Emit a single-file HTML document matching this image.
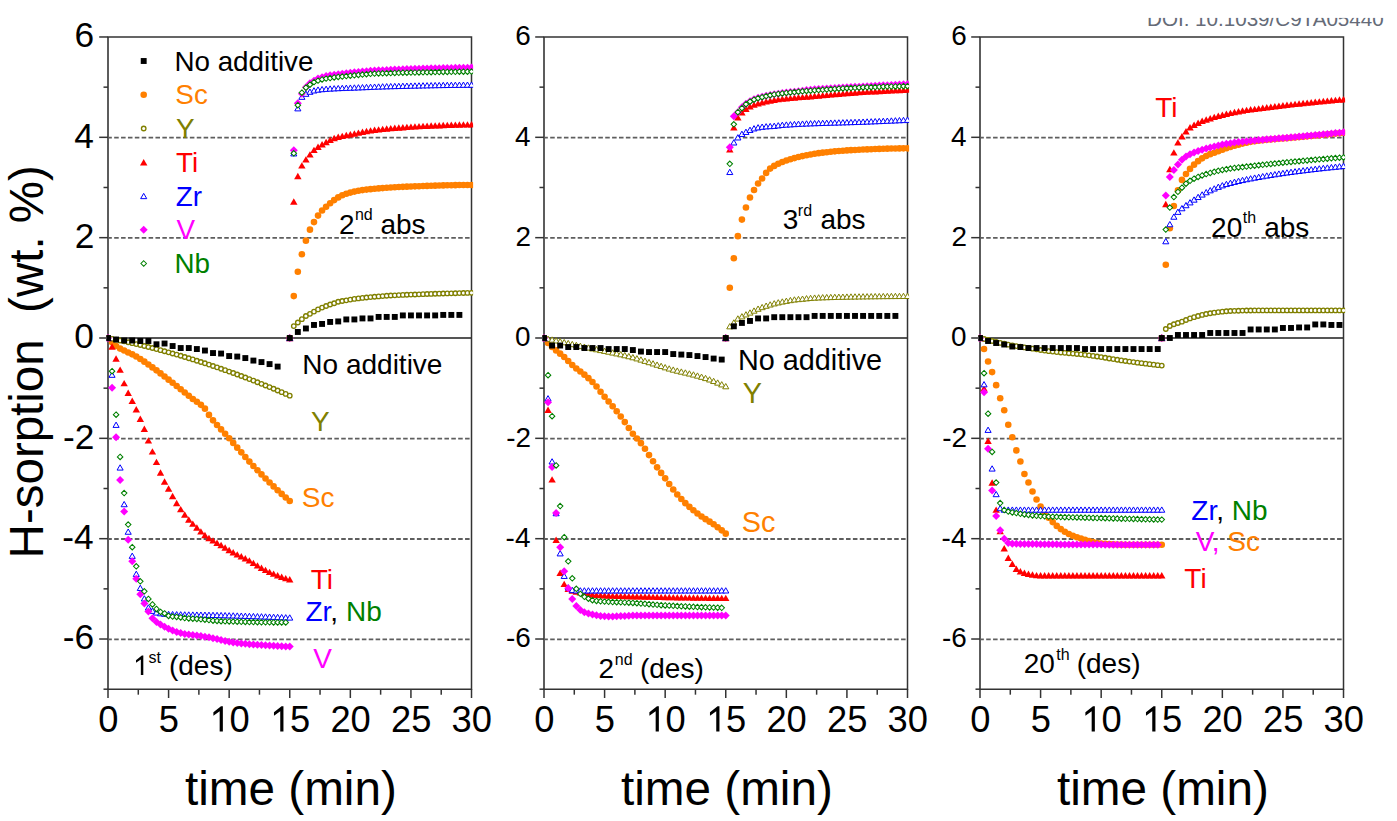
<!DOCTYPE html>
<html><head><meta charset="utf-8"><title>H-sorption</title>
<style>
html,body{margin:0;padding:0;background:#fff;}
svg{display:block;}
text{font-family:"Liberation Sans",sans-serif;}
</style></head><body>
<svg width="1397" height="821" viewBox="0 0 1397 821">
<rect width="1397" height="821" fill="#fff"/>
<g stroke="#5e5e5e" stroke-width="1.8" stroke-dasharray="4.55,2.33"><line x1="107.30" y1="137.62" x2="471.51" y2="137.62"/><line x1="107.30" y1="237.96" x2="471.51" y2="237.96"/><line x1="107.30" y1="438.64" x2="471.51" y2="438.64"/><line x1="107.30" y1="538.98" x2="471.51" y2="538.98"/><line x1="107.30" y1="639.32" x2="471.51" y2="639.32"/></g><line x1="108.0" y1="338.00" x2="471.51" y2="338.00" stroke="#555" stroke-width="1.8"/><line x1="108.0" y1="36.98" x2="108.0" y2="689.19" stroke="#5c5c5c" stroke-width="2"/><path d="M107.50,36.98H471.51V689.19H107.50" fill="none" stroke="#333" stroke-width="1.5"/><g stroke="#333" stroke-width="1.5"><line x1="103.5" y1="689.19" x2="108.0" y2="689.19"/><line x1="99.2" y1="639.02" x2="108.0" y2="639.02"/><line x1="103.5" y1="588.85" x2="108.0" y2="588.85"/><line x1="99.2" y1="538.68" x2="108.0" y2="538.68"/><line x1="103.5" y1="488.51" x2="108.0" y2="488.51"/><line x1="99.2" y1="438.34" x2="108.0" y2="438.34"/><line x1="103.5" y1="388.17" x2="108.0" y2="388.17"/><line x1="99.2" y1="338.00" x2="108.0" y2="338.00"/><line x1="103.5" y1="287.83" x2="108.0" y2="287.83"/><line x1="99.2" y1="237.66" x2="108.0" y2="237.66"/><line x1="103.5" y1="187.49" x2="108.0" y2="187.49"/><line x1="99.2" y1="137.32" x2="108.0" y2="137.32"/><line x1="103.5" y1="87.15" x2="108.0" y2="87.15"/><line x1="99.2" y1="36.98" x2="108.0" y2="36.98"/><line x1="108.00" y1="689.19" x2="108.00" y2="697.99"/><line x1="138.29" y1="689.19" x2="138.29" y2="694.69"/><line x1="168.59" y1="689.19" x2="168.59" y2="697.99"/><line x1="198.88" y1="689.19" x2="198.88" y2="694.69"/><line x1="229.17" y1="689.19" x2="229.17" y2="697.99"/><line x1="259.46" y1="689.19" x2="259.46" y2="694.69"/><line x1="289.75" y1="689.19" x2="289.75" y2="697.99"/><line x1="320.05" y1="689.19" x2="320.05" y2="694.69"/><line x1="350.34" y1="689.19" x2="350.34" y2="697.99"/><line x1="380.63" y1="689.19" x2="380.63" y2="694.69"/><line x1="410.93" y1="689.19" x2="410.93" y2="697.99"/><line x1="441.22" y1="689.19" x2="441.22" y2="694.69"/><line x1="471.51" y1="689.19" x2="471.51" y2="697.99"/></g><text x="108.30" y="731.6" font-size="36.3" text-anchor="middle">0</text><text x="168.89" y="731.6" font-size="36.3" text-anchor="middle">5</text><path d="M222.86,731.60L222.86,706.19L220.98,706.19L213.39,712.29L213.39,715.63L219.67,711.27L219.67,731.60Z" fill="#000"/><text x="229.47" y="731.6" font-size="36.3">0</text><path d="M283.45,731.60L283.45,706.19L281.56,706.19L273.97,712.29L273.97,715.63L280.25,711.27L280.25,731.60Z" fill="#000"/><text x="290.06" y="731.6" font-size="36.3">5</text><text x="350.64" y="731.6" font-size="36.3" text-anchor="middle">20</text><text x="411.23" y="731.6" font-size="36.3" text-anchor="middle">25</text><text x="471.81" y="731.6" font-size="36.3" text-anchor="middle">30</text><text x="74.52" y="47.38" font-size="35.3" fill="#000">6</text><text x="74.17" y="147.72" font-size="35.3" fill="#000">4</text><text x="74.87" y="248.06" font-size="35.3" fill="#000">2</text><text x="74.34" y="348.40" font-size="35.3" fill="#000">0</text><text x="63.05" y="448.74" font-size="35.3" fill="#000">-2</text><text x="62.34" y="549.08" font-size="35.3" fill="#000">-4</text><text x="62.70" y="649.42" font-size="35.3" fill="#000">-6</text><text x="184.93" y="804.50" font-size="47.7" fill="#000">time (min)</text><g stroke="#5e5e5e" stroke-width="1.8" stroke-dasharray="4.55,2.33"><line x1="543.30" y1="137.62" x2="907.51" y2="137.62"/><line x1="543.30" y1="237.96" x2="907.51" y2="237.96"/><line x1="543.30" y1="438.64" x2="907.51" y2="438.64"/><line x1="543.30" y1="538.98" x2="907.51" y2="538.98"/><line x1="543.30" y1="639.32" x2="907.51" y2="639.32"/></g><line x1="544.0" y1="338.00" x2="907.51" y2="338.00" stroke="#555" stroke-width="1.8"/><line x1="544.0" y1="36.98" x2="544.0" y2="689.19" stroke="#5c5c5c" stroke-width="2"/><path d="M543.50,36.98H907.51V689.19H543.50" fill="none" stroke="#333" stroke-width="1.5"/><g stroke="#333" stroke-width="1.5"><line x1="539.5" y1="689.19" x2="544.0" y2="689.19"/><line x1="535.2" y1="639.02" x2="544.0" y2="639.02"/><line x1="539.5" y1="588.85" x2="544.0" y2="588.85"/><line x1="535.2" y1="538.68" x2="544.0" y2="538.68"/><line x1="539.5" y1="488.51" x2="544.0" y2="488.51"/><line x1="535.2" y1="438.34" x2="544.0" y2="438.34"/><line x1="539.5" y1="388.17" x2="544.0" y2="388.17"/><line x1="535.2" y1="338.00" x2="544.0" y2="338.00"/><line x1="539.5" y1="287.83" x2="544.0" y2="287.83"/><line x1="535.2" y1="237.66" x2="544.0" y2="237.66"/><line x1="539.5" y1="187.49" x2="544.0" y2="187.49"/><line x1="535.2" y1="137.32" x2="544.0" y2="137.32"/><line x1="539.5" y1="87.15" x2="544.0" y2="87.15"/><line x1="535.2" y1="36.98" x2="544.0" y2="36.98"/><line x1="544.00" y1="689.19" x2="544.00" y2="697.99"/><line x1="574.29" y1="689.19" x2="574.29" y2="694.69"/><line x1="604.59" y1="689.19" x2="604.59" y2="697.99"/><line x1="634.88" y1="689.19" x2="634.88" y2="694.69"/><line x1="665.17" y1="689.19" x2="665.17" y2="697.99"/><line x1="695.46" y1="689.19" x2="695.46" y2="694.69"/><line x1="725.75" y1="689.19" x2="725.75" y2="697.99"/><line x1="756.05" y1="689.19" x2="756.05" y2="694.69"/><line x1="786.34" y1="689.19" x2="786.34" y2="697.99"/><line x1="816.63" y1="689.19" x2="816.63" y2="694.69"/><line x1="846.92" y1="689.19" x2="846.92" y2="697.99"/><line x1="877.22" y1="689.19" x2="877.22" y2="694.69"/><line x1="907.51" y1="689.19" x2="907.51" y2="697.99"/></g><text x="544.30" y="731.6" font-size="36.3" text-anchor="middle">0</text><text x="604.88" y="731.6" font-size="36.3" text-anchor="middle">5</text><path d="M658.86,731.60L658.86,706.19L656.98,706.19L649.39,712.29L649.39,715.63L655.67,711.27L655.67,731.60Z" fill="#000"/><text x="665.47" y="731.6" font-size="36.3">0</text><path d="M719.45,731.60L719.45,706.19L717.56,706.19L709.97,712.29L709.97,715.63L716.25,711.27L716.25,731.60Z" fill="#000"/><text x="726.05" y="731.6" font-size="36.3">5</text><text x="786.64" y="731.6" font-size="36.3" text-anchor="middle">20</text><text x="847.22" y="731.6" font-size="36.3" text-anchor="middle">25</text><text x="907.81" y="731.6" font-size="36.3" text-anchor="middle">30</text><text x="515.23" y="45.38" font-size="27.9" fill="#000">6</text><text x="514.95" y="145.72" font-size="27.9" fill="#000">4</text><text x="515.51" y="246.06" font-size="27.9" fill="#000">2</text><text x="515.09" y="346.40" font-size="27.9" fill="#000">0</text><text x="506.16" y="446.74" font-size="27.9" fill="#000">-2</text><text x="505.61" y="547.08" font-size="27.9" fill="#000">-4</text><text x="505.89" y="647.42" font-size="27.9" fill="#000">-6</text><text x="620.93" y="804.50" font-size="47.7" fill="#000">time (min)</text><g stroke="#5e5e5e" stroke-width="1.8" stroke-dasharray="4.55,2.33"><line x1="979.30" y1="137.62" x2="1343.51" y2="137.62"/><line x1="979.30" y1="237.96" x2="1343.51" y2="237.96"/><line x1="979.30" y1="438.64" x2="1343.51" y2="438.64"/><line x1="979.30" y1="538.98" x2="1343.51" y2="538.98"/><line x1="979.30" y1="639.32" x2="1343.51" y2="639.32"/></g><line x1="980.0" y1="338.00" x2="1343.51" y2="338.00" stroke="#555" stroke-width="1.8"/><line x1="980.0" y1="36.98" x2="980.0" y2="689.19" stroke="#5c5c5c" stroke-width="2"/><path d="M979.50,36.98H1343.51V689.19H979.50" fill="none" stroke="#333" stroke-width="1.5"/><g stroke="#333" stroke-width="1.5"><line x1="975.5" y1="689.19" x2="980.0" y2="689.19"/><line x1="971.2" y1="639.02" x2="980.0" y2="639.02"/><line x1="975.5" y1="588.85" x2="980.0" y2="588.85"/><line x1="971.2" y1="538.68" x2="980.0" y2="538.68"/><line x1="975.5" y1="488.51" x2="980.0" y2="488.51"/><line x1="971.2" y1="438.34" x2="980.0" y2="438.34"/><line x1="975.5" y1="388.17" x2="980.0" y2="388.17"/><line x1="971.2" y1="338.00" x2="980.0" y2="338.00"/><line x1="975.5" y1="287.83" x2="980.0" y2="287.83"/><line x1="971.2" y1="237.66" x2="980.0" y2="237.66"/><line x1="975.5" y1="187.49" x2="980.0" y2="187.49"/><line x1="971.2" y1="137.32" x2="980.0" y2="137.32"/><line x1="975.5" y1="87.15" x2="980.0" y2="87.15"/><line x1="971.2" y1="36.98" x2="980.0" y2="36.98"/><line x1="980.00" y1="689.19" x2="980.00" y2="697.99"/><line x1="1010.29" y1="689.19" x2="1010.29" y2="694.69"/><line x1="1040.59" y1="689.19" x2="1040.59" y2="697.99"/><line x1="1070.88" y1="689.19" x2="1070.88" y2="694.69"/><line x1="1101.17" y1="689.19" x2="1101.17" y2="697.99"/><line x1="1131.46" y1="689.19" x2="1131.46" y2="694.69"/><line x1="1161.76" y1="689.19" x2="1161.76" y2="697.99"/><line x1="1192.05" y1="689.19" x2="1192.05" y2="694.69"/><line x1="1222.34" y1="689.19" x2="1222.34" y2="697.99"/><line x1="1252.63" y1="689.19" x2="1252.63" y2="694.69"/><line x1="1282.92" y1="689.19" x2="1282.92" y2="697.99"/><line x1="1313.22" y1="689.19" x2="1313.22" y2="694.69"/><line x1="1343.51" y1="689.19" x2="1343.51" y2="697.99"/></g><text x="980.30" y="731.6" font-size="36.3" text-anchor="middle">0</text><text x="1040.88" y="731.6" font-size="36.3" text-anchor="middle">5</text><path d="M1094.86,731.60L1094.86,706.19L1092.98,706.19L1085.39,712.29L1085.39,715.63L1091.67,711.27L1091.67,731.60Z" fill="#000"/><text x="1101.47" y="731.6" font-size="36.3">0</text><path d="M1155.45,731.60L1155.45,706.19L1153.56,706.19L1145.97,712.29L1145.97,715.63L1152.25,711.27L1152.25,731.60Z" fill="#000"/><text x="1162.06" y="731.6" font-size="36.3">5</text><text x="1222.64" y="731.6" font-size="36.3" text-anchor="middle">20</text><text x="1283.22" y="731.6" font-size="36.3" text-anchor="middle">25</text><text x="1343.81" y="731.6" font-size="36.3" text-anchor="middle">30</text><text x="951.23" y="45.38" font-size="27.9" fill="#000">6</text><text x="950.95" y="145.72" font-size="27.9" fill="#000">4</text><text x="951.51" y="246.06" font-size="27.9" fill="#000">2</text><text x="951.09" y="346.40" font-size="27.9" fill="#000">0</text><text x="942.16" y="446.74" font-size="27.9" fill="#000">-2</text><text x="941.61" y="547.08" font-size="27.9" fill="#000">-4</text><text x="941.88" y="647.42" font-size="27.9" fill="#000">-6</text><text x="1056.93" y="804.50" font-size="47.7" fill="#000">time (min)</text><text transform="translate(43.3,558.4) rotate(-90)" font-size="47.5" fill="#000">H-sorption&#160;&#160;(wt. %)</text><text x="1147.05" y="25.80" font-size="20.6" fill="#656b78">DOI: 10.1039/C9TA05440</text><rect x="1100" y="0" width="297" height="17.9" fill="#fff"/><defs><clipPath id="c0"><rect x="106.40" y="35.38" width="366.71" height="655.41"/></clipPath><clipPath id="c1"><rect x="542.40" y="35.38" width="366.71" height="655.41"/></clipPath><clipPath id="c2"><rect x="978.40" y="35.38" width="366.71" height="655.41"/></clipPath></defs><g clip-path="url(#c0)"><g fill="#ff8000"><circle cx="108.00" cy="338.00" r="3.3"/><circle cx="112.04" cy="342.35" r="3.3"/><circle cx="116.08" cy="345.95" r="3.3"/><circle cx="120.12" cy="348.60" r="3.3"/><circle cx="124.16" cy="350.55" r="3.3"/><circle cx="128.19" cy="352.44" r="3.3"/><circle cx="132.23" cy="354.37" r="3.3"/><circle cx="136.27" cy="356.45" r="3.3"/><circle cx="140.31" cy="358.93" r="3.3"/><circle cx="144.35" cy="361.67" r="3.3"/><circle cx="148.39" cy="364.47" r="3.3"/><circle cx="152.43" cy="367.38" r="3.3"/><circle cx="156.47" cy="370.37" r="3.3"/><circle cx="160.51" cy="373.41" r="3.3"/><circle cx="164.55" cy="376.51" r="3.3"/><circle cx="168.59" cy="379.65" r="3.3"/><circle cx="172.62" cy="382.80" r="3.3"/><circle cx="176.66" cy="385.99" r="3.3"/><circle cx="180.70" cy="389.20" r="3.3"/><circle cx="184.74" cy="392.44" r="3.3"/><circle cx="188.78" cy="395.71" r="3.3"/><circle cx="192.82" cy="398.93" r="3.3"/><circle cx="196.86" cy="401.82" r="3.3"/><circle cx="200.90" cy="404.84" r="3.3"/><circle cx="204.94" cy="408.65" r="3.3"/><circle cx="208.97" cy="414.89" r="3.3"/><circle cx="213.01" cy="420.35" r="3.3"/><circle cx="217.05" cy="425.06" r="3.3"/><circle cx="221.09" cy="429.41" r="3.3"/><circle cx="225.13" cy="433.70" r="3.3"/><circle cx="229.17" cy="438.22" r="3.3"/><circle cx="233.21" cy="442.91" r="3.3"/><circle cx="237.25" cy="447.64" r="3.3"/><circle cx="241.29" cy="452.37" r="3.3"/><circle cx="245.33" cy="457.04" r="3.3"/><circle cx="249.37" cy="461.60" r="3.3"/><circle cx="253.40" cy="466.02" r="3.3"/><circle cx="257.44" cy="470.25" r="3.3"/><circle cx="261.48" cy="474.40" r="3.3"/><circle cx="265.52" cy="478.47" r="3.3"/><circle cx="269.56" cy="482.47" r="3.3"/><circle cx="273.60" cy="486.38" r="3.3"/><circle cx="277.64" cy="490.19" r="3.3"/><circle cx="281.68" cy="493.91" r="3.3"/><circle cx="285.72" cy="497.54" r="3.3"/><circle cx="289.75" cy="501.05" r="3.3"/></g></g><g clip-path="url(#c0)"><g fill="#fff" stroke="#808000" stroke-width="1.35"><circle cx="108.00" cy="338.00" r="2.25"/><circle cx="112.04" cy="338.80" r="2.25"/><circle cx="116.08" cy="339.63" r="2.25"/><circle cx="120.12" cy="340.48" r="2.25"/><circle cx="124.16" cy="341.34" r="2.25"/><circle cx="128.19" cy="342.24" r="2.25"/><circle cx="132.23" cy="343.15" r="2.25"/><circle cx="136.27" cy="344.08" r="2.25"/><circle cx="140.31" cy="345.04" r="2.25"/><circle cx="144.35" cy="346.01" r="2.25"/><circle cx="148.39" cy="347.01" r="2.25"/><circle cx="152.43" cy="348.04" r="2.25"/><circle cx="156.47" cy="349.08" r="2.25"/><circle cx="160.51" cy="350.14" r="2.25"/><circle cx="164.55" cy="351.23" r="2.25"/><circle cx="168.59" cy="352.34" r="2.25"/><circle cx="172.62" cy="353.47" r="2.25"/><circle cx="176.66" cy="354.62" r="2.25"/><circle cx="180.70" cy="355.79" r="2.25"/><circle cx="184.74" cy="356.98" r="2.25"/><circle cx="188.78" cy="358.20" r="2.25"/><circle cx="192.82" cy="359.44" r="2.25"/><circle cx="196.86" cy="360.70" r="2.25"/><circle cx="200.90" cy="361.98" r="2.25"/><circle cx="204.94" cy="363.29" r="2.25"/><circle cx="208.97" cy="364.61" r="2.25"/><circle cx="213.01" cy="365.96" r="2.25"/><circle cx="217.05" cy="367.33" r="2.25"/><circle cx="221.09" cy="368.72" r="2.25"/><circle cx="225.13" cy="370.13" r="2.25"/><circle cx="229.17" cy="371.56" r="2.25"/><circle cx="233.21" cy="373.02" r="2.25"/><circle cx="237.25" cy="374.50" r="2.25"/><circle cx="241.29" cy="376.00" r="2.25"/><circle cx="245.33" cy="377.52" r="2.25"/><circle cx="249.37" cy="379.06" r="2.25"/><circle cx="253.40" cy="380.62" r="2.25"/><circle cx="257.44" cy="382.21" r="2.25"/><circle cx="261.48" cy="383.82" r="2.25"/><circle cx="265.52" cy="385.45" r="2.25"/><circle cx="269.56" cy="387.10" r="2.25"/><circle cx="273.60" cy="388.77" r="2.25"/><circle cx="277.64" cy="390.47" r="2.25"/><circle cx="281.68" cy="392.18" r="2.25"/><circle cx="285.72" cy="393.92" r="2.25"/><circle cx="289.75" cy="395.68" r="2.25"/></g></g><g clip-path="url(#c0)"><g><path d="M108.00,334.80L111.70,341.20L104.30,341.20Z" fill="#ff0000"/><path d="M112.04,343.34L115.74,349.74L108.34,349.74Z" fill="#ff0000"/><path d="M116.08,355.36L119.78,361.76L112.38,361.76Z" fill="#ff0000"/><path d="M120.12,366.41L123.82,372.81L116.42,372.81Z" fill="#ff0000"/><path d="M124.16,379.96L127.86,386.36L120.46,386.36Z" fill="#ff0000"/><path d="M128.19,389.48L131.89,395.88L124.49,395.88Z" fill="#ff0000"/><path d="M132.23,397.51L135.93,403.91L128.53,403.91Z" fill="#ff0000"/><path d="M136.27,406.05L139.97,412.45L132.57,412.45Z" fill="#ff0000"/><path d="M140.31,415.56L144.01,421.96L136.61,421.96Z" fill="#ff0000"/><path d="M144.35,425.61L148.05,432.01L140.65,432.01Z" fill="#ff0000"/><path d="M148.39,437.16L152.09,443.56L144.69,443.56Z" fill="#ff0000"/><path d="M152.43,448.17L156.13,454.57L148.73,454.57Z" fill="#ff0000"/><path d="M156.47,458.72L160.17,465.12L152.77,465.12Z" fill="#ff0000"/><path d="M160.51,469.27L164.21,475.67L156.81,475.67Z" fill="#ff0000"/><path d="M164.55,478.28L168.25,484.68L160.85,484.68Z" fill="#ff0000"/><path d="M168.59,485.31L172.28,491.71L164.89,491.71Z" fill="#ff0000"/><path d="M172.62,492.84L176.32,499.24L168.92,499.24Z" fill="#ff0000"/><path d="M176.66,499.85L180.36,506.25L172.96,506.25Z" fill="#ff0000"/><path d="M180.70,505.88L184.40,512.28L177.00,512.28Z" fill="#ff0000"/><path d="M184.74,511.36L188.44,517.76L181.04,517.76Z" fill="#ff0000"/><path d="M188.78,516.28L192.48,522.68L185.08,522.68Z" fill="#ff0000"/><path d="M192.82,520.47L196.52,526.87L189.12,526.87Z" fill="#ff0000"/><path d="M196.86,524.32L200.56,530.72L193.16,530.72Z" fill="#ff0000"/><path d="M200.90,528.18L204.60,534.58L197.20,534.58Z" fill="#ff0000"/><path d="M204.94,531.78L208.64,538.18L201.24,538.18Z" fill="#ff0000"/><path d="M208.97,534.75L212.67,541.15L205.28,541.15Z" fill="#ff0000"/><path d="M213.01,537.22L216.71,543.62L209.31,543.62Z" fill="#ff0000"/><path d="M217.05,539.49L220.75,545.89L213.35,545.89Z" fill="#ff0000"/><path d="M221.09,541.81L224.79,548.21L217.39,548.21Z" fill="#ff0000"/><path d="M225.13,544.28L228.83,550.68L221.43,550.68Z" fill="#ff0000"/><path d="M229.17,546.75L232.87,553.15L225.47,553.15Z" fill="#ff0000"/><path d="M233.21,549.09L236.91,555.49L229.51,555.49Z" fill="#ff0000"/><path d="M237.25,551.17L240.95,557.57L233.55,557.57Z" fill="#ff0000"/><path d="M241.29,553.07L244.99,559.47L237.59,559.47Z" fill="#ff0000"/><path d="M245.33,555.00L249.03,561.40L241.63,561.40Z" fill="#ff0000"/><path d="M249.37,557.19L253.06,563.59L245.67,563.59Z" fill="#ff0000"/><path d="M253.40,559.68L257.10,566.08L249.70,566.08Z" fill="#ff0000"/><path d="M257.44,562.21L261.14,568.61L253.74,568.61Z" fill="#ff0000"/><path d="M261.48,564.51L265.18,570.91L257.78,570.91Z" fill="#ff0000"/><path d="M265.52,566.64L269.22,573.04L261.82,573.04Z" fill="#ff0000"/><path d="M269.56,568.63L273.26,575.03L265.86,575.03Z" fill="#ff0000"/><path d="M273.60,570.43L277.30,576.83L269.90,576.83Z" fill="#ff0000"/><path d="M277.64,572.05L281.34,578.45L273.94,578.45Z" fill="#ff0000"/><path d="M281.68,573.55L285.38,579.95L277.98,579.95Z" fill="#ff0000"/><path d="M285.72,574.92L289.42,581.32L282.02,581.32Z" fill="#ff0000"/><path d="M289.75,576.12L293.45,582.52L286.06,582.52Z" fill="#ff0000"/></g></g><g clip-path="url(#c0)"><g><path d="M108.00,335.35L111.05,340.65L104.95,340.65Z" fill="#fff" stroke="#0000ff" stroke-width="1.0"/><path d="M112.04,372.02L115.09,377.32L108.99,377.32Z" fill="#fff" stroke="#0000ff" stroke-width="1.0"/><path d="M116.08,422.10L119.13,427.40L113.03,427.40Z" fill="#fff" stroke="#0000ff" stroke-width="1.0"/><path d="M120.12,464.79L123.17,470.09L117.07,470.09Z" fill="#fff" stroke="#0000ff" stroke-width="1.0"/><path d="M124.16,501.44L127.21,506.74L121.11,506.74Z" fill="#fff" stroke="#0000ff" stroke-width="1.0"/><path d="M128.19,528.98L131.25,534.28L125.14,534.28Z" fill="#fff" stroke="#0000ff" stroke-width="1.0"/><path d="M132.23,553.09L135.28,558.39L129.18,558.39Z" fill="#fff" stroke="#0000ff" stroke-width="1.0"/><path d="M136.27,571.16L139.32,576.46L133.22,576.46Z" fill="#fff" stroke="#0000ff" stroke-width="1.0"/><path d="M140.31,585.18L143.36,590.48L137.26,590.48Z" fill="#fff" stroke="#0000ff" stroke-width="1.0"/><path d="M144.35,595.73L147.40,601.03L141.30,601.03Z" fill="#fff" stroke="#0000ff" stroke-width="1.0"/><path d="M148.39,604.77L151.44,610.07L145.34,610.07Z" fill="#fff" stroke="#0000ff" stroke-width="1.0"/><path d="M152.43,608.10L155.48,613.40L149.38,613.40Z" fill="#fff" stroke="#0000ff" stroke-width="1.0"/><path d="M156.47,609.78L159.52,615.08L153.42,615.08Z" fill="#fff" stroke="#0000ff" stroke-width="1.0"/><path d="M160.51,610.52L163.56,615.82L157.46,615.82Z" fill="#fff" stroke="#0000ff" stroke-width="1.0"/><path d="M164.55,611.01L167.60,616.31L161.50,616.31Z" fill="#fff" stroke="#0000ff" stroke-width="1.0"/><path d="M168.59,611.28L171.64,616.58L165.53,616.58Z" fill="#fff" stroke="#0000ff" stroke-width="1.0"/><path d="M172.62,611.44L175.67,616.74L169.57,616.74Z" fill="#fff" stroke="#0000ff" stroke-width="1.0"/><path d="M176.66,611.56L179.71,616.86L173.61,616.86Z" fill="#fff" stroke="#0000ff" stroke-width="1.0"/><path d="M180.70,611.67L183.75,616.97L177.65,616.97Z" fill="#fff" stroke="#0000ff" stroke-width="1.0"/><path d="M184.74,611.75L187.79,617.05L181.69,617.05Z" fill="#fff" stroke="#0000ff" stroke-width="1.0"/><path d="M188.78,611.82L191.83,617.12L185.73,617.12Z" fill="#fff" stroke="#0000ff" stroke-width="1.0"/><path d="M192.82,611.88L195.87,617.18L189.77,617.18Z" fill="#fff" stroke="#0000ff" stroke-width="1.0"/><path d="M196.86,611.94L199.91,617.24L193.81,617.24Z" fill="#fff" stroke="#0000ff" stroke-width="1.0"/><path d="M200.90,611.99L203.95,617.29L197.85,617.29Z" fill="#fff" stroke="#0000ff" stroke-width="1.0"/><path d="M204.94,612.05L207.99,617.35L201.89,617.35Z" fill="#fff" stroke="#0000ff" stroke-width="1.0"/><path d="M208.97,612.12L212.03,617.42L205.92,617.42Z" fill="#fff" stroke="#0000ff" stroke-width="1.0"/><path d="M213.01,612.20L216.06,617.50L209.96,617.50Z" fill="#fff" stroke="#0000ff" stroke-width="1.0"/><path d="M217.05,612.29L220.10,617.59L214.00,617.59Z" fill="#fff" stroke="#0000ff" stroke-width="1.0"/><path d="M221.09,612.39L224.14,617.69L218.04,617.69Z" fill="#fff" stroke="#0000ff" stroke-width="1.0"/><path d="M225.13,612.50L228.18,617.80L222.08,617.80Z" fill="#fff" stroke="#0000ff" stroke-width="1.0"/><path d="M229.17,612.62L232.22,617.92L226.12,617.92Z" fill="#fff" stroke="#0000ff" stroke-width="1.0"/><path d="M233.21,612.73L236.26,618.03L230.16,618.03Z" fill="#fff" stroke="#0000ff" stroke-width="1.0"/><path d="M237.25,612.86L240.30,618.16L234.20,618.16Z" fill="#fff" stroke="#0000ff" stroke-width="1.0"/><path d="M241.29,612.98L244.34,618.28L238.24,618.28Z" fill="#fff" stroke="#0000ff" stroke-width="1.0"/><path d="M245.33,613.11L248.38,618.41L242.28,618.41Z" fill="#fff" stroke="#0000ff" stroke-width="1.0"/><path d="M249.37,613.25L252.42,618.55L246.31,618.55Z" fill="#fff" stroke="#0000ff" stroke-width="1.0"/><path d="M253.40,613.39L256.45,618.69L250.35,618.69Z" fill="#fff" stroke="#0000ff" stroke-width="1.0"/><path d="M257.44,613.53L260.49,618.83L254.39,618.83Z" fill="#fff" stroke="#0000ff" stroke-width="1.0"/><path d="M261.48,613.67L264.53,618.97L258.43,618.97Z" fill="#fff" stroke="#0000ff" stroke-width="1.0"/><path d="M265.52,613.82L268.57,619.12L262.47,619.12Z" fill="#fff" stroke="#0000ff" stroke-width="1.0"/><path d="M269.56,613.98L272.61,619.28L266.51,619.28Z" fill="#fff" stroke="#0000ff" stroke-width="1.0"/><path d="M273.60,614.13L276.65,619.43L270.55,619.43Z" fill="#fff" stroke="#0000ff" stroke-width="1.0"/><path d="M277.64,614.29L280.69,619.59L274.59,619.59Z" fill="#fff" stroke="#0000ff" stroke-width="1.0"/><path d="M281.68,614.46L284.73,619.76L278.63,619.76Z" fill="#fff" stroke="#0000ff" stroke-width="1.0"/><path d="M285.72,614.63L288.77,619.93L282.67,619.93Z" fill="#fff" stroke="#0000ff" stroke-width="1.0"/><path d="M289.75,614.80L292.81,620.10L286.70,620.10Z" fill="#fff" stroke="#0000ff" stroke-width="1.0"/></g></g><g clip-path="url(#c0)"><g><path d="M108.00,334.00L112.00,338.00L108.00,342.00L104.00,338.00Z" fill="#ff00ff"/><path d="M112.04,383.72L116.04,387.72L112.04,391.72L108.04,387.72Z" fill="#ff00ff"/><path d="M116.08,433.29L120.08,437.29L116.08,441.29L112.08,437.29Z" fill="#ff00ff"/><path d="M120.12,475.98L124.12,479.98L120.12,483.98L116.12,479.98Z" fill="#ff00ff"/><path d="M124.16,507.62L128.16,511.62L124.16,515.62L120.16,511.62Z" fill="#ff00ff"/><path d="M128.19,535.66L132.19,539.66L128.19,543.66L124.19,539.66Z" fill="#ff00ff"/><path d="M132.23,557.26L136.23,561.26L132.23,565.26L128.23,561.26Z" fill="#ff00ff"/><path d="M136.27,574.83L140.27,578.83L136.27,582.83L132.27,578.83Z" fill="#ff00ff"/><path d="M140.31,590.36L144.31,594.36L140.31,598.36L136.31,594.36Z" fill="#ff00ff"/><path d="M144.35,599.40L148.35,603.40L144.35,607.40L140.35,603.40Z" fill="#ff00ff"/><path d="M148.39,607.43L152.39,611.43L148.39,615.43L144.39,611.43Z" fill="#ff00ff"/><path d="M152.43,614.14L156.43,618.14L152.43,622.14L148.43,618.14Z" fill="#ff00ff"/><path d="M156.47,617.93L160.47,621.93L156.47,625.93L152.47,621.93Z" fill="#ff00ff"/><path d="M160.51,620.53L164.51,624.53L160.51,628.53L156.51,624.53Z" fill="#ff00ff"/><path d="M164.55,622.64L168.55,626.64L164.55,630.64L160.55,626.64Z" fill="#ff00ff"/><path d="M168.59,624.64L172.59,628.64L168.59,632.64L164.59,628.64Z" fill="#ff00ff"/><path d="M172.62,626.45L176.62,630.45L172.62,634.45L168.62,630.45Z" fill="#ff00ff"/><path d="M176.66,627.97L180.66,631.97L176.66,635.97L172.66,631.97Z" fill="#ff00ff"/><path d="M180.70,629.08L184.70,633.08L180.70,637.08L176.70,633.08Z" fill="#ff00ff"/><path d="M184.74,629.88L188.74,633.88L184.74,637.88L180.74,633.88Z" fill="#ff00ff"/><path d="M188.78,630.53L192.78,634.53L188.78,638.53L184.78,634.53Z" fill="#ff00ff"/><path d="M192.82,631.07L196.82,635.07L192.82,639.07L188.82,635.07Z" fill="#ff00ff"/><path d="M196.86,631.57L200.86,635.57L196.86,639.57L192.86,635.57Z" fill="#ff00ff"/><path d="M200.90,632.08L204.90,636.08L200.90,640.08L196.90,636.08Z" fill="#ff00ff"/><path d="M204.94,632.66L208.94,636.66L204.94,640.66L200.94,636.66Z" fill="#ff00ff"/><path d="M208.97,633.35L212.97,637.35L208.97,641.35L204.97,637.35Z" fill="#ff00ff"/><path d="M213.01,634.19L217.01,638.19L213.01,642.19L209.01,638.19Z" fill="#ff00ff"/><path d="M217.05,635.10L221.05,639.10L217.05,643.10L213.05,639.10Z" fill="#ff00ff"/><path d="M221.09,636.04L225.09,640.04L221.09,644.04L217.09,640.04Z" fill="#ff00ff"/><path d="M225.13,636.95L229.13,640.95L225.13,644.95L221.13,640.95Z" fill="#ff00ff"/><path d="M229.17,637.76L233.17,641.76L229.17,645.76L225.17,641.76Z" fill="#ff00ff"/><path d="M233.21,638.42L237.21,642.42L233.21,646.42L229.21,642.42Z" fill="#ff00ff"/><path d="M237.25,638.93L241.25,642.93L237.25,646.93L233.25,642.93Z" fill="#ff00ff"/><path d="M241.29,639.39L245.29,643.39L241.29,647.39L237.29,643.39Z" fill="#ff00ff"/><path d="M245.33,639.80L249.33,643.80L245.33,647.80L241.33,643.80Z" fill="#ff00ff"/><path d="M249.37,640.17L253.37,644.17L249.37,648.17L245.37,644.17Z" fill="#ff00ff"/><path d="M253.40,640.51L257.40,644.51L253.40,648.51L249.40,644.51Z" fill="#ff00ff"/><path d="M257.44,640.82L261.44,644.82L257.44,648.82L253.44,644.82Z" fill="#ff00ff"/><path d="M261.48,641.09L265.48,645.09L261.48,649.09L257.48,645.09Z" fill="#ff00ff"/><path d="M265.52,641.36L269.52,645.36L265.52,649.36L261.52,645.36Z" fill="#ff00ff"/><path d="M269.56,641.61L273.56,645.61L269.56,649.61L265.56,645.61Z" fill="#ff00ff"/><path d="M273.60,641.84L277.60,645.84L273.60,649.84L269.60,645.84Z" fill="#ff00ff"/><path d="M277.64,642.05L281.64,646.05L277.64,650.05L273.64,646.05Z" fill="#ff00ff"/><path d="M281.68,642.25L285.68,646.25L281.68,650.25L277.68,646.25Z" fill="#ff00ff"/><path d="M285.72,642.41L289.72,646.41L285.72,650.41L281.72,646.41Z" fill="#ff00ff"/><path d="M289.75,642.55L293.75,646.55L289.75,650.55L285.75,646.55Z" fill="#ff00ff"/></g></g><g clip-path="url(#c0)"><g><path d="M108.00,335.25L110.75,338.00L108.00,340.75L105.25,338.00Z" fill="#fff" stroke="#008000" stroke-width="1.05"/><path d="M112.04,368.40L114.79,371.15L112.04,373.90L109.29,371.15Z" fill="#fff" stroke="#008000" stroke-width="1.05"/><path d="M116.08,411.97L118.83,414.72L116.08,417.47L113.33,414.72Z" fill="#fff" stroke="#008000" stroke-width="1.05"/><path d="M120.12,454.15L122.87,456.90L120.12,459.65L117.37,456.90Z" fill="#fff" stroke="#008000" stroke-width="1.05"/><path d="M124.16,490.31L126.91,493.06L124.16,495.81L121.41,493.06Z" fill="#fff" stroke="#008000" stroke-width="1.05"/><path d="M128.19,521.86L130.94,524.61L128.19,527.36L125.44,524.61Z" fill="#fff" stroke="#008000" stroke-width="1.05"/><path d="M132.23,544.46L134.98,547.21L132.23,549.96L129.48,547.21Z" fill="#fff" stroke="#008000" stroke-width="1.05"/><path d="M136.27,563.54L139.02,566.29L136.27,569.04L133.52,566.29Z" fill="#fff" stroke="#008000" stroke-width="1.05"/><path d="M140.31,578.56L143.06,581.31L140.31,584.06L137.56,581.31Z" fill="#fff" stroke="#008000" stroke-width="1.05"/><path d="M144.35,588.61L147.10,591.36L144.35,594.11L141.60,591.36Z" fill="#fff" stroke="#008000" stroke-width="1.05"/><path d="M148.39,596.14L151.14,598.89L148.39,601.64L145.64,598.89Z" fill="#fff" stroke="#008000" stroke-width="1.05"/><path d="M152.43,601.65L155.18,604.40L152.43,607.15L149.68,604.40Z" fill="#fff" stroke="#008000" stroke-width="1.05"/><path d="M156.47,606.17L159.22,608.92L156.47,611.67L153.72,608.92Z" fill="#fff" stroke="#008000" stroke-width="1.05"/><path d="M160.51,609.18L163.26,611.93L160.51,614.68L157.76,611.93Z" fill="#fff" stroke="#008000" stroke-width="1.05"/><path d="M164.55,610.68L167.30,613.43L164.55,616.18L161.80,613.43Z" fill="#fff" stroke="#008000" stroke-width="1.05"/><path d="M168.59,613.19L171.34,615.94L168.59,618.69L165.84,615.94Z" fill="#fff" stroke="#008000" stroke-width="1.05"/><path d="M172.62,613.77L175.37,616.52L172.62,619.27L169.87,616.52Z" fill="#fff" stroke="#008000" stroke-width="1.05"/><path d="M176.66,614.15L179.41,616.90L176.66,619.65L173.91,616.90Z" fill="#fff" stroke="#008000" stroke-width="1.05"/><path d="M180.70,614.74L183.45,617.49L180.70,620.24L177.95,617.49Z" fill="#fff" stroke="#008000" stroke-width="1.05"/><path d="M184.74,615.34L187.49,618.09L184.74,620.84L181.99,618.09Z" fill="#fff" stroke="#008000" stroke-width="1.05"/><path d="M188.78,615.69L191.53,618.44L188.78,621.19L186.03,618.44Z" fill="#fff" stroke="#008000" stroke-width="1.05"/><path d="M192.82,615.94L195.57,618.69L192.82,621.44L190.07,618.69Z" fill="#fff" stroke="#008000" stroke-width="1.05"/><path d="M196.86,616.21L199.61,618.96L196.86,621.71L194.11,618.96Z" fill="#fff" stroke="#008000" stroke-width="1.05"/><path d="M200.90,616.55L203.65,619.30L200.90,622.05L198.15,619.30Z" fill="#fff" stroke="#008000" stroke-width="1.05"/><path d="M204.94,616.93L207.69,619.68L204.94,622.43L202.19,619.68Z" fill="#fff" stroke="#008000" stroke-width="1.05"/><path d="M208.97,617.35L211.72,620.10L208.97,622.85L206.22,620.10Z" fill="#fff" stroke="#008000" stroke-width="1.05"/><path d="M213.01,617.89L215.76,620.64L213.01,623.39L210.26,620.64Z" fill="#fff" stroke="#008000" stroke-width="1.05"/><path d="M217.05,618.23L219.80,620.98L217.05,623.73L214.30,620.98Z" fill="#fff" stroke="#008000" stroke-width="1.05"/><path d="M221.09,618.40L223.84,621.15L221.09,623.90L218.34,621.15Z" fill="#fff" stroke="#008000" stroke-width="1.05"/><path d="M225.13,618.55L227.88,621.30L225.13,624.05L222.38,621.30Z" fill="#fff" stroke="#008000" stroke-width="1.05"/><path d="M229.17,618.70L231.92,621.45L229.17,624.20L226.42,621.45Z" fill="#fff" stroke="#008000" stroke-width="1.05"/><path d="M233.21,618.83L235.96,621.58L233.21,624.33L230.46,621.58Z" fill="#fff" stroke="#008000" stroke-width="1.05"/><path d="M237.25,618.96L240.00,621.71L237.25,624.46L234.50,621.71Z" fill="#fff" stroke="#008000" stroke-width="1.05"/><path d="M241.29,619.07L244.04,621.82L241.29,624.57L238.54,621.82Z" fill="#fff" stroke="#008000" stroke-width="1.05"/><path d="M245.33,619.18L248.08,621.93L245.33,624.68L242.58,621.93Z" fill="#fff" stroke="#008000" stroke-width="1.05"/><path d="M249.37,619.27L252.12,622.02L249.37,624.77L246.62,622.02Z" fill="#fff" stroke="#008000" stroke-width="1.05"/><path d="M253.40,619.36L256.15,622.11L253.40,624.86L250.65,622.11Z" fill="#fff" stroke="#008000" stroke-width="1.05"/><path d="M257.44,619.43L260.19,622.18L257.44,624.93L254.69,622.18Z" fill="#fff" stroke="#008000" stroke-width="1.05"/><path d="M261.48,619.50L264.23,622.25L261.48,625.00L258.73,622.25Z" fill="#fff" stroke="#008000" stroke-width="1.05"/><path d="M265.52,619.56L268.27,622.31L265.52,625.06L262.77,622.31Z" fill="#fff" stroke="#008000" stroke-width="1.05"/><path d="M269.56,619.61L272.31,622.36L269.56,625.11L266.81,622.36Z" fill="#fff" stroke="#008000" stroke-width="1.05"/><path d="M273.60,619.65L276.35,622.40L273.60,625.15L270.85,622.40Z" fill="#fff" stroke="#008000" stroke-width="1.05"/><path d="M277.64,619.68L280.39,622.43L277.64,625.18L274.89,622.43Z" fill="#fff" stroke="#008000" stroke-width="1.05"/><path d="M281.68,619.70L284.43,622.45L281.68,625.20L278.93,622.45Z" fill="#fff" stroke="#008000" stroke-width="1.05"/><path d="M285.72,619.71L288.47,622.46L285.72,625.21L282.97,622.46Z" fill="#fff" stroke="#008000" stroke-width="1.05"/></g></g><g clip-path="url(#c0)"><g fill="#ff8000"><circle cx="289.75" cy="338.00" r="3.3"/><circle cx="293.79" cy="296.08" r="3.3"/><circle cx="297.83" cy="271.80" r="3.3"/><circle cx="301.87" cy="254.22" r="3.3"/><circle cx="305.91" cy="240.66" r="3.3"/><circle cx="309.95" cy="229.64" r="3.3"/><circle cx="313.99" cy="222.11" r="3.3"/><circle cx="318.03" cy="215.58" r="3.3"/><circle cx="322.07" cy="210.57" r="3.3"/><circle cx="326.11" cy="206.79" r="3.3"/><circle cx="330.14" cy="203.27" r="3.3"/><circle cx="334.18" cy="200.11" r="3.3"/><circle cx="338.22" cy="197.41" r="3.3"/><circle cx="342.26" cy="195.26" r="3.3"/><circle cx="346.30" cy="193.76" r="3.3"/><circle cx="350.34" cy="192.60" r="3.3"/><circle cx="354.38" cy="191.61" r="3.3"/><circle cx="358.42" cy="190.79" r="3.3"/><circle cx="362.46" cy="190.12" r="3.3"/><circle cx="366.50" cy="189.59" r="3.3"/><circle cx="370.53" cy="189.16" r="3.3"/><circle cx="374.57" cy="188.77" r="3.3"/><circle cx="378.61" cy="188.41" r="3.3"/><circle cx="382.65" cy="188.08" r="3.3"/><circle cx="386.69" cy="187.78" r="3.3"/><circle cx="390.73" cy="187.51" r="3.3"/><circle cx="394.77" cy="187.27" r="3.3"/><circle cx="398.81" cy="187.05" r="3.3"/><circle cx="402.85" cy="186.85" r="3.3"/><circle cx="406.89" cy="186.67" r="3.3"/><circle cx="410.93" cy="186.51" r="3.3"/><circle cx="414.96" cy="186.36" r="3.3"/><circle cx="419.00" cy="186.21" r="3.3"/><circle cx="423.04" cy="186.06" r="3.3"/><circle cx="427.08" cy="185.92" r="3.3"/><circle cx="431.12" cy="185.78" r="3.3"/><circle cx="435.16" cy="185.65" r="3.3"/><circle cx="439.20" cy="185.52" r="3.3"/><circle cx="443.24" cy="185.41" r="3.3"/><circle cx="447.28" cy="185.30" r="3.3"/><circle cx="451.31" cy="185.21" r="3.3"/><circle cx="455.35" cy="185.13" r="3.3"/><circle cx="459.39" cy="185.07" r="3.3"/><circle cx="463.43" cy="185.02" r="3.3"/><circle cx="467.47" cy="184.99" r="3.3"/><circle cx="471.51" cy="184.98" r="3.3"/></g></g><g clip-path="url(#c0)"><g fill="#fff" stroke="#808000" stroke-width="1.35"><circle cx="289.75" cy="338.00" r="2.25"/><circle cx="293.79" cy="326.05" r="2.25"/><circle cx="297.83" cy="322.45" r="2.25"/><circle cx="301.87" cy="319.14" r="2.25"/><circle cx="305.91" cy="316.02" r="2.25"/><circle cx="309.95" cy="313.82" r="2.25"/><circle cx="313.99" cy="311.61" r="2.25"/><circle cx="318.03" cy="309.40" r="2.25"/><circle cx="322.07" cy="307.60" r="2.25"/><circle cx="326.11" cy="305.99" r="2.25"/><circle cx="330.14" cy="304.49" r="2.25"/><circle cx="334.18" cy="303.23" r="2.25"/><circle cx="338.22" cy="301.78" r="2.25"/><circle cx="342.26" cy="300.98" r="2.25"/><circle cx="346.30" cy="300.32" r="2.25"/><circle cx="350.34" cy="299.59" r="2.25"/><circle cx="354.38" cy="298.92" r="2.25"/><circle cx="358.42" cy="298.38" r="2.25"/><circle cx="362.46" cy="297.91" r="2.25"/><circle cx="366.50" cy="297.48" r="2.25"/><circle cx="370.53" cy="297.07" r="2.25"/><circle cx="374.57" cy="296.71" r="2.25"/><circle cx="378.61" cy="296.38" r="2.25"/><circle cx="382.65" cy="296.07" r="2.25"/><circle cx="386.69" cy="295.79" r="2.25"/><circle cx="390.73" cy="295.54" r="2.25"/><circle cx="394.77" cy="295.32" r="2.25"/><circle cx="398.81" cy="295.12" r="2.25"/><circle cx="402.85" cy="294.94" r="2.25"/><circle cx="406.89" cy="294.77" r="2.25"/><circle cx="410.93" cy="294.60" r="2.25"/><circle cx="414.96" cy="294.45" r="2.25"/><circle cx="419.00" cy="294.30" r="2.25"/><circle cx="423.04" cy="294.16" r="2.25"/><circle cx="427.08" cy="294.03" r="2.25"/><circle cx="431.12" cy="293.90" r="2.25"/><circle cx="435.16" cy="293.78" r="2.25"/><circle cx="439.20" cy="293.66" r="2.25"/><circle cx="443.24" cy="293.54" r="2.25"/><circle cx="447.28" cy="293.43" r="2.25"/><circle cx="451.31" cy="293.32" r="2.25"/><circle cx="455.35" cy="293.22" r="2.25"/><circle cx="459.39" cy="293.12" r="2.25"/><circle cx="463.43" cy="293.02" r="2.25"/><circle cx="467.47" cy="292.93" r="2.25"/><circle cx="471.51" cy="292.85" r="2.25"/></g></g><g clip-path="url(#c0)"><g><path d="M289.75,334.80L293.45,341.20L286.06,341.20Z" fill="#ff0000"/><path d="M293.79,198.29L297.49,204.69L290.09,204.69Z" fill="#ff0000"/><path d="M297.83,172.77L301.53,179.17L294.13,179.17Z" fill="#ff0000"/><path d="M301.87,162.22L305.57,168.62L298.17,168.62Z" fill="#ff0000"/><path d="M305.91,156.19L309.61,162.59L302.21,162.59Z" fill="#ff0000"/><path d="M309.95,151.18L313.65,157.58L306.25,157.58Z" fill="#ff0000"/><path d="M313.99,146.66L317.69,153.06L310.29,153.06Z" fill="#ff0000"/><path d="M318.03,143.58L321.73,149.98L314.33,149.98Z" fill="#ff0000"/><path d="M322.07,141.08L325.77,147.48L318.37,147.48Z" fill="#ff0000"/><path d="M326.11,138.80L329.81,145.20L322.41,145.20Z" fill="#ff0000"/><path d="M330.14,136.55L333.84,142.95L326.44,142.95Z" fill="#ff0000"/><path d="M334.18,134.76L337.88,141.16L330.48,141.16Z" fill="#ff0000"/><path d="M338.22,133.58L341.92,139.98L334.52,139.98Z" fill="#ff0000"/><path d="M342.26,132.65L345.96,139.05L338.56,139.05Z" fill="#ff0000"/><path d="M346.30,131.85L350.00,138.25L342.60,138.25Z" fill="#ff0000"/><path d="M350.34,131.09L354.04,137.49L346.64,137.49Z" fill="#ff0000"/><path d="M354.38,130.27L358.08,136.67L350.68,136.67Z" fill="#ff0000"/><path d="M358.42,129.42L362.12,135.82L354.72,135.82Z" fill="#ff0000"/><path d="M362.46,128.58L366.16,134.98L358.76,134.98Z" fill="#ff0000"/><path d="M366.50,127.81L370.20,134.21L362.80,134.21Z" fill="#ff0000"/><path d="M370.53,127.15L374.23,133.55L366.83,133.55Z" fill="#ff0000"/><path d="M374.57,126.61L378.27,133.01L370.87,133.01Z" fill="#ff0000"/><path d="M378.61,126.13L382.31,132.53L374.91,132.53Z" fill="#ff0000"/><path d="M382.65,125.69L386.35,132.09L378.95,132.09Z" fill="#ff0000"/><path d="M386.69,125.30L390.39,131.70L382.99,131.70Z" fill="#ff0000"/><path d="M390.73,124.95L394.43,131.35L387.03,131.35Z" fill="#ff0000"/><path d="M394.77,124.61L398.47,131.01L391.07,131.01Z" fill="#ff0000"/><path d="M398.81,124.29L402.51,130.69L395.11,130.69Z" fill="#ff0000"/><path d="M402.85,123.98L406.55,130.38L399.15,130.38Z" fill="#ff0000"/><path d="M406.89,123.69L410.59,130.09L403.19,130.09Z" fill="#ff0000"/><path d="M410.93,123.42L414.62,129.82L407.23,129.82Z" fill="#ff0000"/><path d="M414.96,123.17L418.66,129.57L411.26,129.57Z" fill="#ff0000"/><path d="M419.00,122.93L422.70,129.33L415.30,129.33Z" fill="#ff0000"/><path d="M423.04,122.72L426.74,129.12L419.34,129.12Z" fill="#ff0000"/><path d="M427.08,122.54L430.78,128.94L423.38,128.94Z" fill="#ff0000"/><path d="M431.12,122.36L434.82,128.76L427.42,128.76Z" fill="#ff0000"/><path d="M435.16,122.18L438.86,128.58L431.46,128.58Z" fill="#ff0000"/><path d="M439.20,122.02L442.90,128.42L435.50,128.42Z" fill="#ff0000"/><path d="M443.24,121.86L446.94,128.26L439.54,128.26Z" fill="#ff0000"/><path d="M447.28,121.71L450.98,128.11L443.58,128.11Z" fill="#ff0000"/><path d="M451.31,121.57L455.01,127.97L447.62,127.97Z" fill="#ff0000"/><path d="M455.35,121.44L459.05,127.84L451.65,127.84Z" fill="#ff0000"/><path d="M459.39,121.32L463.09,127.72L455.69,127.72Z" fill="#ff0000"/><path d="M463.43,121.22L467.13,127.62L459.73,127.62Z" fill="#ff0000"/><path d="M467.47,121.14L471.17,127.54L463.77,127.54Z" fill="#ff0000"/><path d="M471.51,121.08L475.21,127.48L467.81,127.48Z" fill="#ff0000"/></g></g><g clip-path="url(#c0)"><g><path d="M289.75,335.35L292.81,340.65L286.70,340.65Z" fill="#fff" stroke="#0000ff" stroke-width="1.0"/><path d="M293.79,150.65L296.84,155.95L290.74,155.95Z" fill="#fff" stroke="#0000ff" stroke-width="1.0"/><path d="M297.83,105.59L300.88,110.89L294.78,110.89Z" fill="#fff" stroke="#0000ff" stroke-width="1.0"/><path d="M301.87,94.03L304.92,99.33L298.82,99.33Z" fill="#fff" stroke="#0000ff" stroke-width="1.0"/><path d="M305.91,91.02L308.96,96.32L302.86,96.32Z" fill="#fff" stroke="#0000ff" stroke-width="1.0"/><path d="M309.95,88.99L313.00,94.29L306.90,94.29Z" fill="#fff" stroke="#0000ff" stroke-width="1.0"/><path d="M313.99,87.71L317.04,93.01L310.94,93.01Z" fill="#fff" stroke="#0000ff" stroke-width="1.0"/><path d="M318.03,86.91L321.08,92.21L314.98,92.21Z" fill="#fff" stroke="#0000ff" stroke-width="1.0"/><path d="M322.07,86.44L325.12,91.74L319.02,91.74Z" fill="#fff" stroke="#0000ff" stroke-width="1.0"/><path d="M326.11,86.12L329.16,91.42L323.06,91.42Z" fill="#fff" stroke="#0000ff" stroke-width="1.0"/><path d="M330.14,85.85L333.19,91.15L327.09,91.15Z" fill="#fff" stroke="#0000ff" stroke-width="1.0"/><path d="M334.18,85.62L337.23,90.92L331.13,90.92Z" fill="#fff" stroke="#0000ff" stroke-width="1.0"/><path d="M338.22,85.43L341.27,90.73L335.17,90.73Z" fill="#fff" stroke="#0000ff" stroke-width="1.0"/><path d="M342.26,85.25L345.31,90.55L339.21,90.55Z" fill="#fff" stroke="#0000ff" stroke-width="1.0"/><path d="M346.30,85.10L349.35,90.40L343.25,90.40Z" fill="#fff" stroke="#0000ff" stroke-width="1.0"/><path d="M350.34,84.95L353.39,90.25L347.29,90.25Z" fill="#fff" stroke="#0000ff" stroke-width="1.0"/><path d="M354.38,84.81L357.43,90.11L351.33,90.11Z" fill="#fff" stroke="#0000ff" stroke-width="1.0"/><path d="M358.42,84.66L361.47,89.96L355.37,89.96Z" fill="#fff" stroke="#0000ff" stroke-width="1.0"/><path d="M362.46,84.50L365.51,89.80L359.41,89.80Z" fill="#fff" stroke="#0000ff" stroke-width="1.0"/><path d="M366.50,84.33L369.55,89.63L363.45,89.63Z" fill="#fff" stroke="#0000ff" stroke-width="1.0"/><path d="M370.53,84.16L373.58,89.46L367.48,89.46Z" fill="#fff" stroke="#0000ff" stroke-width="1.0"/><path d="M374.57,83.99L377.62,89.29L371.52,89.29Z" fill="#fff" stroke="#0000ff" stroke-width="1.0"/><path d="M378.61,83.84L381.66,89.14L375.56,89.14Z" fill="#fff" stroke="#0000ff" stroke-width="1.0"/><path d="M382.65,83.69L385.70,88.99L379.60,88.99Z" fill="#fff" stroke="#0000ff" stroke-width="1.0"/><path d="M386.69,83.56L389.74,88.86L383.64,88.86Z" fill="#fff" stroke="#0000ff" stroke-width="1.0"/><path d="M390.73,83.45L393.78,88.75L387.68,88.75Z" fill="#fff" stroke="#0000ff" stroke-width="1.0"/><path d="M394.77,83.35L397.82,88.65L391.72,88.65Z" fill="#fff" stroke="#0000ff" stroke-width="1.0"/><path d="M398.81,83.25L401.86,88.55L395.76,88.55Z" fill="#fff" stroke="#0000ff" stroke-width="1.0"/><path d="M402.85,83.14L405.90,88.44L399.80,88.44Z" fill="#fff" stroke="#0000ff" stroke-width="1.0"/><path d="M406.89,83.04L409.94,88.34L403.84,88.34Z" fill="#fff" stroke="#0000ff" stroke-width="1.0"/><path d="M410.93,82.94L413.98,88.24L407.88,88.24Z" fill="#fff" stroke="#0000ff" stroke-width="1.0"/><path d="M414.96,82.85L418.01,88.15L411.91,88.15Z" fill="#fff" stroke="#0000ff" stroke-width="1.0"/><path d="M419.00,82.75L422.05,88.05L415.95,88.05Z" fill="#fff" stroke="#0000ff" stroke-width="1.0"/><path d="M423.04,82.66L426.09,87.96L419.99,87.96Z" fill="#fff" stroke="#0000ff" stroke-width="1.0"/><path d="M427.08,82.58L430.13,87.88L424.03,87.88Z" fill="#fff" stroke="#0000ff" stroke-width="1.0"/><path d="M431.12,82.50L434.17,87.80L428.07,87.80Z" fill="#fff" stroke="#0000ff" stroke-width="1.0"/><path d="M435.16,82.42L438.21,87.72L432.11,87.72Z" fill="#fff" stroke="#0000ff" stroke-width="1.0"/><path d="M439.20,82.35L442.25,87.65L436.15,87.65Z" fill="#fff" stroke="#0000ff" stroke-width="1.0"/><path d="M443.24,82.28L446.29,87.58L440.19,87.58Z" fill="#fff" stroke="#0000ff" stroke-width="1.0"/><path d="M447.28,82.22L450.33,87.52L444.23,87.52Z" fill="#fff" stroke="#0000ff" stroke-width="1.0"/><path d="M451.31,82.16L454.37,87.46L448.26,87.46Z" fill="#fff" stroke="#0000ff" stroke-width="1.0"/><path d="M455.35,82.11L458.40,87.41L452.30,87.41Z" fill="#fff" stroke="#0000ff" stroke-width="1.0"/><path d="M459.39,82.07L462.44,87.37L456.34,87.37Z" fill="#fff" stroke="#0000ff" stroke-width="1.0"/><path d="M463.43,82.04L466.48,87.34L460.38,87.34Z" fill="#fff" stroke="#0000ff" stroke-width="1.0"/><path d="M467.47,82.01L470.52,87.31L464.42,87.31Z" fill="#fff" stroke="#0000ff" stroke-width="1.0"/><path d="M471.51,81.99L474.56,87.29L468.46,87.29Z" fill="#fff" stroke="#0000ff" stroke-width="1.0"/></g></g><g clip-path="url(#c0)"><g><path d="M289.75,334.00L293.75,338.00L289.75,342.00L285.75,338.00Z" fill="#ff00ff"/><path d="M293.79,146.29L297.79,150.29L293.79,154.29L289.79,150.29Z" fill="#ff00ff"/><path d="M297.83,99.22L301.83,103.22L297.83,107.22L293.83,103.22Z" fill="#ff00ff"/><path d="M301.87,89.67L305.87,93.67L301.87,97.67L297.87,93.67Z" fill="#ff00ff"/><path d="M305.91,83.15L309.91,87.15L305.91,91.15L301.91,87.15Z" fill="#ff00ff"/><path d="M309.95,79.14L313.95,83.14L309.95,87.14L305.95,83.14Z" fill="#ff00ff"/><path d="M313.99,76.63L317.99,80.63L313.99,84.63L309.99,80.63Z" fill="#ff00ff"/><path d="M318.03,74.62L322.03,78.62L318.03,82.62L314.03,78.62Z" fill="#ff00ff"/><path d="M322.07,73.17L326.07,77.17L322.07,81.17L318.07,77.17Z" fill="#ff00ff"/><path d="M326.11,72.11L330.11,76.11L326.11,80.11L322.11,76.11Z" fill="#ff00ff"/><path d="M330.14,71.37L334.14,75.37L330.14,79.37L326.14,75.37Z" fill="#ff00ff"/><path d="M334.18,70.72L338.18,74.72L334.18,78.72L330.18,74.72Z" fill="#ff00ff"/><path d="M338.22,70.15L342.22,74.15L338.22,78.15L334.22,74.15Z" fill="#ff00ff"/><path d="M342.26,69.64L346.26,73.64L342.26,77.64L338.26,73.64Z" fill="#ff00ff"/><path d="M346.30,69.18L350.30,73.18L346.30,77.18L342.30,73.18Z" fill="#ff00ff"/><path d="M350.34,68.76L354.34,72.76L350.34,76.76L346.34,72.76Z" fill="#ff00ff"/><path d="M354.38,68.36L358.38,72.36L354.38,76.36L350.38,72.36Z" fill="#ff00ff"/><path d="M358.42,67.98L362.42,71.98L358.42,75.98L354.42,71.98Z" fill="#ff00ff"/><path d="M362.46,67.60L366.46,71.60L362.46,75.60L358.46,71.60Z" fill="#ff00ff"/><path d="M366.50,67.22L370.50,71.22L366.50,75.22L362.50,71.22Z" fill="#ff00ff"/><path d="M370.53,66.87L374.53,70.87L370.53,74.87L366.53,70.87Z" fill="#ff00ff"/><path d="M374.57,66.59L378.57,70.59L374.57,74.59L370.57,70.59Z" fill="#ff00ff"/><path d="M378.61,66.36L382.61,70.36L378.61,74.36L374.61,70.36Z" fill="#ff00ff"/><path d="M382.65,66.14L386.65,70.14L382.65,74.14L378.65,70.14Z" fill="#ff00ff"/><path d="M386.69,65.94L390.69,69.94L386.69,73.94L382.69,69.94Z" fill="#ff00ff"/><path d="M390.73,65.75L394.73,69.75L390.73,73.75L386.73,69.75Z" fill="#ff00ff"/><path d="M394.77,65.57L398.77,69.57L394.77,73.57L390.77,69.57Z" fill="#ff00ff"/><path d="M398.81,65.40L402.81,69.40L398.81,73.40L394.81,69.40Z" fill="#ff00ff"/><path d="M402.85,65.24L406.85,69.24L402.85,73.24L398.85,69.24Z" fill="#ff00ff"/><path d="M406.89,65.09L410.89,69.09L406.89,73.09L402.89,69.09Z" fill="#ff00ff"/><path d="M410.93,64.95L414.93,68.95L410.93,72.95L406.93,68.95Z" fill="#ff00ff"/><path d="M414.96,64.82L418.96,68.82L414.96,72.82L410.96,68.82Z" fill="#ff00ff"/><path d="M419.00,64.70L423.00,68.70L419.00,72.70L415.00,68.70Z" fill="#ff00ff"/><path d="M423.04,64.59L427.04,68.59L423.04,72.59L419.04,68.59Z" fill="#ff00ff"/><path d="M427.08,64.48L431.08,68.48L427.08,72.48L423.08,68.48Z" fill="#ff00ff"/><path d="M431.12,64.37L435.12,68.37L431.12,72.37L427.12,68.37Z" fill="#ff00ff"/><path d="M435.16,64.27L439.16,68.27L435.16,72.27L431.16,68.27Z" fill="#ff00ff"/><path d="M439.20,64.17L443.20,68.17L439.20,72.17L435.20,68.17Z" fill="#ff00ff"/><path d="M443.24,64.07L447.24,68.07L443.24,72.07L439.24,68.07Z" fill="#ff00ff"/><path d="M447.28,63.98L451.28,67.98L447.28,71.98L443.28,67.98Z" fill="#ff00ff"/><path d="M451.31,63.90L455.31,67.90L451.31,71.90L447.31,67.90Z" fill="#ff00ff"/><path d="M455.35,63.82L459.35,67.82L455.35,71.82L451.35,67.82Z" fill="#ff00ff"/><path d="M459.39,63.75L463.39,67.75L459.39,71.75L455.39,67.75Z" fill="#ff00ff"/><path d="M463.43,63.69L467.43,67.69L463.43,71.69L459.43,67.69Z" fill="#ff00ff"/><path d="M467.47,63.63L471.47,67.63L467.47,71.63L463.47,67.63Z" fill="#ff00ff"/><path d="M471.51,63.58L475.51,67.58L471.51,71.58L467.51,67.58Z" fill="#ff00ff"/></g></g><g clip-path="url(#c0)"><g><path d="M289.75,335.25L292.50,338.00L289.75,340.75L287.00,338.00Z" fill="#fff" stroke="#008000" stroke-width="1.05"/><path d="M293.79,150.55L296.54,153.30L293.79,156.05L291.04,153.30Z" fill="#fff" stroke="#008000" stroke-width="1.05"/><path d="M297.83,102.48L300.58,105.23L297.83,107.98L295.08,105.23Z" fill="#fff" stroke="#008000" stroke-width="1.05"/><path d="M301.87,89.92L304.62,92.67L301.87,95.42L299.12,92.67Z" fill="#fff" stroke="#008000" stroke-width="1.05"/><path d="M305.91,84.90L308.66,87.65L305.91,90.40L303.16,87.65Z" fill="#fff" stroke="#008000" stroke-width="1.05"/><path d="M309.95,81.89L312.70,84.64L309.95,87.39L307.20,84.64Z" fill="#fff" stroke="#008000" stroke-width="1.05"/><path d="M313.99,79.38L316.74,82.13L313.99,84.88L311.24,82.13Z" fill="#fff" stroke="#008000" stroke-width="1.05"/><path d="M318.03,77.88L320.78,80.63L318.03,83.38L315.28,80.63Z" fill="#fff" stroke="#008000" stroke-width="1.05"/><path d="M322.07,76.68L324.82,79.43L322.07,82.18L319.32,79.43Z" fill="#fff" stroke="#008000" stroke-width="1.05"/><path d="M326.11,75.87L328.86,78.62L326.11,81.37L323.36,78.62Z" fill="#fff" stroke="#008000" stroke-width="1.05"/><path d="M330.14,75.27L332.89,78.02L330.14,80.77L327.39,78.02Z" fill="#fff" stroke="#008000" stroke-width="1.05"/><path d="M334.18,74.73L336.93,77.48L334.18,80.23L331.43,77.48Z" fill="#fff" stroke="#008000" stroke-width="1.05"/><path d="M338.22,74.24L340.97,76.99L338.22,79.74L335.47,76.99Z" fill="#fff" stroke="#008000" stroke-width="1.05"/><path d="M342.26,73.79L345.01,76.54L342.26,79.29L339.51,76.54Z" fill="#fff" stroke="#008000" stroke-width="1.05"/><path d="M346.30,73.37L349.05,76.12L346.30,78.87L343.55,76.12Z" fill="#fff" stroke="#008000" stroke-width="1.05"/><path d="M350.34,72.98L353.09,75.73L350.34,78.48L347.59,75.73Z" fill="#fff" stroke="#008000" stroke-width="1.05"/><path d="M354.38,72.60L357.13,75.35L354.38,78.10L351.63,75.35Z" fill="#fff" stroke="#008000" stroke-width="1.05"/><path d="M358.42,72.23L361.17,74.98L358.42,77.73L355.67,74.98Z" fill="#fff" stroke="#008000" stroke-width="1.05"/><path d="M362.46,71.86L365.21,74.61L362.46,77.36L359.71,74.61Z" fill="#fff" stroke="#008000" stroke-width="1.05"/><path d="M366.50,71.47L369.25,74.22L366.50,76.97L363.75,74.22Z" fill="#fff" stroke="#008000" stroke-width="1.05"/><path d="M370.53,71.11L373.28,73.86L370.53,76.61L367.78,73.86Z" fill="#fff" stroke="#008000" stroke-width="1.05"/><path d="M374.57,70.85L377.32,73.60L374.57,76.35L371.82,73.60Z" fill="#fff" stroke="#008000" stroke-width="1.05"/><path d="M378.61,70.69L381.36,73.44L378.61,76.19L375.86,73.44Z" fill="#fff" stroke="#008000" stroke-width="1.05"/><path d="M382.65,70.54L385.40,73.29L382.65,76.04L379.90,73.29Z" fill="#fff" stroke="#008000" stroke-width="1.05"/><path d="M386.69,70.40L389.44,73.15L386.69,75.90L383.94,73.15Z" fill="#fff" stroke="#008000" stroke-width="1.05"/><path d="M390.73,70.28L393.48,73.03L390.73,75.78L387.98,73.03Z" fill="#fff" stroke="#008000" stroke-width="1.05"/><path d="M394.77,70.17L397.52,72.92L394.77,75.67L392.02,72.92Z" fill="#fff" stroke="#008000" stroke-width="1.05"/><path d="M398.81,70.08L401.56,72.83L398.81,75.58L396.06,72.83Z" fill="#fff" stroke="#008000" stroke-width="1.05"/><path d="M402.85,69.99L405.60,72.74L402.85,75.49L400.10,72.74Z" fill="#fff" stroke="#008000" stroke-width="1.05"/><path d="M406.89,69.91L409.64,72.66L406.89,75.41L404.14,72.66Z" fill="#fff" stroke="#008000" stroke-width="1.05"/><path d="M410.93,69.83L413.68,72.58L410.93,75.33L408.18,72.58Z" fill="#fff" stroke="#008000" stroke-width="1.05"/><path d="M414.96,69.75L417.71,72.50L414.96,75.25L412.21,72.50Z" fill="#fff" stroke="#008000" stroke-width="1.05"/><path d="M419.00,69.68L421.75,72.43L419.00,75.18L416.25,72.43Z" fill="#fff" stroke="#008000" stroke-width="1.05"/><path d="M423.04,69.60L425.79,72.35L423.04,75.10L420.29,72.35Z" fill="#fff" stroke="#008000" stroke-width="1.05"/><path d="M427.08,69.52L429.83,72.27L427.08,75.02L424.33,72.27Z" fill="#fff" stroke="#008000" stroke-width="1.05"/><path d="M431.12,69.45L433.87,72.20L431.12,74.95L428.37,72.20Z" fill="#fff" stroke="#008000" stroke-width="1.05"/><path d="M435.16,69.37L437.91,72.12L435.16,74.87L432.41,72.12Z" fill="#fff" stroke="#008000" stroke-width="1.05"/><path d="M439.20,69.30L441.95,72.05L439.20,74.80L436.45,72.05Z" fill="#fff" stroke="#008000" stroke-width="1.05"/><path d="M443.24,69.23L445.99,71.98L443.24,74.73L440.49,71.98Z" fill="#fff" stroke="#008000" stroke-width="1.05"/><path d="M447.28,69.17L450.03,71.92L447.28,74.67L444.53,71.92Z" fill="#fff" stroke="#008000" stroke-width="1.05"/><path d="M451.31,69.11L454.06,71.86L451.31,74.61L448.56,71.86Z" fill="#fff" stroke="#008000" stroke-width="1.05"/><path d="M455.35,69.05L458.10,71.80L455.35,74.55L452.60,71.80Z" fill="#fff" stroke="#008000" stroke-width="1.05"/><path d="M459.39,68.99L462.14,71.74L459.39,74.49L456.64,71.74Z" fill="#fff" stroke="#008000" stroke-width="1.05"/><path d="M463.43,68.94L466.18,71.69L463.43,74.44L460.68,71.69Z" fill="#fff" stroke="#008000" stroke-width="1.05"/><path d="M467.47,68.89L470.22,71.64L467.47,74.39L464.72,71.64Z" fill="#fff" stroke="#008000" stroke-width="1.05"/><path d="M471.51,68.85L474.26,71.60L471.51,74.35L468.76,71.60Z" fill="#fff" stroke="#008000" stroke-width="1.05"/></g></g><g clip-path="url(#c0)"><g fill="#000"><rect x="105.05" y="335.05" width="5.9" height="5.9"/><rect x="113.13" y="336.56" width="5.9" height="5.9"/><rect x="121.21" y="337.56" width="5.9" height="5.9"/><rect x="129.28" y="337.56" width="5.9" height="5.9"/><rect x="137.36" y="338.06" width="5.9" height="5.9"/><rect x="145.44" y="338.06" width="5.9" height="5.9"/><rect x="153.52" y="341.32" width="5.9" height="5.9"/><rect x="161.60" y="340.57" width="5.9" height="5.9"/><rect x="169.67" y="343.08" width="5.9" height="5.9"/><rect x="177.75" y="345.08" width="5.9" height="5.9"/><rect x="185.83" y="345.08" width="5.9" height="5.9"/><rect x="193.91" y="346.09" width="5.9" height="5.9"/><rect x="201.99" y="347.59" width="5.9" height="5.9"/><rect x="210.06" y="350.10" width="5.9" height="5.9"/><rect x="218.14" y="350.60" width="5.9" height="5.9"/><rect x="226.22" y="353.11" width="5.9" height="5.9"/><rect x="234.30" y="353.61" width="5.9" height="5.9"/><rect x="242.38" y="355.12" width="5.9" height="5.9"/><rect x="250.45" y="357.63" width="5.9" height="5.9"/><rect x="258.53" y="359.13" width="5.9" height="5.9"/><rect x="266.61" y="361.14" width="5.9" height="5.9"/><rect x="274.69" y="363.65" width="5.9" height="5.9"/></g></g><g clip-path="url(#c0)"><g fill="#000"><rect x="286.81" y="335.05" width="5.9" height="5.9"/><rect x="294.88" y="329.03" width="5.9" height="5.9"/><rect x="302.96" y="325.52" width="5.9" height="5.9"/><rect x="311.04" y="322.01" width="5.9" height="5.9"/><rect x="319.12" y="321.00" width="5.9" height="5.9"/><rect x="327.19" y="319.00" width="5.9" height="5.9"/><rect x="335.27" y="318.49" width="5.9" height="5.9"/><rect x="343.35" y="316.49" width="5.9" height="5.9"/><rect x="351.43" y="316.49" width="5.9" height="5.9"/><rect x="359.51" y="315.48" width="5.9" height="5.9"/><rect x="367.58" y="315.48" width="5.9" height="5.9"/><rect x="375.66" y="313.98" width="5.9" height="5.9"/><rect x="383.74" y="313.98" width="5.9" height="5.9"/><rect x="391.82" y="313.98" width="5.9" height="5.9"/><rect x="399.90" y="312.47" width="5.9" height="5.9"/><rect x="407.98" y="312.47" width="5.9" height="5.9"/><rect x="416.05" y="312.47" width="5.9" height="5.9"/><rect x="424.13" y="312.47" width="5.9" height="5.9"/><rect x="432.21" y="312.47" width="5.9" height="5.9"/><rect x="440.29" y="311.97" width="5.9" height="5.9"/><rect x="448.37" y="311.97" width="5.9" height="5.9"/><rect x="456.44" y="311.97" width="5.9" height="5.9"/></g></g><g fill="#000"><rect x="140.75" y="58.05" width="5.9" height="5.9"/></g><text x="174.38" y="70.60" font-size="27.8" fill="#000">No additive</text><g fill="#ff8000"><circle cx="143.70" cy="94.75" r="3.3"/></g><text x="175.35" y="104.35" font-size="27.8" fill="#ff8000">Sc</text><g fill="#fff" stroke="#808000" stroke-width="1.35"><circle cx="143.70" cy="128.50" r="2.25"/></g><text x="175.91" y="138.10" font-size="27.8" fill="#808000">Y</text><g><path d="M143.70,159.05L147.40,165.45L140.00,165.45Z" fill="#ff0000"/></g><text x="176.04" y="171.85" font-size="27.8" fill="#ff0000">Ti</text><g><path d="M143.70,193.35L146.75,198.65L140.65,198.65Z" fill="#fff" stroke="#0000ff" stroke-width="1.0"/></g><text x="175.77" y="205.60" font-size="27.8" fill="#0000ff">Zr</text><g><path d="M143.70,225.75L147.70,229.75L143.70,233.75L139.70,229.75Z" fill="#ff00ff"/></g><text x="176.46" y="239.35" font-size="27.8" fill="#ff00ff">V</text><g><path d="M143.70,260.75L146.45,263.50L143.70,266.25L140.95,263.50Z" fill="#fff" stroke="#008000" stroke-width="1.05"/></g><text x="174.38" y="273.10" font-size="27.8" fill="#008000">Nb</text><text x="339.00" y="233.70" font-size="28" fill="#000">2</text><text x="354.96" y="219.70" font-size="16" fill="#000">nd</text><text x="380.48" y="233.70" font-size="28" fill="#000">abs</text><text x="302.36" y="374.00" font-size="28" fill="#000">No additive</text><text x="311.10" y="431.00" font-size="28" fill="#808000">Y</text><text x="301.74" y="506.70" font-size="28" fill="#ff8000">Sc</text><text x="310.64" y="588.70" font-size="28" fill="#ff0000">Ti</text><text x="305.46" y="620.9" font-size="28"><tspan fill="#0000ff">Zr</tspan><tspan fill="#000">, </tspan><tspan fill="#008000">Nb</tspan></text><text x="313.36" y="667.70" font-size="28" fill="#ff00ff">V</text><path d="M143.31,675.10L143.31,655.50L141.85,655.50L136.00,660.20L136.00,662.78L140.84,659.42L140.84,675.10Z" fill="#000"/><text x="148.52" y="662.50" font-size="16" fill="#000">st</text><text x="168.92" y="675.10" font-size="28" fill="#000">(des)</text><g clip-path="url(#c1)"><g fill="#ff8000"><circle cx="544.00" cy="338.00" r="3.3"/><circle cx="548.04" cy="343.06" r="3.3"/><circle cx="552.08" cy="346.90" r="3.3"/><circle cx="556.12" cy="350.38" r="3.3"/><circle cx="560.16" cy="353.64" r="3.3"/><circle cx="564.20" cy="357.03" r="3.3"/><circle cx="568.23" cy="360.94" r="3.3"/><circle cx="572.27" cy="364.98" r="3.3"/><circle cx="576.31" cy="368.44" r="3.3"/><circle cx="580.35" cy="371.46" r="3.3"/><circle cx="584.39" cy="374.67" r="3.3"/><circle cx="588.43" cy="378.17" r="3.3"/><circle cx="592.47" cy="382.02" r="3.3"/><circle cx="596.51" cy="386.57" r="3.3"/><circle cx="600.55" cy="391.78" r="3.3"/><circle cx="604.59" cy="396.78" r="3.3"/><circle cx="608.62" cy="401.47" r="3.3"/><circle cx="612.66" cy="406.24" r="3.3"/><circle cx="616.70" cy="411.29" r="3.3"/><circle cx="620.74" cy="416.56" r="3.3"/><circle cx="624.78" cy="422.12" r="3.3"/><circle cx="628.82" cy="428.07" r="3.3"/><circle cx="632.86" cy="433.69" r="3.3"/><circle cx="636.90" cy="438.45" r="3.3"/><circle cx="640.94" cy="443.14" r="3.3"/><circle cx="644.98" cy="448.78" r="3.3"/><circle cx="649.01" cy="455.10" r="3.3"/><circle cx="653.05" cy="461.30" r="3.3"/><circle cx="657.09" cy="467.34" r="3.3"/><circle cx="661.13" cy="472.92" r="3.3"/><circle cx="665.17" cy="478.33" r="3.3"/><circle cx="669.21" cy="483.96" r="3.3"/><circle cx="673.25" cy="489.51" r="3.3"/><circle cx="677.29" cy="494.43" r="3.3"/><circle cx="681.33" cy="499.02" r="3.3"/><circle cx="685.37" cy="503.17" r="3.3"/><circle cx="689.40" cy="506.90" r="3.3"/><circle cx="693.44" cy="510.32" r="3.3"/><circle cx="697.48" cy="513.49" r="3.3"/><circle cx="701.52" cy="516.47" r="3.3"/><circle cx="705.56" cy="519.13" r="3.3"/><circle cx="709.60" cy="521.65" r="3.3"/><circle cx="713.64" cy="524.29" r="3.3"/><circle cx="717.68" cy="527.21" r="3.3"/><circle cx="721.72" cy="530.36" r="3.3"/><circle cx="725.75" cy="533.66" r="3.3"/></g></g><g clip-path="url(#c1)"><g><path d="M544.00,335.35L547.05,340.65L540.95,340.65Z" fill="#fff" stroke="#808000" stroke-width="1.0"/><path d="M548.04,336.09L551.09,341.39L544.99,341.39Z" fill="#fff" stroke="#808000" stroke-width="1.0"/><path d="M552.08,336.86L555.13,342.16L549.03,342.16Z" fill="#fff" stroke="#808000" stroke-width="1.0"/><path d="M556.12,337.68L559.17,342.98L553.07,342.98Z" fill="#fff" stroke="#808000" stroke-width="1.0"/><path d="M560.16,338.56L563.21,343.86L557.11,343.86Z" fill="#fff" stroke="#808000" stroke-width="1.0"/><path d="M564.20,339.47L567.25,344.77L561.15,344.77Z" fill="#fff" stroke="#808000" stroke-width="1.0"/><path d="M568.23,340.40L571.28,345.70L565.18,345.70Z" fill="#fff" stroke="#808000" stroke-width="1.0"/><path d="M572.27,341.34L575.32,346.64L569.22,346.64Z" fill="#fff" stroke="#808000" stroke-width="1.0"/><path d="M576.31,342.25L579.36,347.55L573.26,347.55Z" fill="#fff" stroke="#808000" stroke-width="1.0"/><path d="M580.35,343.14L583.40,348.44L577.30,348.44Z" fill="#fff" stroke="#808000" stroke-width="1.0"/><path d="M584.39,343.99L587.44,349.29L581.34,349.29Z" fill="#fff" stroke="#808000" stroke-width="1.0"/><path d="M588.43,344.83L591.48,350.13L585.38,350.13Z" fill="#fff" stroke="#808000" stroke-width="1.0"/><path d="M592.47,345.66L595.52,350.96L589.42,350.96Z" fill="#fff" stroke="#808000" stroke-width="1.0"/><path d="M596.51,346.49L599.56,351.79L593.46,351.79Z" fill="#fff" stroke="#808000" stroke-width="1.0"/><path d="M600.55,347.31L603.60,352.61L597.50,352.61Z" fill="#fff" stroke="#808000" stroke-width="1.0"/><path d="M604.59,348.12L607.63,353.42L601.54,353.42Z" fill="#fff" stroke="#808000" stroke-width="1.0"/><path d="M608.62,348.93L611.67,354.23L605.57,354.23Z" fill="#fff" stroke="#808000" stroke-width="1.0"/><path d="M612.66,349.77L615.71,355.07L609.61,355.07Z" fill="#fff" stroke="#808000" stroke-width="1.0"/><path d="M616.70,350.63L619.75,355.93L613.65,355.93Z" fill="#fff" stroke="#808000" stroke-width="1.0"/><path d="M620.74,351.54L623.79,356.84L617.69,356.84Z" fill="#fff" stroke="#808000" stroke-width="1.0"/><path d="M624.78,352.47L627.83,357.77L621.73,357.77Z" fill="#fff" stroke="#808000" stroke-width="1.0"/><path d="M628.82,353.45L631.87,358.75L625.77,358.75Z" fill="#fff" stroke="#808000" stroke-width="1.0"/><path d="M632.86,354.49L635.91,359.79L629.81,359.79Z" fill="#fff" stroke="#808000" stroke-width="1.0"/><path d="M636.90,355.62L639.95,360.92L633.85,360.92Z" fill="#fff" stroke="#808000" stroke-width="1.0"/><path d="M640.94,356.83L643.99,362.13L637.89,362.13Z" fill="#fff" stroke="#808000" stroke-width="1.0"/><path d="M644.98,358.10L648.02,363.40L641.93,363.40Z" fill="#fff" stroke="#808000" stroke-width="1.0"/><path d="M649.01,359.39L652.06,364.69L645.96,364.69Z" fill="#fff" stroke="#808000" stroke-width="1.0"/><path d="M653.05,360.68L656.10,365.98L650.00,365.98Z" fill="#fff" stroke="#808000" stroke-width="1.0"/><path d="M657.09,361.95L660.14,367.25L654.04,367.25Z" fill="#fff" stroke="#808000" stroke-width="1.0"/><path d="M661.13,363.23L664.18,368.53L658.08,368.53Z" fill="#fff" stroke="#808000" stroke-width="1.0"/><path d="M665.17,364.53L668.22,369.83L662.12,369.83Z" fill="#fff" stroke="#808000" stroke-width="1.0"/><path d="M669.21,365.77L672.26,371.07L666.16,371.07Z" fill="#fff" stroke="#808000" stroke-width="1.0"/><path d="M673.25,366.90L676.30,372.20L670.20,372.20Z" fill="#fff" stroke="#808000" stroke-width="1.0"/><path d="M677.29,367.93L680.34,373.23L674.24,373.23Z" fill="#fff" stroke="#808000" stroke-width="1.0"/><path d="M681.33,368.89L684.38,374.19L678.28,374.19Z" fill="#fff" stroke="#808000" stroke-width="1.0"/><path d="M685.37,369.82L688.41,375.12L682.32,375.12Z" fill="#fff" stroke="#808000" stroke-width="1.0"/><path d="M689.40,370.77L692.45,376.07L686.35,376.07Z" fill="#fff" stroke="#808000" stroke-width="1.0"/><path d="M693.44,371.78L696.49,377.08L690.39,377.08Z" fill="#fff" stroke="#808000" stroke-width="1.0"/><path d="M697.48,372.87L700.53,378.17L694.43,378.17Z" fill="#fff" stroke="#808000" stroke-width="1.0"/><path d="M701.52,374.04L704.57,379.34L698.47,379.34Z" fill="#fff" stroke="#808000" stroke-width="1.0"/><path d="M705.56,375.30L708.61,380.60L702.51,380.60Z" fill="#fff" stroke="#808000" stroke-width="1.0"/><path d="M709.60,376.70L712.65,382.00L706.55,382.00Z" fill="#fff" stroke="#808000" stroke-width="1.0"/><path d="M713.64,378.23L716.69,383.53L710.59,383.53Z" fill="#fff" stroke="#808000" stroke-width="1.0"/><path d="M717.68,379.87L720.73,385.17L714.63,385.17Z" fill="#fff" stroke="#808000" stroke-width="1.0"/><path d="M721.72,381.63L724.77,386.93L718.67,386.93Z" fill="#fff" stroke="#808000" stroke-width="1.0"/><path d="M725.75,383.51L728.80,388.81L722.71,388.81Z" fill="#fff" stroke="#808000" stroke-width="1.0"/></g></g><g clip-path="url(#c1)"><g><path d="M544.00,334.80L547.70,341.20L540.30,341.20Z" fill="#ff0000"/><path d="M548.04,406.61L551.74,413.01L544.34,413.01Z" fill="#ff0000"/><path d="M552.08,476.21L555.78,482.61L548.38,482.61Z" fill="#ff0000"/><path d="M556.12,536.48L559.82,542.88L552.42,542.88Z" fill="#ff0000"/><path d="M560.16,569.61L563.86,576.01L556.46,576.01Z" fill="#ff0000"/><path d="M564.20,580.63L567.90,587.03L560.50,587.03Z" fill="#ff0000"/><path d="M568.23,585.65L571.93,592.05L564.53,592.05Z" fill="#ff0000"/><path d="M572.27,587.31L575.97,593.71L568.57,593.71Z" fill="#ff0000"/><path d="M576.31,588.35L580.01,594.75L572.61,594.75Z" fill="#ff0000"/><path d="M580.35,589.16L584.05,595.56L576.65,595.56Z" fill="#ff0000"/><path d="M584.39,589.99L588.09,596.39L580.69,596.39Z" fill="#ff0000"/><path d="M588.43,590.75L592.13,597.15L584.73,597.15Z" fill="#ff0000"/><path d="M592.47,591.34L596.17,597.74L588.77,597.74Z" fill="#ff0000"/><path d="M596.51,591.70L600.21,598.10L592.81,598.10Z" fill="#ff0000"/><path d="M600.55,591.93L604.25,598.33L596.85,598.33Z" fill="#ff0000"/><path d="M604.59,592.13L608.29,598.53L600.88,598.53Z" fill="#ff0000"/><path d="M608.62,592.30L612.32,598.70L604.92,598.70Z" fill="#ff0000"/><path d="M612.66,592.45L616.36,598.85L608.96,598.85Z" fill="#ff0000"/><path d="M616.70,592.58L620.40,598.98L613.00,598.98Z" fill="#ff0000"/><path d="M620.74,592.70L624.44,599.10L617.04,599.10Z" fill="#ff0000"/><path d="M624.78,592.80L628.48,599.20L621.08,599.20Z" fill="#ff0000"/><path d="M628.82,592.90L632.52,599.30L625.12,599.30Z" fill="#ff0000"/><path d="M632.86,592.99L636.56,599.39L629.16,599.39Z" fill="#ff0000"/><path d="M636.90,593.08L640.60,599.48L633.20,599.48Z" fill="#ff0000"/><path d="M640.94,593.18L644.64,599.58L637.24,599.58Z" fill="#ff0000"/><path d="M644.98,593.27L648.68,599.67L641.27,599.67Z" fill="#ff0000"/><path d="M649.01,593.37L652.71,599.77L645.31,599.77Z" fill="#ff0000"/><path d="M653.05,593.46L656.75,599.86L649.35,599.86Z" fill="#ff0000"/><path d="M657.09,593.55L660.79,599.95L653.39,599.95Z" fill="#ff0000"/><path d="M661.13,593.64L664.83,600.04L657.43,600.04Z" fill="#ff0000"/><path d="M665.17,593.73L668.87,600.13L661.47,600.13Z" fill="#ff0000"/><path d="M669.21,593.82L672.91,600.22L665.51,600.22Z" fill="#ff0000"/><path d="M673.25,593.90L676.95,600.30L669.55,600.30Z" fill="#ff0000"/><path d="M677.29,593.99L680.99,600.39L673.59,600.39Z" fill="#ff0000"/><path d="M681.33,594.06L685.03,600.46L677.63,600.46Z" fill="#ff0000"/><path d="M685.37,594.14L689.07,600.54L681.66,600.54Z" fill="#ff0000"/><path d="M689.40,594.21L693.10,600.61L685.70,600.61Z" fill="#ff0000"/><path d="M693.44,594.28L697.14,600.68L689.74,600.68Z" fill="#ff0000"/><path d="M697.48,594.35L701.18,600.75L693.78,600.75Z" fill="#ff0000"/><path d="M701.52,594.41L705.22,600.81L697.82,600.81Z" fill="#ff0000"/><path d="M705.56,594.47L709.26,600.87L701.86,600.87Z" fill="#ff0000"/><path d="M709.60,594.52L713.30,600.92L705.90,600.92Z" fill="#ff0000"/><path d="M713.64,594.57L717.34,600.97L709.94,600.97Z" fill="#ff0000"/><path d="M717.68,594.61L721.38,601.01L713.98,601.01Z" fill="#ff0000"/><path d="M721.72,594.65L725.42,601.05L718.02,601.05Z" fill="#ff0000"/><path d="M725.75,594.68L729.46,601.08L722.05,601.08Z" fill="#ff0000"/></g></g><g clip-path="url(#c1)"><g><path d="M544.00,335.35L547.05,340.65L540.95,340.65Z" fill="#fff" stroke="#0000ff" stroke-width="1.0"/><path d="M548.04,395.62L551.09,400.92L544.99,400.92Z" fill="#fff" stroke="#0000ff" stroke-width="1.0"/><path d="M552.08,458.71L555.13,464.01L549.03,464.01Z" fill="#fff" stroke="#0000ff" stroke-width="1.0"/><path d="M556.12,510.44L559.17,515.74L553.07,515.74Z" fill="#fff" stroke="#0000ff" stroke-width="1.0"/><path d="M560.16,550.61L563.21,555.91L557.11,555.91Z" fill="#fff" stroke="#0000ff" stroke-width="1.0"/><path d="M564.20,573.14L567.25,578.44L561.15,578.44Z" fill="#fff" stroke="#0000ff" stroke-width="1.0"/><path d="M568.23,584.69L571.28,589.99L565.18,589.99Z" fill="#fff" stroke="#0000ff" stroke-width="1.0"/><path d="M572.27,587.32L575.32,592.62L569.22,592.62Z" fill="#fff" stroke="#0000ff" stroke-width="1.0"/><path d="M576.31,587.71L579.36,593.01L573.26,593.01Z" fill="#fff" stroke="#0000ff" stroke-width="1.0"/><path d="M580.35,587.71L583.40,593.01L577.30,593.01Z" fill="#fff" stroke="#0000ff" stroke-width="1.0"/><path d="M584.39,587.71L587.44,593.01L581.34,593.01Z" fill="#fff" stroke="#0000ff" stroke-width="1.0"/><path d="M588.43,587.71L591.48,593.01L585.38,593.01Z" fill="#fff" stroke="#0000ff" stroke-width="1.0"/><path d="M592.47,587.71L595.52,593.01L589.42,593.01Z" fill="#fff" stroke="#0000ff" stroke-width="1.0"/><path d="M596.51,587.71L599.56,593.01L593.46,593.01Z" fill="#fff" stroke="#0000ff" stroke-width="1.0"/><path d="M600.55,587.71L603.60,593.01L597.50,593.01Z" fill="#fff" stroke="#0000ff" stroke-width="1.0"/><path d="M604.59,587.71L607.63,593.01L601.54,593.01Z" fill="#fff" stroke="#0000ff" stroke-width="1.0"/><path d="M608.62,587.71L611.67,593.01L605.57,593.01Z" fill="#fff" stroke="#0000ff" stroke-width="1.0"/><path d="M612.66,587.71L615.71,593.01L609.61,593.01Z" fill="#fff" stroke="#0000ff" stroke-width="1.0"/><path d="M616.70,587.71L619.75,593.01L613.65,593.01Z" fill="#fff" stroke="#0000ff" stroke-width="1.0"/><path d="M620.74,587.71L623.79,593.01L617.69,593.01Z" fill="#fff" stroke="#0000ff" stroke-width="1.0"/><path d="M624.78,587.71L627.83,593.01L621.73,593.01Z" fill="#fff" stroke="#0000ff" stroke-width="1.0"/><path d="M628.82,587.71L631.87,593.01L625.77,593.01Z" fill="#fff" stroke="#0000ff" stroke-width="1.0"/><path d="M632.86,587.71L635.91,593.01L629.81,593.01Z" fill="#fff" stroke="#0000ff" stroke-width="1.0"/><path d="M636.90,587.71L639.95,593.01L633.85,593.01Z" fill="#fff" stroke="#0000ff" stroke-width="1.0"/><path d="M640.94,587.71L643.99,593.01L637.89,593.01Z" fill="#fff" stroke="#0000ff" stroke-width="1.0"/><path d="M644.98,587.71L648.02,593.01L641.93,593.01Z" fill="#fff" stroke="#0000ff" stroke-width="1.0"/><path d="M649.01,587.71L652.06,593.01L645.96,593.01Z" fill="#fff" stroke="#0000ff" stroke-width="1.0"/><path d="M653.05,587.71L656.10,593.01L650.00,593.01Z" fill="#fff" stroke="#0000ff" stroke-width="1.0"/><path d="M657.09,587.71L660.14,593.01L654.04,593.01Z" fill="#fff" stroke="#0000ff" stroke-width="1.0"/><path d="M661.13,587.71L664.18,593.01L658.08,593.01Z" fill="#fff" stroke="#0000ff" stroke-width="1.0"/><path d="M665.17,587.71L668.22,593.01L662.12,593.01Z" fill="#fff" stroke="#0000ff" stroke-width="1.0"/><path d="M669.21,587.71L672.26,593.01L666.16,593.01Z" fill="#fff" stroke="#0000ff" stroke-width="1.0"/><path d="M673.25,587.71L676.30,593.01L670.20,593.01Z" fill="#fff" stroke="#0000ff" stroke-width="1.0"/><path d="M677.29,587.71L680.34,593.01L674.24,593.01Z" fill="#fff" stroke="#0000ff" stroke-width="1.0"/><path d="M681.33,587.71L684.38,593.01L678.28,593.01Z" fill="#fff" stroke="#0000ff" stroke-width="1.0"/><path d="M685.37,587.71L688.41,593.01L682.32,593.01Z" fill="#fff" stroke="#0000ff" stroke-width="1.0"/><path d="M689.40,587.71L692.45,593.01L686.35,593.01Z" fill="#fff" stroke="#0000ff" stroke-width="1.0"/><path d="M693.44,587.71L696.49,593.01L690.39,593.01Z" fill="#fff" stroke="#0000ff" stroke-width="1.0"/><path d="M697.48,587.71L700.53,593.01L694.43,593.01Z" fill="#fff" stroke="#0000ff" stroke-width="1.0"/><path d="M701.52,587.71L704.57,593.01L698.47,593.01Z" fill="#fff" stroke="#0000ff" stroke-width="1.0"/><path d="M705.56,587.71L708.61,593.01L702.51,593.01Z" fill="#fff" stroke="#0000ff" stroke-width="1.0"/><path d="M709.60,587.71L712.65,593.01L706.55,593.01Z" fill="#fff" stroke="#0000ff" stroke-width="1.0"/><path d="M713.64,587.71L716.69,593.01L710.59,593.01Z" fill="#fff" stroke="#0000ff" stroke-width="1.0"/><path d="M717.68,587.71L720.73,593.01L714.63,593.01Z" fill="#fff" stroke="#0000ff" stroke-width="1.0"/><path d="M721.72,587.71L724.77,593.01L718.67,593.01Z" fill="#fff" stroke="#0000ff" stroke-width="1.0"/><path d="M725.75,587.71L728.80,593.01L722.71,593.01Z" fill="#fff" stroke="#0000ff" stroke-width="1.0"/></g></g><g clip-path="url(#c1)"><g><path d="M544.00,334.00L548.00,338.00L544.00,342.00L540.00,338.00Z" fill="#ff00ff"/><path d="M548.04,398.28L552.04,402.28L548.04,406.28L544.04,402.28Z" fill="#ff00ff"/><path d="M552.08,462.88L556.08,466.88L552.08,470.88L548.08,466.88Z" fill="#ff00ff"/><path d="M556.12,509.09L560.12,513.09L556.12,517.09L552.12,513.09Z" fill="#ff00ff"/><path d="M560.16,543.24L564.16,547.24L560.16,551.24L556.16,547.24Z" fill="#ff00ff"/><path d="M564.20,567.27L568.20,571.27L564.20,575.27L560.20,571.27Z" fill="#ff00ff"/><path d="M568.23,584.35L572.23,588.35L568.23,592.35L564.23,588.35Z" fill="#ff00ff"/><path d="M572.27,594.89L576.27,598.89L572.27,602.89L568.27,598.89Z" fill="#ff00ff"/><path d="M576.31,601.90L580.31,605.90L576.31,609.90L572.31,605.90Z" fill="#ff00ff"/><path d="M580.35,605.93L584.35,609.93L580.35,613.93L576.35,609.93Z" fill="#ff00ff"/><path d="M584.39,608.14L588.39,612.14L584.39,616.14L580.39,612.14Z" fill="#ff00ff"/><path d="M588.43,609.40L592.43,613.40L588.43,617.40L584.43,613.40Z" fill="#ff00ff"/><path d="M592.47,610.46L596.47,614.46L592.47,618.46L588.47,614.46Z" fill="#ff00ff"/><path d="M596.51,611.32L600.51,615.32L596.51,619.32L592.51,615.32Z" fill="#ff00ff"/><path d="M600.55,611.95L604.55,615.95L600.55,619.95L596.55,615.95Z" fill="#ff00ff"/><path d="M604.59,612.33L608.59,616.33L604.59,620.33L600.59,616.33Z" fill="#ff00ff"/><path d="M608.62,612.44L612.62,616.44L608.62,620.44L604.62,616.44Z" fill="#ff00ff"/><path d="M612.66,612.39L616.66,616.39L612.66,620.39L608.66,616.39Z" fill="#ff00ff"/><path d="M616.70,612.28L620.70,616.28L616.70,620.28L612.70,616.28Z" fill="#ff00ff"/><path d="M620.74,612.12L624.74,616.12L620.74,620.12L616.74,616.12Z" fill="#ff00ff"/><path d="M624.78,611.93L628.78,615.93L624.78,619.93L620.78,615.93Z" fill="#ff00ff"/><path d="M628.82,611.75L632.82,615.75L628.82,619.75L624.82,615.75Z" fill="#ff00ff"/><path d="M632.86,611.59L636.86,615.59L632.86,619.59L628.86,615.59Z" fill="#ff00ff"/><path d="M636.90,611.48L640.90,615.48L636.90,619.48L632.90,615.48Z" fill="#ff00ff"/><path d="M640.94,611.44L644.94,615.44L640.94,619.44L636.94,615.44Z" fill="#ff00ff"/><path d="M644.98,611.44L648.98,615.44L644.98,619.44L640.98,615.44Z" fill="#ff00ff"/><path d="M649.01,611.44L653.01,615.44L649.01,619.44L645.01,615.44Z" fill="#ff00ff"/><path d="M653.05,611.44L657.05,615.44L653.05,619.44L649.05,615.44Z" fill="#ff00ff"/><path d="M657.09,611.44L661.09,615.44L657.09,619.44L653.09,615.44Z" fill="#ff00ff"/><path d="M661.13,611.44L665.13,615.44L661.13,619.44L657.13,615.44Z" fill="#ff00ff"/><path d="M665.17,611.44L669.17,615.44L665.17,619.44L661.17,615.44Z" fill="#ff00ff"/><path d="M669.21,611.44L673.21,615.44L669.21,619.44L665.21,615.44Z" fill="#ff00ff"/><path d="M673.25,611.44L677.25,615.44L673.25,619.44L669.25,615.44Z" fill="#ff00ff"/><path d="M677.29,611.44L681.29,615.44L677.29,619.44L673.29,615.44Z" fill="#ff00ff"/><path d="M681.33,611.44L685.33,615.44L681.33,619.44L677.33,615.44Z" fill="#ff00ff"/><path d="M685.37,611.44L689.37,615.44L685.37,619.44L681.37,615.44Z" fill="#ff00ff"/><path d="M689.40,611.44L693.40,615.44L689.40,619.44L685.40,615.44Z" fill="#ff00ff"/><path d="M693.44,611.44L697.44,615.44L693.44,619.44L689.44,615.44Z" fill="#ff00ff"/><path d="M697.48,611.44L701.48,615.44L697.48,619.44L693.48,615.44Z" fill="#ff00ff"/><path d="M701.52,611.44L705.52,615.44L701.52,619.44L697.52,615.44Z" fill="#ff00ff"/><path d="M705.56,611.44L709.56,615.44L705.56,619.44L701.56,615.44Z" fill="#ff00ff"/><path d="M709.60,611.44L713.60,615.44L709.60,619.44L705.60,615.44Z" fill="#ff00ff"/><path d="M713.64,611.44L717.64,615.44L713.64,619.44L709.64,615.44Z" fill="#ff00ff"/><path d="M717.68,611.44L721.68,615.44L717.68,619.44L713.68,615.44Z" fill="#ff00ff"/><path d="M721.72,611.44L725.72,615.44L721.72,619.44L717.72,615.44Z" fill="#ff00ff"/><path d="M725.75,611.44L729.75,615.44L725.75,619.44L721.75,615.44Z" fill="#ff00ff"/></g></g><g clip-path="url(#c1)"><g><path d="M544.00,335.25L546.75,338.00L544.00,340.75L541.25,338.00Z" fill="#fff" stroke="#008000" stroke-width="1.05"/><path d="M548.04,372.41L550.79,375.16L548.04,377.91L545.29,375.16Z" fill="#fff" stroke="#008000" stroke-width="1.05"/><path d="M552.08,413.47L554.83,416.22L552.08,418.97L549.33,416.22Z" fill="#fff" stroke="#008000" stroke-width="1.05"/><path d="M556.12,462.68L558.87,465.43L556.12,468.18L553.37,465.43Z" fill="#fff" stroke="#008000" stroke-width="1.05"/><path d="M560.16,503.35L562.91,506.10L560.16,508.85L557.41,506.10Z" fill="#fff" stroke="#008000" stroke-width="1.05"/><path d="M564.20,534.40L566.95,537.15L564.20,539.90L561.45,537.15Z" fill="#fff" stroke="#008000" stroke-width="1.05"/><path d="M568.23,558.51L570.98,561.26L568.23,564.01L565.48,561.26Z" fill="#fff" stroke="#008000" stroke-width="1.05"/><path d="M572.27,575.58L575.02,578.33L572.27,581.08L569.52,578.33Z" fill="#fff" stroke="#008000" stroke-width="1.05"/><path d="M576.31,586.09L579.06,588.84L576.31,591.59L573.56,588.84Z" fill="#fff" stroke="#008000" stroke-width="1.05"/><path d="M580.35,591.12L583.10,593.87L580.35,596.62L577.60,593.87Z" fill="#fff" stroke="#008000" stroke-width="1.05"/><path d="M584.39,594.09L587.14,596.84L584.39,599.59L581.64,596.84Z" fill="#fff" stroke="#008000" stroke-width="1.05"/><path d="M588.43,595.99L591.18,598.74L588.43,601.49L585.68,598.74Z" fill="#fff" stroke="#008000" stroke-width="1.05"/><path d="M592.47,597.43L595.22,600.18L592.47,602.93L589.72,600.18Z" fill="#fff" stroke="#008000" stroke-width="1.05"/><path d="M596.51,598.20L599.26,600.95L596.51,603.70L593.76,600.95Z" fill="#fff" stroke="#008000" stroke-width="1.05"/><path d="M600.55,598.57L603.30,601.32L600.55,604.07L597.80,601.32Z" fill="#fff" stroke="#008000" stroke-width="1.05"/><path d="M604.59,598.87L607.34,601.62L604.59,604.37L601.84,601.62Z" fill="#fff" stroke="#008000" stroke-width="1.05"/><path d="M608.62,599.10L611.37,601.85L608.62,604.60L605.87,601.85Z" fill="#fff" stroke="#008000" stroke-width="1.05"/><path d="M612.66,599.28L615.41,602.03L612.66,604.78L609.91,602.03Z" fill="#fff" stroke="#008000" stroke-width="1.05"/><path d="M616.70,599.44L619.45,602.19L616.70,604.94L613.95,602.19Z" fill="#fff" stroke="#008000" stroke-width="1.05"/><path d="M620.74,599.59L623.49,602.34L620.74,605.09L617.99,602.34Z" fill="#fff" stroke="#008000" stroke-width="1.05"/><path d="M624.78,599.75L627.53,602.50L624.78,605.25L622.03,602.50Z" fill="#fff" stroke="#008000" stroke-width="1.05"/><path d="M628.82,599.94L631.57,602.69L628.82,605.44L626.07,602.69Z" fill="#fff" stroke="#008000" stroke-width="1.05"/><path d="M632.86,600.17L635.61,602.92L632.86,605.67L630.11,602.92Z" fill="#fff" stroke="#008000" stroke-width="1.05"/><path d="M636.90,600.46L639.65,603.21L636.90,605.96L634.15,603.21Z" fill="#fff" stroke="#008000" stroke-width="1.05"/><path d="M640.94,600.77L643.69,603.52L640.94,606.27L638.19,603.52Z" fill="#fff" stroke="#008000" stroke-width="1.05"/><path d="M644.98,601.11L647.73,603.86L644.98,606.61L642.23,603.86Z" fill="#fff" stroke="#008000" stroke-width="1.05"/><path d="M649.01,601.46L651.76,604.21L649.01,606.96L646.26,604.21Z" fill="#fff" stroke="#008000" stroke-width="1.05"/><path d="M653.05,601.79L655.80,604.54L653.05,607.29L650.30,604.54Z" fill="#fff" stroke="#008000" stroke-width="1.05"/><path d="M657.09,602.12L659.84,604.87L657.09,607.62L654.34,604.87Z" fill="#fff" stroke="#008000" stroke-width="1.05"/><path d="M661.13,602.41L663.88,605.16L661.13,607.91L658.38,605.16Z" fill="#fff" stroke="#008000" stroke-width="1.05"/><path d="M665.17,602.66L667.92,605.41L665.17,608.16L662.42,605.41Z" fill="#fff" stroke="#008000" stroke-width="1.05"/><path d="M669.21,602.88L671.96,605.63L669.21,608.38L666.46,605.63Z" fill="#fff" stroke="#008000" stroke-width="1.05"/><path d="M673.25,603.10L676.00,605.85L673.25,608.60L670.50,605.85Z" fill="#fff" stroke="#008000" stroke-width="1.05"/><path d="M677.29,603.31L680.04,606.06L677.29,608.81L674.54,606.06Z" fill="#fff" stroke="#008000" stroke-width="1.05"/><path d="M681.33,603.52L684.08,606.27L681.33,609.02L678.58,606.27Z" fill="#fff" stroke="#008000" stroke-width="1.05"/><path d="M685.37,603.72L688.12,606.47L685.37,609.22L682.62,606.47Z" fill="#fff" stroke="#008000" stroke-width="1.05"/><path d="M689.40,603.91L692.15,606.66L689.40,609.41L686.65,606.66Z" fill="#fff" stroke="#008000" stroke-width="1.05"/><path d="M693.44,604.10L696.19,606.85L693.44,609.60L690.69,606.85Z" fill="#fff" stroke="#008000" stroke-width="1.05"/><path d="M697.48,604.28L700.23,607.03L697.48,609.78L694.73,607.03Z" fill="#fff" stroke="#008000" stroke-width="1.05"/><path d="M701.52,604.44L704.27,607.19L701.52,609.94L698.77,607.19Z" fill="#fff" stroke="#008000" stroke-width="1.05"/><path d="M705.56,604.60L708.31,607.35L705.56,610.10L702.81,607.35Z" fill="#fff" stroke="#008000" stroke-width="1.05"/><path d="M709.60,604.74L712.35,607.49L709.60,610.24L706.85,607.49Z" fill="#fff" stroke="#008000" stroke-width="1.05"/><path d="M713.64,604.87L716.39,607.62L713.64,610.37L710.89,607.62Z" fill="#fff" stroke="#008000" stroke-width="1.05"/><path d="M717.68,604.98L720.43,607.73L717.68,610.48L714.93,607.73Z" fill="#fff" stroke="#008000" stroke-width="1.05"/><path d="M721.72,605.08L724.47,607.83L721.72,610.58L718.97,607.83Z" fill="#fff" stroke="#008000" stroke-width="1.05"/></g></g><g clip-path="url(#c1)"><g fill="#ff8000"><circle cx="725.75" cy="338.00" r="3.3"/><circle cx="729.79" cy="287.79" r="3.3"/><circle cx="733.83" cy="258.25" r="3.3"/><circle cx="737.87" cy="236.15" r="3.3"/><circle cx="741.91" cy="219.58" r="3.3"/><circle cx="745.95" cy="207.57" r="3.3"/><circle cx="749.99" cy="197.52" r="3.3"/><circle cx="754.03" cy="189.99" r="3.3"/><circle cx="758.07" cy="183.48" r="3.3"/><circle cx="762.11" cy="178.46" r="3.3"/><circle cx="766.14" cy="172.92" r="3.3"/><circle cx="770.18" cy="168.59" r="3.3"/><circle cx="774.22" cy="165.90" r="3.3"/><circle cx="778.26" cy="163.72" r="3.3"/><circle cx="782.30" cy="161.96" r="3.3"/><circle cx="786.34" cy="160.52" r="3.3"/><circle cx="790.38" cy="159.26" r="3.3"/><circle cx="794.42" cy="158.10" r="3.3"/><circle cx="798.46" cy="157.04" r="3.3"/><circle cx="802.50" cy="156.08" r="3.3"/><circle cx="806.53" cy="155.21" r="3.3"/><circle cx="810.57" cy="154.43" r="3.3"/><circle cx="814.61" cy="153.75" r="3.3"/><circle cx="818.65" cy="153.16" r="3.3"/><circle cx="822.69" cy="152.65" r="3.3"/><circle cx="826.73" cy="152.19" r="3.3"/><circle cx="830.77" cy="151.76" r="3.3"/><circle cx="834.81" cy="151.37" r="3.3"/><circle cx="838.85" cy="151.01" r="3.3"/><circle cx="842.89" cy="150.69" r="3.3"/><circle cx="846.92" cy="150.40" r="3.3"/><circle cx="850.96" cy="150.15" r="3.3"/><circle cx="855.00" cy="149.94" r="3.3"/><circle cx="859.04" cy="149.75" r="3.3"/><circle cx="863.08" cy="149.57" r="3.3"/><circle cx="867.12" cy="149.40" r="3.3"/><circle cx="871.16" cy="149.23" r="3.3"/><circle cx="875.20" cy="149.07" r="3.3"/><circle cx="879.24" cy="148.92" r="3.3"/><circle cx="883.28" cy="148.78" r="3.3"/><circle cx="887.32" cy="148.66" r="3.3"/><circle cx="891.35" cy="148.56" r="3.3"/><circle cx="895.39" cy="148.47" r="3.3"/><circle cx="899.43" cy="148.41" r="3.3"/><circle cx="903.47" cy="148.37" r="3.3"/><circle cx="907.51" cy="148.36" r="3.3"/></g></g><g clip-path="url(#c1)"><g><path d="M725.75,335.35L728.80,340.65L722.71,340.65Z" fill="#fff" stroke="#808000" stroke-width="1.0"/><path d="M729.79,323.55L732.84,328.85L726.74,328.85Z" fill="#fff" stroke="#808000" stroke-width="1.0"/><path d="M733.83,319.80L736.88,325.10L730.78,325.10Z" fill="#fff" stroke="#808000" stroke-width="1.0"/><path d="M737.87,315.78L740.92,321.08L734.82,321.08Z" fill="#fff" stroke="#808000" stroke-width="1.0"/><path d="M741.91,313.61L744.96,318.91L738.86,318.91Z" fill="#fff" stroke="#808000" stroke-width="1.0"/><path d="M745.95,311.66L749.00,316.96L742.90,316.96Z" fill="#fff" stroke="#808000" stroke-width="1.0"/><path d="M749.99,309.82L753.04,315.12L746.94,315.12Z" fill="#fff" stroke="#808000" stroke-width="1.0"/><path d="M754.03,307.88L757.08,313.18L750.98,313.18Z" fill="#fff" stroke="#808000" stroke-width="1.0"/><path d="M758.07,305.98L761.12,311.28L755.02,311.28Z" fill="#fff" stroke="#808000" stroke-width="1.0"/><path d="M762.11,304.38L765.16,309.68L759.06,309.68Z" fill="#fff" stroke="#808000" stroke-width="1.0"/><path d="M766.14,302.99L769.19,308.29L763.10,308.29Z" fill="#fff" stroke="#808000" stroke-width="1.0"/><path d="M770.18,301.74L773.23,307.04L767.13,307.04Z" fill="#fff" stroke="#808000" stroke-width="1.0"/><path d="M774.22,300.63L777.27,305.93L771.17,305.93Z" fill="#fff" stroke="#808000" stroke-width="1.0"/><path d="M778.26,299.66L781.31,304.96L775.21,304.96Z" fill="#fff" stroke="#808000" stroke-width="1.0"/><path d="M782.30,298.82L785.35,304.12L779.25,304.12Z" fill="#fff" stroke="#808000" stroke-width="1.0"/><path d="M786.34,298.08L789.39,303.38L783.29,303.38Z" fill="#fff" stroke="#808000" stroke-width="1.0"/><path d="M790.38,297.38L793.43,302.68L787.33,302.68Z" fill="#fff" stroke="#808000" stroke-width="1.0"/><path d="M794.42,296.77L797.47,302.07L791.37,302.07Z" fill="#fff" stroke="#808000" stroke-width="1.0"/><path d="M798.46,296.35L801.51,301.65L795.41,301.65Z" fill="#fff" stroke="#808000" stroke-width="1.0"/><path d="M802.50,296.00L805.55,301.30L799.45,301.30Z" fill="#fff" stroke="#808000" stroke-width="1.0"/><path d="M806.53,295.59L809.58,300.89L803.49,300.89Z" fill="#fff" stroke="#808000" stroke-width="1.0"/><path d="M810.57,295.22L813.62,300.52L807.52,300.52Z" fill="#fff" stroke="#808000" stroke-width="1.0"/><path d="M814.61,294.93L817.66,300.23L811.56,300.23Z" fill="#fff" stroke="#808000" stroke-width="1.0"/><path d="M818.65,294.71L821.70,300.01L815.60,300.01Z" fill="#fff" stroke="#808000" stroke-width="1.0"/><path d="M822.69,294.56L825.74,299.86L819.64,299.86Z" fill="#fff" stroke="#808000" stroke-width="1.0"/><path d="M826.73,294.42L829.78,299.72L823.68,299.72Z" fill="#fff" stroke="#808000" stroke-width="1.0"/><path d="M830.77,294.30L833.82,299.60L827.72,299.60Z" fill="#fff" stroke="#808000" stroke-width="1.0"/><path d="M834.81,294.19L837.86,299.49L831.76,299.49Z" fill="#fff" stroke="#808000" stroke-width="1.0"/><path d="M838.85,294.09L841.90,299.39L835.80,299.39Z" fill="#fff" stroke="#808000" stroke-width="1.0"/><path d="M842.89,294.00L845.94,299.30L839.84,299.30Z" fill="#fff" stroke="#808000" stroke-width="1.0"/><path d="M846.92,293.91L849.97,299.21L843.88,299.21Z" fill="#fff" stroke="#808000" stroke-width="1.0"/><path d="M850.96,293.84L854.01,299.14L847.91,299.14Z" fill="#fff" stroke="#808000" stroke-width="1.0"/><path d="M855.00,293.77L858.05,299.07L851.95,299.07Z" fill="#fff" stroke="#808000" stroke-width="1.0"/><path d="M859.04,293.71L862.09,299.01L855.99,299.01Z" fill="#fff" stroke="#808000" stroke-width="1.0"/><path d="M863.08,293.65L866.13,298.95L860.03,298.95Z" fill="#fff" stroke="#808000" stroke-width="1.0"/><path d="M867.12,293.59L870.17,298.89L864.07,298.89Z" fill="#fff" stroke="#808000" stroke-width="1.0"/><path d="M871.16,293.54L874.21,298.84L868.11,298.84Z" fill="#fff" stroke="#808000" stroke-width="1.0"/><path d="M875.20,293.48L878.25,298.78L872.15,298.78Z" fill="#fff" stroke="#808000" stroke-width="1.0"/><path d="M879.24,293.43L882.29,298.73L876.19,298.73Z" fill="#fff" stroke="#808000" stroke-width="1.0"/><path d="M883.28,293.38L886.33,298.68L880.23,298.68Z" fill="#fff" stroke="#808000" stroke-width="1.0"/><path d="M887.32,293.34L890.37,298.64L884.27,298.64Z" fill="#fff" stroke="#808000" stroke-width="1.0"/><path d="M891.35,293.30L894.40,298.60L888.30,298.60Z" fill="#fff" stroke="#808000" stroke-width="1.0"/><path d="M895.39,293.27L898.44,298.57L892.34,298.57Z" fill="#fff" stroke="#808000" stroke-width="1.0"/><path d="M899.43,293.24L902.48,298.54L896.38,298.54Z" fill="#fff" stroke="#808000" stroke-width="1.0"/><path d="M903.47,293.22L906.52,298.52L900.42,298.52Z" fill="#fff" stroke="#808000" stroke-width="1.0"/><path d="M907.51,293.21L910.56,298.51L904.46,298.51Z" fill="#fff" stroke="#808000" stroke-width="1.0"/></g></g><g clip-path="url(#c1)"><g><path d="M725.75,334.80L729.46,341.20L722.05,341.20Z" fill="#ff0000"/><path d="M729.79,146.12L733.49,152.52L726.09,152.52Z" fill="#ff0000"/><path d="M733.83,124.10L737.53,130.50L730.13,130.50Z" fill="#ff0000"/><path d="M737.87,114.05L741.57,120.45L734.17,120.45Z" fill="#ff0000"/><path d="M741.91,109.03L745.61,115.43L738.21,115.43Z" fill="#ff0000"/><path d="M745.95,105.62L749.65,112.02L742.25,112.02Z" fill="#ff0000"/><path d="M749.99,103.13L753.69,109.53L746.29,109.53Z" fill="#ff0000"/><path d="M754.03,101.42L757.73,107.82L750.33,107.82Z" fill="#ff0000"/><path d="M758.07,100.09L761.77,106.49L754.37,106.49Z" fill="#ff0000"/><path d="M762.11,99.00L765.81,105.40L758.41,105.40Z" fill="#ff0000"/><path d="M766.14,98.06L769.85,104.46L762.44,104.46Z" fill="#ff0000"/><path d="M770.18,97.23L773.88,103.63L766.48,103.63Z" fill="#ff0000"/><path d="M774.22,96.52L777.92,102.92L770.52,102.92Z" fill="#ff0000"/><path d="M778.26,95.94L781.96,102.34L774.56,102.34Z" fill="#ff0000"/><path d="M782.30,95.46L786.00,101.86L778.60,101.86Z" fill="#ff0000"/><path d="M786.34,95.03L790.04,101.43L782.64,101.43Z" fill="#ff0000"/><path d="M790.38,94.65L794.08,101.05L786.68,101.05Z" fill="#ff0000"/><path d="M794.42,94.30L798.12,100.70L790.72,100.70Z" fill="#ff0000"/><path d="M798.46,93.97L802.16,100.37L794.76,100.37Z" fill="#ff0000"/><path d="M802.50,93.65L806.20,100.05L798.80,100.05Z" fill="#ff0000"/><path d="M806.53,93.32L810.24,99.72L802.83,99.72Z" fill="#ff0000"/><path d="M810.57,92.98L814.27,99.38L806.87,99.38Z" fill="#ff0000"/><path d="M814.61,92.62L818.31,99.02L810.91,99.02Z" fill="#ff0000"/><path d="M818.65,92.26L822.35,98.66L814.95,98.66Z" fill="#ff0000"/><path d="M822.69,91.90L826.39,98.30L818.99,98.30Z" fill="#ff0000"/><path d="M826.73,91.54L830.43,97.94L823.03,97.94Z" fill="#ff0000"/><path d="M830.77,91.18L834.47,97.58L827.07,97.58Z" fill="#ff0000"/><path d="M834.81,90.83L838.51,97.23L831.11,97.23Z" fill="#ff0000"/><path d="M838.85,90.49L842.55,96.89L835.15,96.89Z" fill="#ff0000"/><path d="M842.89,90.15L846.59,96.55L839.19,96.55Z" fill="#ff0000"/><path d="M846.92,89.83L850.62,96.23L843.22,96.23Z" fill="#ff0000"/><path d="M850.96,89.52L854.66,95.92L847.26,95.92Z" fill="#ff0000"/><path d="M855.00,89.24L858.70,95.64L851.30,95.64Z" fill="#ff0000"/><path d="M859.04,88.97L862.74,95.37L855.34,95.37Z" fill="#ff0000"/><path d="M863.08,88.71L866.78,95.11L859.38,95.11Z" fill="#ff0000"/><path d="M867.12,88.46L870.82,94.86L863.42,94.86Z" fill="#ff0000"/><path d="M871.16,88.22L874.86,94.62L867.46,94.62Z" fill="#ff0000"/><path d="M875.20,87.99L878.90,94.39L871.50,94.39Z" fill="#ff0000"/><path d="M879.24,87.76L882.94,94.16L875.54,94.16Z" fill="#ff0000"/><path d="M883.28,87.55L886.98,93.95L879.58,93.95Z" fill="#ff0000"/><path d="M887.32,87.34L891.02,93.74L883.62,93.74Z" fill="#ff0000"/><path d="M891.35,87.14L895.05,93.54L887.65,93.54Z" fill="#ff0000"/><path d="M895.39,86.95L899.09,93.35L891.69,93.35Z" fill="#ff0000"/><path d="M899.43,86.78L903.13,93.18L895.73,93.18Z" fill="#ff0000"/><path d="M903.47,86.61L907.17,93.01L899.77,93.01Z" fill="#ff0000"/><path d="M907.51,86.46L911.21,92.86L903.81,92.86Z" fill="#ff0000"/></g></g><g clip-path="url(#c1)"><g><path d="M725.75,335.35L728.80,340.65L722.71,340.65Z" fill="#fff" stroke="#0000ff" stroke-width="1.0"/><path d="M729.79,169.24L732.84,174.54L726.74,174.54Z" fill="#fff" stroke="#0000ff" stroke-width="1.0"/><path d="M733.83,139.70L736.88,145.00L730.78,145.00Z" fill="#fff" stroke="#0000ff" stroke-width="1.0"/><path d="M737.87,134.67L740.92,139.97L734.82,139.97Z" fill="#fff" stroke="#0000ff" stroke-width="1.0"/><path d="M741.91,131.16L744.96,136.46L738.86,136.46Z" fill="#fff" stroke="#0000ff" stroke-width="1.0"/><path d="M745.95,129.15L749.00,134.45L742.90,134.45Z" fill="#fff" stroke="#0000ff" stroke-width="1.0"/><path d="M749.99,127.14L753.04,132.44L746.94,132.44Z" fill="#fff" stroke="#0000ff" stroke-width="1.0"/><path d="M754.03,125.64L757.08,130.94L750.98,130.94Z" fill="#fff" stroke="#0000ff" stroke-width="1.0"/><path d="M758.07,124.64L761.12,129.94L755.02,129.94Z" fill="#fff" stroke="#0000ff" stroke-width="1.0"/><path d="M762.11,124.04L765.16,129.34L759.06,129.34Z" fill="#fff" stroke="#0000ff" stroke-width="1.0"/><path d="M766.14,123.63L769.19,128.93L763.10,128.93Z" fill="#fff" stroke="#0000ff" stroke-width="1.0"/><path d="M770.18,123.38L773.23,128.68L767.13,128.68Z" fill="#fff" stroke="#0000ff" stroke-width="1.0"/><path d="M774.22,123.13L777.27,128.43L771.17,128.43Z" fill="#fff" stroke="#0000ff" stroke-width="1.0"/><path d="M778.26,122.63L781.31,127.93L775.21,127.93Z" fill="#fff" stroke="#0000ff" stroke-width="1.0"/><path d="M782.30,122.13L785.35,127.43L779.25,127.43Z" fill="#fff" stroke="#0000ff" stroke-width="1.0"/><path d="M786.34,121.86L789.39,127.16L783.29,127.16Z" fill="#fff" stroke="#0000ff" stroke-width="1.0"/><path d="M790.38,121.63L793.43,126.93L787.33,126.93Z" fill="#fff" stroke="#0000ff" stroke-width="1.0"/><path d="M794.42,121.36L797.47,126.66L791.37,126.66Z" fill="#fff" stroke="#0000ff" stroke-width="1.0"/><path d="M798.46,121.12L801.51,126.42L795.41,126.42Z" fill="#fff" stroke="#0000ff" stroke-width="1.0"/><path d="M802.50,120.93L805.55,126.23L799.45,126.23Z" fill="#fff" stroke="#0000ff" stroke-width="1.0"/><path d="M806.53,120.76L809.58,126.06L803.49,126.06Z" fill="#fff" stroke="#0000ff" stroke-width="1.0"/><path d="M810.57,120.60L813.62,125.90L807.52,125.90Z" fill="#fff" stroke="#0000ff" stroke-width="1.0"/><path d="M814.61,120.46L817.66,125.76L811.56,125.76Z" fill="#fff" stroke="#0000ff" stroke-width="1.0"/><path d="M818.65,120.32L821.70,125.62L815.60,125.62Z" fill="#fff" stroke="#0000ff" stroke-width="1.0"/><path d="M822.69,120.20L825.74,125.50L819.64,125.50Z" fill="#fff" stroke="#0000ff" stroke-width="1.0"/><path d="M826.73,120.08L829.78,125.38L823.68,125.38Z" fill="#fff" stroke="#0000ff" stroke-width="1.0"/><path d="M830.77,119.96L833.82,125.26L827.72,125.26Z" fill="#fff" stroke="#0000ff" stroke-width="1.0"/><path d="M834.81,119.85L837.86,125.15L831.76,125.15Z" fill="#fff" stroke="#0000ff" stroke-width="1.0"/><path d="M838.85,119.74L841.90,125.04L835.80,125.04Z" fill="#fff" stroke="#0000ff" stroke-width="1.0"/><path d="M842.89,119.62L845.94,124.92L839.84,124.92Z" fill="#fff" stroke="#0000ff" stroke-width="1.0"/><path d="M846.92,119.51L849.97,124.81L843.88,124.81Z" fill="#fff" stroke="#0000ff" stroke-width="1.0"/><path d="M850.96,119.38L854.01,124.68L847.91,124.68Z" fill="#fff" stroke="#0000ff" stroke-width="1.0"/><path d="M855.00,119.25L858.05,124.55L851.95,124.55Z" fill="#fff" stroke="#0000ff" stroke-width="1.0"/><path d="M859.04,119.12L862.09,124.42L855.99,124.42Z" fill="#fff" stroke="#0000ff" stroke-width="1.0"/><path d="M863.08,118.97L866.13,124.27L860.03,124.27Z" fill="#fff" stroke="#0000ff" stroke-width="1.0"/><path d="M867.12,118.82L870.17,124.12L864.07,124.12Z" fill="#fff" stroke="#0000ff" stroke-width="1.0"/><path d="M871.16,118.67L874.21,123.97L868.11,123.97Z" fill="#fff" stroke="#0000ff" stroke-width="1.0"/><path d="M875.20,118.51L878.25,123.81L872.15,123.81Z" fill="#fff" stroke="#0000ff" stroke-width="1.0"/><path d="M879.24,118.35L882.29,123.65L876.19,123.65Z" fill="#fff" stroke="#0000ff" stroke-width="1.0"/><path d="M883.28,118.18L886.33,123.48L880.23,123.48Z" fill="#fff" stroke="#0000ff" stroke-width="1.0"/><path d="M887.32,118.01L890.37,123.31L884.27,123.31Z" fill="#fff" stroke="#0000ff" stroke-width="1.0"/><path d="M891.35,117.84L894.40,123.14L888.30,123.14Z" fill="#fff" stroke="#0000ff" stroke-width="1.0"/><path d="M895.39,117.66L898.44,122.96L892.34,122.96Z" fill="#fff" stroke="#0000ff" stroke-width="1.0"/><path d="M899.43,117.48L902.48,122.78L896.38,122.78Z" fill="#fff" stroke="#0000ff" stroke-width="1.0"/><path d="M903.47,117.30L906.52,122.60L900.42,122.60Z" fill="#fff" stroke="#0000ff" stroke-width="1.0"/><path d="M907.51,117.11L910.56,122.41L904.46,122.41Z" fill="#fff" stroke="#0000ff" stroke-width="1.0"/></g></g><g clip-path="url(#c1)"><g><path d="M725.75,334.00L729.75,338.00L725.75,342.00L721.75,338.00Z" fill="#ff00ff"/><path d="M729.79,143.30L733.79,147.30L729.79,151.30L725.79,147.30Z" fill="#ff00ff"/><path d="M733.83,112.26L737.83,116.26L733.83,120.26L729.83,116.26Z" fill="#ff00ff"/><path d="M737.87,108.23L741.87,112.23L737.87,116.23L733.87,112.23Z" fill="#ff00ff"/><path d="M741.91,103.21L745.91,107.21L741.91,111.21L737.91,107.21Z" fill="#ff00ff"/><path d="M745.95,99.71L749.95,103.71L745.95,107.71L741.95,103.71Z" fill="#ff00ff"/><path d="M749.99,97.20L753.99,101.20L749.99,105.20L745.99,101.20Z" fill="#ff00ff"/><path d="M754.03,95.19L758.03,99.19L754.03,103.19L750.03,99.19Z" fill="#ff00ff"/><path d="M758.07,93.78L762.07,97.78L758.07,101.78L754.07,97.78Z" fill="#ff00ff"/><path d="M762.11,92.68L766.11,96.68L762.11,100.68L758.11,96.68Z" fill="#ff00ff"/><path d="M766.14,91.78L770.14,95.78L766.14,99.78L762.14,95.78Z" fill="#ff00ff"/><path d="M770.18,91.00L774.18,95.00L770.18,99.00L766.18,95.00Z" fill="#ff00ff"/><path d="M774.22,90.30L778.22,94.30L774.22,98.30L770.22,94.30Z" fill="#ff00ff"/><path d="M778.26,89.67L782.26,93.67L778.26,97.67L774.26,93.67Z" fill="#ff00ff"/><path d="M782.30,89.10L786.30,93.10L782.30,97.10L778.30,93.10Z" fill="#ff00ff"/><path d="M786.34,88.59L790.34,92.59L786.34,96.59L782.34,92.59Z" fill="#ff00ff"/><path d="M790.38,88.12L794.38,92.12L790.38,96.12L786.38,92.12Z" fill="#ff00ff"/><path d="M794.42,87.65L798.42,91.65L794.42,95.65L790.42,91.65Z" fill="#ff00ff"/><path d="M798.46,87.16L802.46,91.16L798.46,95.16L794.46,91.16Z" fill="#ff00ff"/><path d="M802.50,86.63L806.50,90.63L802.50,94.63L798.50,90.63Z" fill="#ff00ff"/><path d="M806.53,86.10L810.53,90.10L806.53,94.10L802.53,90.10Z" fill="#ff00ff"/><path d="M810.57,85.66L814.57,89.66L810.57,93.66L806.57,89.66Z" fill="#ff00ff"/><path d="M814.61,85.32L818.61,89.32L814.61,93.32L810.61,89.32Z" fill="#ff00ff"/><path d="M818.65,85.00L822.65,89.00L818.65,93.00L814.65,89.00Z" fill="#ff00ff"/><path d="M822.69,84.71L826.69,88.71L822.69,92.71L818.69,88.71Z" fill="#ff00ff"/><path d="M826.73,84.44L830.73,88.44L826.73,92.44L822.73,88.44Z" fill="#ff00ff"/><path d="M830.77,84.19L834.77,88.19L830.77,92.19L826.77,88.19Z" fill="#ff00ff"/><path d="M834.81,83.96L838.81,87.96L834.81,91.96L830.81,87.96Z" fill="#ff00ff"/><path d="M838.85,83.73L842.85,87.73L838.85,91.73L834.85,87.73Z" fill="#ff00ff"/><path d="M842.89,83.52L846.89,87.52L842.89,91.52L838.89,87.52Z" fill="#ff00ff"/><path d="M846.92,83.30L850.92,87.30L846.92,91.30L842.92,87.30Z" fill="#ff00ff"/><path d="M850.96,83.09L854.96,87.09L850.96,91.09L846.96,87.09Z" fill="#ff00ff"/><path d="M855.00,82.87L859.00,86.87L855.00,90.87L851.00,86.87Z" fill="#ff00ff"/><path d="M859.04,82.65L863.04,86.65L859.04,90.65L855.04,86.65Z" fill="#ff00ff"/><path d="M863.08,82.42L867.08,86.42L863.08,90.42L859.08,86.42Z" fill="#ff00ff"/><path d="M867.12,82.20L871.12,86.20L867.12,90.20L863.12,86.20Z" fill="#ff00ff"/><path d="M871.16,81.98L875.16,85.98L871.16,89.98L867.16,85.98Z" fill="#ff00ff"/><path d="M875.20,81.76L879.20,85.76L875.20,89.76L871.20,85.76Z" fill="#ff00ff"/><path d="M879.24,81.55L883.24,85.55L879.24,89.55L875.24,85.55Z" fill="#ff00ff"/><path d="M883.28,81.33L887.28,85.33L883.28,89.33L879.28,85.33Z" fill="#ff00ff"/><path d="M887.32,81.13L891.32,85.13L887.32,89.13L883.32,85.13Z" fill="#ff00ff"/><path d="M891.35,80.92L895.35,84.92L891.35,88.92L887.35,84.92Z" fill="#ff00ff"/><path d="M895.39,80.72L899.39,84.72L895.39,88.72L891.39,84.72Z" fill="#ff00ff"/><path d="M899.43,80.52L903.43,84.52L899.43,88.52L895.43,84.52Z" fill="#ff00ff"/><path d="M903.47,80.33L907.47,84.33L903.47,88.33L899.47,84.33Z" fill="#ff00ff"/><path d="M907.51,80.14L911.51,84.14L907.51,88.14L903.51,84.14Z" fill="#ff00ff"/></g></g><g clip-path="url(#c1)"><g><path d="M725.75,335.25L728.50,338.00L725.75,340.75L723.00,338.00Z" fill="#fff" stroke="#008000" stroke-width="1.05"/><path d="M729.79,161.10L732.54,163.85L729.79,166.60L727.04,163.85Z" fill="#fff" stroke="#008000" stroke-width="1.05"/><path d="M733.83,121.54L736.58,124.29L733.83,127.04L731.08,124.29Z" fill="#fff" stroke="#008000" stroke-width="1.05"/><path d="M737.87,109.48L740.62,112.23L737.87,114.98L735.12,112.23Z" fill="#fff" stroke="#008000" stroke-width="1.05"/><path d="M741.91,105.47L744.66,108.22L741.91,110.97L739.16,108.22Z" fill="#fff" stroke="#008000" stroke-width="1.05"/><path d="M745.95,101.46L748.70,104.21L745.95,106.96L743.20,104.21Z" fill="#fff" stroke="#008000" stroke-width="1.05"/><path d="M749.99,98.95L752.74,101.70L749.99,104.45L747.24,101.70Z" fill="#fff" stroke="#008000" stroke-width="1.05"/><path d="M754.03,96.94L756.78,99.69L754.03,102.44L751.28,99.69Z" fill="#fff" stroke="#008000" stroke-width="1.05"/><path d="M758.07,95.44L760.82,98.19L758.07,100.94L755.32,98.19Z" fill="#fff" stroke="#008000" stroke-width="1.05"/><path d="M762.11,94.43L764.86,97.18L762.11,99.93L759.36,97.18Z" fill="#fff" stroke="#008000" stroke-width="1.05"/><path d="M766.14,93.37L768.89,96.12L766.14,98.87L763.39,96.12Z" fill="#fff" stroke="#008000" stroke-width="1.05"/><path d="M770.18,92.43L772.93,95.18L770.18,97.93L767.43,95.18Z" fill="#fff" stroke="#008000" stroke-width="1.05"/><path d="M774.22,91.75L776.97,94.50L774.22,97.25L771.47,94.50Z" fill="#fff" stroke="#008000" stroke-width="1.05"/><path d="M778.26,91.17L781.01,93.92L778.26,96.67L775.51,93.92Z" fill="#fff" stroke="#008000" stroke-width="1.05"/><path d="M782.30,90.65L785.05,93.40L782.30,96.15L779.55,93.40Z" fill="#fff" stroke="#008000" stroke-width="1.05"/><path d="M786.34,90.17L789.09,92.92L786.34,95.67L783.59,92.92Z" fill="#fff" stroke="#008000" stroke-width="1.05"/><path d="M790.38,89.72L793.13,92.47L790.38,95.22L787.63,92.47Z" fill="#fff" stroke="#008000" stroke-width="1.05"/><path d="M794.42,89.30L797.17,92.05L794.42,94.80L791.67,92.05Z" fill="#fff" stroke="#008000" stroke-width="1.05"/><path d="M798.46,88.92L801.21,91.67L798.46,94.42L795.71,91.67Z" fill="#fff" stroke="#008000" stroke-width="1.05"/><path d="M802.50,88.56L805.25,91.31L802.50,94.06L799.75,91.31Z" fill="#fff" stroke="#008000" stroke-width="1.05"/><path d="M806.53,88.22L809.28,90.97L806.53,93.72L803.78,90.97Z" fill="#fff" stroke="#008000" stroke-width="1.05"/><path d="M810.57,87.91L813.32,90.66L810.57,93.41L807.82,90.66Z" fill="#fff" stroke="#008000" stroke-width="1.05"/><path d="M814.61,87.62L817.36,90.37L814.61,93.12L811.86,90.37Z" fill="#fff" stroke="#008000" stroke-width="1.05"/><path d="M818.65,87.33L821.40,90.08L818.65,92.83L815.90,90.08Z" fill="#fff" stroke="#008000" stroke-width="1.05"/><path d="M822.69,87.04L825.44,89.79L822.69,92.54L819.94,89.79Z" fill="#fff" stroke="#008000" stroke-width="1.05"/><path d="M826.73,86.76L829.48,89.51L826.73,92.26L823.98,89.51Z" fill="#fff" stroke="#008000" stroke-width="1.05"/><path d="M830.77,86.48L833.52,89.23L830.77,91.98L828.02,89.23Z" fill="#fff" stroke="#008000" stroke-width="1.05"/><path d="M834.81,86.21L837.56,88.96L834.81,91.71L832.06,88.96Z" fill="#fff" stroke="#008000" stroke-width="1.05"/><path d="M838.85,85.96L841.60,88.71L838.85,91.46L836.10,88.71Z" fill="#fff" stroke="#008000" stroke-width="1.05"/><path d="M842.89,85.72L845.64,88.47L842.89,91.22L840.14,88.47Z" fill="#fff" stroke="#008000" stroke-width="1.05"/><path d="M846.92,85.49L849.67,88.24L846.92,90.99L844.17,88.24Z" fill="#fff" stroke="#008000" stroke-width="1.05"/><path d="M850.96,85.27L853.71,88.02L850.96,90.77L848.21,88.02Z" fill="#fff" stroke="#008000" stroke-width="1.05"/><path d="M855.00,85.08L857.75,87.83L855.00,90.58L852.25,87.83Z" fill="#fff" stroke="#008000" stroke-width="1.05"/><path d="M859.04,84.90L861.79,87.65L859.04,90.40L856.29,87.65Z" fill="#fff" stroke="#008000" stroke-width="1.05"/><path d="M863.08,84.74L865.83,87.49L863.08,90.24L860.33,87.49Z" fill="#fff" stroke="#008000" stroke-width="1.05"/><path d="M867.12,84.58L869.87,87.33L867.12,90.08L864.37,87.33Z" fill="#fff" stroke="#008000" stroke-width="1.05"/><path d="M871.16,84.42L873.91,87.17L871.16,89.92L868.41,87.17Z" fill="#fff" stroke="#008000" stroke-width="1.05"/><path d="M875.20,84.27L877.95,87.02L875.20,89.77L872.45,87.02Z" fill="#fff" stroke="#008000" stroke-width="1.05"/><path d="M879.24,84.13L881.99,86.88L879.24,89.63L876.49,86.88Z" fill="#fff" stroke="#008000" stroke-width="1.05"/><path d="M883.28,83.99L886.03,86.74L883.28,89.49L880.53,86.74Z" fill="#fff" stroke="#008000" stroke-width="1.05"/><path d="M887.32,83.87L890.07,86.62L887.32,89.37L884.57,86.62Z" fill="#fff" stroke="#008000" stroke-width="1.05"/><path d="M891.35,83.75L894.10,86.50L891.35,89.25L888.60,86.50Z" fill="#fff" stroke="#008000" stroke-width="1.05"/><path d="M895.39,83.64L898.14,86.39L895.39,89.14L892.64,86.39Z" fill="#fff" stroke="#008000" stroke-width="1.05"/><path d="M899.43,83.55L902.18,86.30L899.43,89.05L896.68,86.30Z" fill="#fff" stroke="#008000" stroke-width="1.05"/><path d="M903.47,83.47L906.22,86.22L903.47,88.97L900.72,86.22Z" fill="#fff" stroke="#008000" stroke-width="1.05"/><path d="M907.51,83.40L910.26,86.15L907.51,88.90L904.76,86.15Z" fill="#fff" stroke="#008000" stroke-width="1.05"/></g></g><g clip-path="url(#c1)"><g fill="#000"><rect x="541.05" y="335.05" width="5.9" height="5.9"/><rect x="549.13" y="342.58" width="5.9" height="5.9"/><rect x="557.21" y="342.58" width="5.9" height="5.9"/><rect x="565.28" y="344.08" width="5.9" height="5.9"/><rect x="573.36" y="344.08" width="5.9" height="5.9"/><rect x="581.44" y="345.08" width="5.9" height="5.9"/><rect x="589.52" y="345.08" width="5.9" height="5.9"/><rect x="597.60" y="345.08" width="5.9" height="5.9"/><rect x="605.67" y="346.09" width="5.9" height="5.9"/><rect x="613.75" y="346.09" width="5.9" height="5.9"/><rect x="621.83" y="346.09" width="5.9" height="5.9"/><rect x="629.91" y="347.09" width="5.9" height="5.9"/><rect x="637.99" y="348.60" width="5.9" height="5.9"/><rect x="646.06" y="349.10" width="5.9" height="5.9"/><rect x="654.14" y="349.10" width="5.9" height="5.9"/><rect x="662.22" y="349.10" width="5.9" height="5.9"/><rect x="670.30" y="351.10" width="5.9" height="5.9"/><rect x="678.38" y="351.61" width="5.9" height="5.9"/><rect x="686.45" y="352.11" width="5.9" height="5.9"/><rect x="694.53" y="353.11" width="5.9" height="5.9"/><rect x="702.61" y="354.11" width="5.9" height="5.9"/><rect x="710.69" y="355.62" width="5.9" height="5.9"/><rect x="718.77" y="356.62" width="5.9" height="5.9"/></g></g><g clip-path="url(#c1)"><g fill="#000"><rect x="722.80" y="335.05" width="5.9" height="5.9"/><rect x="730.88" y="323.36" width="5.9" height="5.9"/><rect x="738.96" y="320.00" width="5.9" height="5.9"/><rect x="747.04" y="317.99" width="5.9" height="5.9"/><rect x="755.12" y="315.48" width="5.9" height="5.9"/><rect x="763.19" y="315.48" width="5.9" height="5.9"/><rect x="771.27" y="314.23" width="5.9" height="5.9"/><rect x="779.35" y="314.23" width="5.9" height="5.9"/><rect x="787.43" y="314.23" width="5.9" height="5.9"/><rect x="795.51" y="314.23" width="5.9" height="5.9"/><rect x="803.58" y="314.23" width="5.9" height="5.9"/><rect x="811.66" y="312.98" width="5.9" height="5.9"/><rect x="819.74" y="312.98" width="5.9" height="5.9"/><rect x="827.82" y="312.98" width="5.9" height="5.9"/><rect x="835.90" y="312.98" width="5.9" height="5.9"/><rect x="843.97" y="312.98" width="5.9" height="5.9"/><rect x="852.05" y="312.98" width="5.9" height="5.9"/><rect x="860.13" y="312.98" width="5.9" height="5.9"/><rect x="868.21" y="312.98" width="5.9" height="5.9"/><rect x="876.29" y="312.98" width="5.9" height="5.9"/><rect x="884.37" y="312.98" width="5.9" height="5.9"/><rect x="892.44" y="312.98" width="5.9" height="5.9"/></g></g><text x="782.78" y="228.70" font-size="28" fill="#000">3</text><text x="797.86" y="216.40" font-size="16" fill="#000">rd</text><text x="820.48" y="228.70" font-size="28" fill="#000">abs</text><text x="738.00" y="370.40" font-size="28.8" fill="#000">No additive</text><text x="742.78" y="402.50" font-size="28.8" fill="#808000">Y</text><text x="741.80" y="532.40" font-size="28.8" fill="#ff8000">Sc</text><text x="598.40" y="677.60" font-size="28" fill="#000">2</text><text x="614.86" y="664.80" font-size="16" fill="#000">nd</text><text x="639.92" y="677.60" font-size="28" fill="#000">(des)</text><g clip-path="url(#c2)"><g fill="#ff8000"><circle cx="980.00" cy="338.00" r="3.3"/><circle cx="984.04" cy="349.05" r="3.3"/><circle cx="988.08" cy="361.57" r="3.3"/><circle cx="992.12" cy="372.12" r="3.3"/><circle cx="996.16" cy="385.17" r="3.3"/><circle cx="1000.20" cy="398.19" r="3.3"/><circle cx="1004.23" cy="410.24" r="3.3"/><circle cx="1008.27" cy="424.81" r="3.3"/><circle cx="1012.31" cy="437.32" r="3.3"/><circle cx="1016.35" cy="450.38" r="3.3"/><circle cx="1020.39" cy="461.43" r="3.3"/><circle cx="1024.43" cy="473.95" r="3.3"/><circle cx="1028.47" cy="482.49" r="3.3"/><circle cx="1032.51" cy="491.53" r="3.3"/><circle cx="1036.55" cy="499.54" r="3.3"/><circle cx="1040.59" cy="506.57" r="3.3"/><circle cx="1044.62" cy="512.60" r="3.3"/><circle cx="1048.66" cy="517.71" r="3.3"/><circle cx="1052.70" cy="522.12" r="3.3"/><circle cx="1056.74" cy="525.90" r="3.3"/><circle cx="1060.78" cy="529.11" r="3.3"/><circle cx="1064.82" cy="531.76" r="3.3"/><circle cx="1068.86" cy="534.00" r="3.3"/><circle cx="1072.90" cy="535.81" r="3.3"/><circle cx="1076.94" cy="537.31" r="3.3"/><circle cx="1080.97" cy="538.60" r="3.3"/><circle cx="1085.01" cy="539.76" r="3.3"/><circle cx="1089.05" cy="540.94" r="3.3"/><circle cx="1093.09" cy="542.05" r="3.3"/><circle cx="1097.13" cy="542.97" r="3.3"/><circle cx="1101.17" cy="543.59" r="3.3"/><circle cx="1105.21" cy="543.90" r="3.3"/><circle cx="1109.25" cy="544.16" r="3.3"/><circle cx="1113.29" cy="544.39" r="3.3"/><circle cx="1117.33" cy="544.55" r="3.3"/><circle cx="1121.37" cy="544.66" r="3.3"/><circle cx="1125.40" cy="544.70" r="3.3"/><circle cx="1129.44" cy="544.70" r="3.3"/><circle cx="1133.48" cy="544.70" r="3.3"/><circle cx="1137.52" cy="544.70" r="3.3"/><circle cx="1141.56" cy="544.70" r="3.3"/><circle cx="1145.60" cy="544.70" r="3.3"/><circle cx="1149.64" cy="544.70" r="3.3"/><circle cx="1153.68" cy="544.70" r="3.3"/><circle cx="1157.72" cy="544.70" r="3.3"/><circle cx="1161.76" cy="544.70" r="3.3"/></g></g><g clip-path="url(#c2)"><g fill="#fff" stroke="#808000" stroke-width="1.35"><circle cx="980.00" cy="338.00" r="2.25"/><circle cx="984.04" cy="339.04" r="2.25"/><circle cx="988.08" cy="340.04" r="2.25"/><circle cx="992.12" cy="341.01" r="2.25"/><circle cx="996.16" cy="341.96" r="2.25"/><circle cx="1000.20" cy="342.89" r="2.25"/><circle cx="1004.23" cy="343.79" r="2.25"/><circle cx="1008.27" cy="344.63" r="2.25"/><circle cx="1012.31" cy="345.40" r="2.25"/><circle cx="1016.35" cy="346.10" r="2.25"/><circle cx="1020.39" cy="346.76" r="2.25"/><circle cx="1024.43" cy="347.39" r="2.25"/><circle cx="1028.47" cy="348.03" r="2.25"/><circle cx="1032.51" cy="348.69" r="2.25"/><circle cx="1036.55" cy="349.36" r="2.25"/><circle cx="1040.59" cy="350.01" r="2.25"/><circle cx="1044.62" cy="350.61" r="2.25"/><circle cx="1048.66" cy="351.15" r="2.25"/><circle cx="1052.70" cy="351.62" r="2.25"/><circle cx="1056.74" cy="352.05" r="2.25"/><circle cx="1060.78" cy="352.45" r="2.25"/><circle cx="1064.82" cy="352.83" r="2.25"/><circle cx="1068.86" cy="353.20" r="2.25"/><circle cx="1072.90" cy="353.57" r="2.25"/><circle cx="1076.94" cy="353.96" r="2.25"/><circle cx="1080.97" cy="354.37" r="2.25"/><circle cx="1085.01" cy="354.82" r="2.25"/><circle cx="1089.05" cy="355.32" r="2.25"/><circle cx="1093.09" cy="355.88" r="2.25"/><circle cx="1097.13" cy="356.48" r="2.25"/><circle cx="1101.17" cy="357.12" r="2.25"/><circle cx="1105.21" cy="357.78" r="2.25"/><circle cx="1109.25" cy="358.45" r="2.25"/><circle cx="1113.29" cy="359.12" r="2.25"/><circle cx="1117.33" cy="359.77" r="2.25"/><circle cx="1121.37" cy="360.40" r="2.25"/><circle cx="1125.40" cy="360.99" r="2.25"/><circle cx="1129.44" cy="361.55" r="2.25"/><circle cx="1133.48" cy="362.10" r="2.25"/><circle cx="1137.52" cy="362.63" r="2.25"/><circle cx="1141.56" cy="363.16" r="2.25"/><circle cx="1145.60" cy="363.67" r="2.25"/><circle cx="1149.64" cy="364.17" r="2.25"/><circle cx="1153.68" cy="364.66" r="2.25"/><circle cx="1157.72" cy="365.13" r="2.25"/><circle cx="1161.76" cy="365.59" r="2.25"/></g></g><g clip-path="url(#c2)"><g><path d="M980.00,334.80L983.70,341.20L976.30,341.20Z" fill="#ff0000"/><path d="M984.04,385.02L987.74,391.42L980.34,391.42Z" fill="#ff0000"/><path d="M988.08,437.60L991.78,444.00L984.38,444.00Z" fill="#ff0000"/><path d="M992.12,479.29L995.82,485.69L988.42,485.69Z" fill="#ff0000"/><path d="M996.16,506.41L999.86,512.81L992.46,512.81Z" fill="#ff0000"/><path d="M1000.20,527.94L1003.90,534.34L996.50,534.34Z" fill="#ff0000"/><path d="M1004.23,545.01L1007.93,551.41L1000.53,551.41Z" fill="#ff0000"/><path d="M1008.27,554.55L1011.97,560.95L1004.57,560.95Z" fill="#ff0000"/><path d="M1012.31,560.56L1016.01,566.96L1008.61,566.96Z" fill="#ff0000"/><path d="M1016.35,565.58L1020.05,571.98L1012.65,571.98Z" fill="#ff0000"/><path d="M1020.39,568.09L1024.09,574.49L1016.69,574.49Z" fill="#ff0000"/><path d="M1024.43,569.59L1028.13,575.99L1020.73,575.99Z" fill="#ff0000"/><path d="M1028.47,570.56L1032.17,576.96L1024.77,576.96Z" fill="#ff0000"/><path d="M1032.51,571.36L1036.21,577.76L1028.81,577.76Z" fill="#ff0000"/><path d="M1036.55,571.90L1040.25,578.30L1032.85,578.30Z" fill="#ff0000"/><path d="M1040.59,572.10L1044.29,578.50L1036.88,578.50Z" fill="#ff0000"/><path d="M1044.62,572.10L1048.32,578.50L1040.92,578.50Z" fill="#ff0000"/><path d="M1048.66,572.10L1052.36,578.50L1044.96,578.50Z" fill="#ff0000"/><path d="M1052.70,572.10L1056.40,578.50L1049.00,578.50Z" fill="#ff0000"/><path d="M1056.74,572.10L1060.44,578.50L1053.04,578.50Z" fill="#ff0000"/><path d="M1060.78,572.10L1064.48,578.50L1057.08,578.50Z" fill="#ff0000"/><path d="M1064.82,572.10L1068.52,578.50L1061.12,578.50Z" fill="#ff0000"/><path d="M1068.86,572.10L1072.56,578.50L1065.16,578.50Z" fill="#ff0000"/><path d="M1072.90,572.10L1076.60,578.50L1069.20,578.50Z" fill="#ff0000"/><path d="M1076.94,572.10L1080.64,578.50L1073.24,578.50Z" fill="#ff0000"/><path d="M1080.97,572.10L1084.67,578.50L1077.27,578.50Z" fill="#ff0000"/><path d="M1085.01,572.10L1088.71,578.50L1081.31,578.50Z" fill="#ff0000"/><path d="M1089.05,572.10L1092.75,578.50L1085.35,578.50Z" fill="#ff0000"/><path d="M1093.09,572.10L1096.79,578.50L1089.39,578.50Z" fill="#ff0000"/><path d="M1097.13,572.10L1100.83,578.50L1093.43,578.50Z" fill="#ff0000"/><path d="M1101.17,572.10L1104.87,578.50L1097.47,578.50Z" fill="#ff0000"/><path d="M1105.21,572.10L1108.91,578.50L1101.51,578.50Z" fill="#ff0000"/><path d="M1109.25,572.10L1112.95,578.50L1105.55,578.50Z" fill="#ff0000"/><path d="M1113.29,572.10L1116.99,578.50L1109.59,578.50Z" fill="#ff0000"/><path d="M1117.33,572.10L1121.03,578.50L1113.63,578.50Z" fill="#ff0000"/><path d="M1121.37,572.10L1125.07,578.50L1117.66,578.50Z" fill="#ff0000"/><path d="M1125.40,572.10L1129.10,578.50L1121.70,578.50Z" fill="#ff0000"/><path d="M1129.44,572.10L1133.14,578.50L1125.74,578.50Z" fill="#ff0000"/><path d="M1133.48,572.10L1137.18,578.50L1129.78,578.50Z" fill="#ff0000"/><path d="M1137.52,572.10L1141.22,578.50L1133.82,578.50Z" fill="#ff0000"/><path d="M1141.56,572.10L1145.26,578.50L1137.86,578.50Z" fill="#ff0000"/><path d="M1145.60,572.10L1149.30,578.50L1141.90,578.50Z" fill="#ff0000"/><path d="M1149.64,572.10L1153.34,578.50L1145.94,578.50Z" fill="#ff0000"/><path d="M1153.68,572.10L1157.38,578.50L1149.98,578.50Z" fill="#ff0000"/><path d="M1157.72,572.10L1161.42,578.50L1154.02,578.50Z" fill="#ff0000"/><path d="M1161.76,572.10L1165.46,578.50L1158.06,578.50Z" fill="#ff0000"/></g></g><g clip-path="url(#c2)"><g><path d="M980.00,335.35L983.05,340.65L976.95,340.65Z" fill="#fff" stroke="#0000ff" stroke-width="1.0"/><path d="M984.04,381.55L987.09,386.85L980.99,386.85Z" fill="#fff" stroke="#0000ff" stroke-width="1.0"/><path d="M988.08,427.12L991.13,432.42L985.03,432.42Z" fill="#fff" stroke="#0000ff" stroke-width="1.0"/><path d="M992.12,465.79L995.17,471.09L989.07,471.09Z" fill="#fff" stroke="#0000ff" stroke-width="1.0"/><path d="M996.16,491.40L999.21,496.70L993.11,496.70Z" fill="#fff" stroke="#0000ff" stroke-width="1.0"/><path d="M1000.20,505.42L1003.25,510.72L997.15,510.72Z" fill="#fff" stroke="#0000ff" stroke-width="1.0"/><path d="M1004.23,506.93L1007.28,512.23L1001.18,512.23Z" fill="#fff" stroke="#0000ff" stroke-width="1.0"/><path d="M1008.27,506.93L1011.32,512.23L1005.22,512.23Z" fill="#fff" stroke="#0000ff" stroke-width="1.0"/><path d="M1012.31,506.93L1015.36,512.23L1009.26,512.23Z" fill="#fff" stroke="#0000ff" stroke-width="1.0"/><path d="M1016.35,506.93L1019.40,512.23L1013.30,512.23Z" fill="#fff" stroke="#0000ff" stroke-width="1.0"/><path d="M1020.39,506.93L1023.44,512.23L1017.34,512.23Z" fill="#fff" stroke="#0000ff" stroke-width="1.0"/><path d="M1024.43,506.93L1027.48,512.23L1021.38,512.23Z" fill="#fff" stroke="#0000ff" stroke-width="1.0"/><path d="M1028.47,506.93L1031.52,512.23L1025.42,512.23Z" fill="#fff" stroke="#0000ff" stroke-width="1.0"/><path d="M1032.51,506.93L1035.56,512.23L1029.46,512.23Z" fill="#fff" stroke="#0000ff" stroke-width="1.0"/><path d="M1036.55,506.93L1039.60,512.23L1033.50,512.23Z" fill="#fff" stroke="#0000ff" stroke-width="1.0"/><path d="M1040.59,506.93L1043.63,512.23L1037.54,512.23Z" fill="#fff" stroke="#0000ff" stroke-width="1.0"/><path d="M1044.62,506.93L1047.67,512.23L1041.57,512.23Z" fill="#fff" stroke="#0000ff" stroke-width="1.0"/><path d="M1048.66,506.93L1051.71,512.23L1045.61,512.23Z" fill="#fff" stroke="#0000ff" stroke-width="1.0"/><path d="M1052.70,506.93L1055.75,512.23L1049.65,512.23Z" fill="#fff" stroke="#0000ff" stroke-width="1.0"/><path d="M1056.74,506.93L1059.79,512.23L1053.69,512.23Z" fill="#fff" stroke="#0000ff" stroke-width="1.0"/><path d="M1060.78,506.93L1063.83,512.23L1057.73,512.23Z" fill="#fff" stroke="#0000ff" stroke-width="1.0"/><path d="M1064.82,506.93L1067.87,512.23L1061.77,512.23Z" fill="#fff" stroke="#0000ff" stroke-width="1.0"/><path d="M1068.86,506.93L1071.91,512.23L1065.81,512.23Z" fill="#fff" stroke="#0000ff" stroke-width="1.0"/><path d="M1072.90,506.93L1075.95,512.23L1069.85,512.23Z" fill="#fff" stroke="#0000ff" stroke-width="1.0"/><path d="M1076.94,506.93L1079.99,512.23L1073.89,512.23Z" fill="#fff" stroke="#0000ff" stroke-width="1.0"/><path d="M1080.97,506.93L1084.02,512.23L1077.92,512.23Z" fill="#fff" stroke="#0000ff" stroke-width="1.0"/><path d="M1085.01,506.93L1088.06,512.23L1081.96,512.23Z" fill="#fff" stroke="#0000ff" stroke-width="1.0"/><path d="M1089.05,506.93L1092.10,512.23L1086.00,512.23Z" fill="#fff" stroke="#0000ff" stroke-width="1.0"/><path d="M1093.09,506.93L1096.14,512.23L1090.04,512.23Z" fill="#fff" stroke="#0000ff" stroke-width="1.0"/><path d="M1097.13,506.93L1100.18,512.23L1094.08,512.23Z" fill="#fff" stroke="#0000ff" stroke-width="1.0"/><path d="M1101.17,506.93L1104.22,512.23L1098.12,512.23Z" fill="#fff" stroke="#0000ff" stroke-width="1.0"/><path d="M1105.21,506.93L1108.26,512.23L1102.16,512.23Z" fill="#fff" stroke="#0000ff" stroke-width="1.0"/><path d="M1109.25,506.93L1112.30,512.23L1106.20,512.23Z" fill="#fff" stroke="#0000ff" stroke-width="1.0"/><path d="M1113.29,506.93L1116.34,512.23L1110.24,512.23Z" fill="#fff" stroke="#0000ff" stroke-width="1.0"/><path d="M1117.33,506.93L1120.38,512.23L1114.28,512.23Z" fill="#fff" stroke="#0000ff" stroke-width="1.0"/><path d="M1121.37,506.93L1124.41,512.23L1118.32,512.23Z" fill="#fff" stroke="#0000ff" stroke-width="1.0"/><path d="M1125.40,506.93L1128.45,512.23L1122.35,512.23Z" fill="#fff" stroke="#0000ff" stroke-width="1.0"/><path d="M1129.44,506.93L1132.49,512.23L1126.39,512.23Z" fill="#fff" stroke="#0000ff" stroke-width="1.0"/><path d="M1133.48,506.93L1136.53,512.23L1130.43,512.23Z" fill="#fff" stroke="#0000ff" stroke-width="1.0"/><path d="M1137.52,506.93L1140.57,512.23L1134.47,512.23Z" fill="#fff" stroke="#0000ff" stroke-width="1.0"/><path d="M1141.56,506.93L1144.61,512.23L1138.51,512.23Z" fill="#fff" stroke="#0000ff" stroke-width="1.0"/><path d="M1145.60,506.93L1148.65,512.23L1142.55,512.23Z" fill="#fff" stroke="#0000ff" stroke-width="1.0"/><path d="M1149.64,506.93L1152.69,512.23L1146.59,512.23Z" fill="#fff" stroke="#0000ff" stroke-width="1.0"/><path d="M1153.68,506.93L1156.73,512.23L1150.63,512.23Z" fill="#fff" stroke="#0000ff" stroke-width="1.0"/><path d="M1157.72,506.93L1160.77,512.23L1154.67,512.23Z" fill="#fff" stroke="#0000ff" stroke-width="1.0"/><path d="M1161.76,506.93L1164.81,512.23L1158.71,512.23Z" fill="#fff" stroke="#0000ff" stroke-width="1.0"/></g></g><g clip-path="url(#c2)"><g><path d="M980.00,334.00L984.00,338.00L980.00,342.00L976.00,338.00Z" fill="#ff00ff"/><path d="M984.04,388.24L988.04,392.24L984.04,396.24L980.04,392.24Z" fill="#ff00ff"/><path d="M988.08,444.83L992.08,448.83L988.08,452.83L984.08,448.83Z" fill="#ff00ff"/><path d="M992.12,486.52L996.12,490.52L992.12,494.52L988.12,490.52Z" fill="#ff00ff"/><path d="M996.16,512.12L1000.16,516.12L996.16,520.12L992.16,516.12Z" fill="#ff00ff"/><path d="M1000.20,526.14L1004.20,530.14L1000.20,534.14L996.20,530.14Z" fill="#ff00ff"/><path d="M1004.23,534.68L1008.23,538.68L1004.23,542.68L1000.23,538.68Z" fill="#ff00ff"/><path d="M1008.27,538.93L1012.27,542.93L1008.27,546.93L1004.27,542.93Z" fill="#ff00ff"/><path d="M1012.31,539.73L1016.31,543.73L1012.31,547.73L1008.31,543.73Z" fill="#ff00ff"/><path d="M1016.35,539.81L1020.35,543.81L1016.35,547.81L1012.35,543.81Z" fill="#ff00ff"/><path d="M1020.39,539.88L1024.39,543.88L1020.39,547.88L1016.39,543.88Z" fill="#ff00ff"/><path d="M1024.43,539.94L1028.43,543.94L1024.43,547.94L1020.43,543.94Z" fill="#ff00ff"/><path d="M1028.47,540.00L1032.47,544.00L1028.47,548.00L1024.47,544.00Z" fill="#ff00ff"/><path d="M1032.51,540.06L1036.51,544.06L1032.51,548.06L1028.51,544.06Z" fill="#ff00ff"/><path d="M1036.55,540.12L1040.55,544.12L1036.55,548.12L1032.55,544.12Z" fill="#ff00ff"/><path d="M1040.59,540.17L1044.59,544.17L1040.59,548.17L1036.59,544.17Z" fill="#ff00ff"/><path d="M1044.62,540.22L1048.62,544.22L1044.62,548.22L1040.62,544.22Z" fill="#ff00ff"/><path d="M1048.66,540.26L1052.66,544.26L1048.66,548.26L1044.66,544.26Z" fill="#ff00ff"/><path d="M1052.70,540.30L1056.70,544.30L1052.70,548.30L1048.70,544.30Z" fill="#ff00ff"/><path d="M1056.74,540.34L1060.74,544.34L1056.74,548.34L1052.74,544.34Z" fill="#ff00ff"/><path d="M1060.78,540.38L1064.78,544.38L1060.78,548.38L1056.78,544.38Z" fill="#ff00ff"/><path d="M1064.82,540.41L1068.82,544.41L1064.82,548.41L1060.82,544.41Z" fill="#ff00ff"/><path d="M1068.86,540.45L1072.86,544.45L1068.86,548.45L1064.86,544.45Z" fill="#ff00ff"/><path d="M1072.90,540.48L1076.90,544.48L1072.90,548.48L1068.90,544.48Z" fill="#ff00ff"/><path d="M1076.94,540.50L1080.94,544.50L1076.94,548.50L1072.94,544.50Z" fill="#ff00ff"/><path d="M1080.97,540.53L1084.97,544.53L1080.97,548.53L1076.97,544.53Z" fill="#ff00ff"/><path d="M1085.01,540.55L1089.01,544.55L1085.01,548.55L1081.01,544.55Z" fill="#ff00ff"/><path d="M1089.05,540.57L1093.05,544.57L1089.05,548.57L1085.05,544.57Z" fill="#ff00ff"/><path d="M1093.09,540.59L1097.09,544.59L1093.09,548.59L1089.09,544.59Z" fill="#ff00ff"/><path d="M1097.13,540.61L1101.13,544.61L1097.13,548.61L1093.13,544.61Z" fill="#ff00ff"/><path d="M1101.17,540.62L1105.17,544.62L1101.17,548.62L1097.17,544.62Z" fill="#ff00ff"/><path d="M1105.21,540.63L1109.21,544.63L1105.21,548.63L1101.21,544.63Z" fill="#ff00ff"/><path d="M1109.25,540.65L1113.25,544.65L1109.25,548.65L1105.25,544.65Z" fill="#ff00ff"/><path d="M1113.29,540.66L1117.29,544.66L1113.29,548.66L1109.29,544.66Z" fill="#ff00ff"/><path d="M1117.33,540.67L1121.33,544.67L1117.33,548.67L1113.33,544.67Z" fill="#ff00ff"/><path d="M1121.37,540.67L1125.37,544.67L1121.37,548.67L1117.37,544.67Z" fill="#ff00ff"/><path d="M1125.40,540.68L1129.40,544.68L1125.40,548.68L1121.40,544.68Z" fill="#ff00ff"/><path d="M1129.44,540.69L1133.44,544.69L1129.44,548.69L1125.44,544.69Z" fill="#ff00ff"/><path d="M1133.48,540.69L1137.48,544.69L1133.48,548.69L1129.48,544.69Z" fill="#ff00ff"/><path d="M1137.52,540.69L1141.52,544.69L1137.52,548.69L1133.52,544.69Z" fill="#ff00ff"/><path d="M1141.56,540.70L1145.56,544.70L1141.56,548.70L1137.56,544.70Z" fill="#ff00ff"/><path d="M1145.60,540.70L1149.60,544.70L1145.60,548.70L1141.60,544.70Z" fill="#ff00ff"/><path d="M1149.64,540.70L1153.64,544.70L1149.64,548.70L1145.64,544.70Z" fill="#ff00ff"/><path d="M1153.68,540.70L1157.68,544.70L1153.68,548.70L1149.68,544.70Z" fill="#ff00ff"/><path d="M1157.72,540.70L1161.72,544.70L1157.72,548.70L1153.72,544.70Z" fill="#ff00ff"/></g></g><g clip-path="url(#c2)"><g><path d="M980.00,335.25L982.75,338.00L980.00,340.75L977.25,338.00Z" fill="#fff" stroke="#008000" stroke-width="1.05"/><path d="M984.04,370.41L986.79,373.16L984.04,375.91L981.29,373.16Z" fill="#fff" stroke="#008000" stroke-width="1.05"/><path d="M988.08,410.97L990.83,413.72L988.08,416.47L985.33,413.72Z" fill="#fff" stroke="#008000" stroke-width="1.05"/><path d="M992.12,449.14L994.87,451.89L992.12,454.64L989.37,451.89Z" fill="#fff" stroke="#008000" stroke-width="1.05"/><path d="M996.16,479.76L998.91,482.51L996.16,485.26L993.41,482.51Z" fill="#fff" stroke="#008000" stroke-width="1.05"/><path d="M1000.20,500.30L1002.95,503.05L1000.20,505.80L997.45,503.05Z" fill="#fff" stroke="#008000" stroke-width="1.05"/><path d="M1004.23,507.33L1006.98,510.08L1004.23,512.83L1001.48,510.08Z" fill="#fff" stroke="#008000" stroke-width="1.05"/><path d="M1008.27,508.85L1011.02,511.60L1008.27,514.35L1005.52,511.60Z" fill="#fff" stroke="#008000" stroke-width="1.05"/><path d="M1012.31,509.70L1015.06,512.45L1012.31,515.20L1009.56,512.45Z" fill="#fff" stroke="#008000" stroke-width="1.05"/><path d="M1016.35,510.34L1019.10,513.09L1016.35,515.84L1013.60,513.09Z" fill="#fff" stroke="#008000" stroke-width="1.05"/><path d="M1020.39,511.02L1023.14,513.77L1020.39,516.52L1017.64,513.77Z" fill="#fff" stroke="#008000" stroke-width="1.05"/><path d="M1024.43,511.64L1027.18,514.39L1024.43,517.14L1021.68,514.39Z" fill="#fff" stroke="#008000" stroke-width="1.05"/><path d="M1028.47,512.20L1031.22,514.95L1028.47,517.70L1025.72,514.95Z" fill="#fff" stroke="#008000" stroke-width="1.05"/><path d="M1032.51,512.68L1035.26,515.43L1032.51,518.18L1029.76,515.43Z" fill="#fff" stroke="#008000" stroke-width="1.05"/><path d="M1036.55,513.07L1039.30,515.82L1036.55,518.57L1033.80,515.82Z" fill="#fff" stroke="#008000" stroke-width="1.05"/><path d="M1040.59,513.35L1043.34,516.10L1040.59,518.85L1037.84,516.10Z" fill="#fff" stroke="#008000" stroke-width="1.05"/><path d="M1044.62,513.57L1047.37,516.32L1044.62,519.07L1041.87,516.32Z" fill="#fff" stroke="#008000" stroke-width="1.05"/><path d="M1048.66,513.77L1051.41,516.52L1048.66,519.27L1045.91,516.52Z" fill="#fff" stroke="#008000" stroke-width="1.05"/><path d="M1052.70,513.95L1055.45,516.70L1052.70,519.45L1049.95,516.70Z" fill="#fff" stroke="#008000" stroke-width="1.05"/><path d="M1056.74,514.11L1059.49,516.86L1056.74,519.61L1053.99,516.86Z" fill="#fff" stroke="#008000" stroke-width="1.05"/><path d="M1060.78,514.26L1063.53,517.01L1060.78,519.76L1058.03,517.01Z" fill="#fff" stroke="#008000" stroke-width="1.05"/><path d="M1064.82,514.39L1067.57,517.14L1064.82,519.89L1062.07,517.14Z" fill="#fff" stroke="#008000" stroke-width="1.05"/><path d="M1068.86,514.52L1071.61,517.27L1068.86,520.02L1066.11,517.27Z" fill="#fff" stroke="#008000" stroke-width="1.05"/><path d="M1072.90,514.63L1075.65,517.38L1072.90,520.13L1070.15,517.38Z" fill="#fff" stroke="#008000" stroke-width="1.05"/><path d="M1076.94,514.74L1079.69,517.49L1076.94,520.24L1074.19,517.49Z" fill="#fff" stroke="#008000" stroke-width="1.05"/><path d="M1080.97,514.84L1083.72,517.59L1080.97,520.34L1078.22,517.59Z" fill="#fff" stroke="#008000" stroke-width="1.05"/><path d="M1085.01,514.94L1087.76,517.69L1085.01,520.44L1082.26,517.69Z" fill="#fff" stroke="#008000" stroke-width="1.05"/><path d="M1089.05,515.04L1091.80,517.79L1089.05,520.54L1086.30,517.79Z" fill="#fff" stroke="#008000" stroke-width="1.05"/><path d="M1093.09,515.14L1095.84,517.89L1093.09,520.64L1090.34,517.89Z" fill="#fff" stroke="#008000" stroke-width="1.05"/><path d="M1097.13,515.25L1099.88,518.00L1097.13,520.75L1094.38,518.00Z" fill="#fff" stroke="#008000" stroke-width="1.05"/><path d="M1101.17,515.36L1103.92,518.11L1101.17,520.86L1098.42,518.11Z" fill="#fff" stroke="#008000" stroke-width="1.05"/><path d="M1105.21,515.47L1107.96,518.22L1105.21,520.97L1102.46,518.22Z" fill="#fff" stroke="#008000" stroke-width="1.05"/><path d="M1109.25,515.59L1112.00,518.34L1109.25,521.09L1106.50,518.34Z" fill="#fff" stroke="#008000" stroke-width="1.05"/><path d="M1113.29,515.70L1116.04,518.45L1113.29,521.20L1110.54,518.45Z" fill="#fff" stroke="#008000" stroke-width="1.05"/><path d="M1117.33,515.81L1120.08,518.56L1117.33,521.31L1114.58,518.56Z" fill="#fff" stroke="#008000" stroke-width="1.05"/><path d="M1121.37,515.91L1124.12,518.66L1121.37,521.41L1118.62,518.66Z" fill="#fff" stroke="#008000" stroke-width="1.05"/><path d="M1125.40,516.02L1128.15,518.77L1125.40,521.52L1122.65,518.77Z" fill="#fff" stroke="#008000" stroke-width="1.05"/><path d="M1129.44,516.12L1132.19,518.87L1129.44,521.62L1126.69,518.87Z" fill="#fff" stroke="#008000" stroke-width="1.05"/><path d="M1133.48,516.22L1136.23,518.97L1133.48,521.72L1130.73,518.97Z" fill="#fff" stroke="#008000" stroke-width="1.05"/><path d="M1137.52,516.32L1140.27,519.07L1137.52,521.82L1134.77,519.07Z" fill="#fff" stroke="#008000" stroke-width="1.05"/><path d="M1141.56,516.42L1144.31,519.17L1141.56,521.92L1138.81,519.17Z" fill="#fff" stroke="#008000" stroke-width="1.05"/><path d="M1145.60,516.51L1148.35,519.26L1145.60,522.01L1142.85,519.26Z" fill="#fff" stroke="#008000" stroke-width="1.05"/><path d="M1149.64,516.60L1152.39,519.35L1149.64,522.10L1146.89,519.35Z" fill="#fff" stroke="#008000" stroke-width="1.05"/><path d="M1153.68,516.69L1156.43,519.44L1153.68,522.19L1150.93,519.44Z" fill="#fff" stroke="#008000" stroke-width="1.05"/><path d="M1157.72,516.78L1160.47,519.53L1157.72,522.28L1154.97,519.53Z" fill="#fff" stroke="#008000" stroke-width="1.05"/><path d="M1161.76,516.87L1164.51,519.62L1161.76,522.37L1159.01,519.62Z" fill="#fff" stroke="#008000" stroke-width="1.05"/></g></g><g clip-path="url(#c2)"><g fill="#ff8000"><circle cx="1161.76" cy="338.00" r="3.3"/><circle cx="1165.79" cy="264.70" r="3.3"/><circle cx="1169.83" cy="228.16" r="3.3"/><circle cx="1173.87" cy="206.05" r="3.3"/><circle cx="1177.91" cy="190.38" r="3.3"/><circle cx="1181.95" cy="179.90" r="3.3"/><circle cx="1185.99" cy="173.94" r="3.3"/><circle cx="1190.03" cy="168.92" r="3.3"/><circle cx="1194.07" cy="164.63" r="3.3"/><circle cx="1198.11" cy="161.15" r="3.3"/><circle cx="1202.14" cy="158.35" r="3.3"/><circle cx="1206.18" cy="156.02" r="3.3"/><circle cx="1210.22" cy="154.16" r="3.3"/><circle cx="1214.26" cy="152.68" r="3.3"/><circle cx="1218.30" cy="151.21" r="3.3"/><circle cx="1222.34" cy="149.71" r="3.3"/><circle cx="1226.38" cy="148.30" r="3.3"/><circle cx="1230.42" cy="147.01" r="3.3"/><circle cx="1234.46" cy="145.80" r="3.3"/><circle cx="1238.50" cy="144.66" r="3.3"/><circle cx="1242.53" cy="143.58" r="3.3"/><circle cx="1246.57" cy="142.66" r="3.3"/><circle cx="1250.61" cy="141.86" r="3.3"/><circle cx="1254.65" cy="141.20" r="3.3"/><circle cx="1258.69" cy="140.69" r="3.3"/><circle cx="1262.73" cy="140.24" r="3.3"/><circle cx="1266.77" cy="139.84" r="3.3"/><circle cx="1270.81" cy="139.47" r="3.3"/><circle cx="1274.85" cy="139.12" r="3.3"/><circle cx="1278.89" cy="138.80" r="3.3"/><circle cx="1282.92" cy="138.48" r="3.3"/><circle cx="1286.96" cy="138.16" r="3.3"/><circle cx="1291.00" cy="137.83" r="3.3"/><circle cx="1295.04" cy="137.48" r="3.3"/><circle cx="1299.08" cy="137.10" r="3.3"/><circle cx="1303.12" cy="136.72" r="3.3"/><circle cx="1307.16" cy="136.34" r="3.3"/><circle cx="1311.20" cy="135.95" r="3.3"/><circle cx="1315.24" cy="135.56" r="3.3"/><circle cx="1319.28" cy="135.18" r="3.3"/><circle cx="1323.32" cy="134.79" r="3.3"/><circle cx="1327.35" cy="134.39" r="3.3"/><circle cx="1331.39" cy="134.00" r="3.3"/><circle cx="1335.43" cy="133.60" r="3.3"/><circle cx="1339.47" cy="133.20" r="3.3"/><circle cx="1343.51" cy="132.80" r="3.3"/></g></g><g clip-path="url(#c2)"><g fill="#fff" stroke="#808000" stroke-width="1.35"><circle cx="1161.76" cy="338.00" r="2.25"/><circle cx="1165.79" cy="328.96" r="2.25"/><circle cx="1169.83" cy="325.96" r="2.25"/><circle cx="1173.87" cy="324.29" r="2.25"/><circle cx="1177.91" cy="323.02" r="2.25"/><circle cx="1181.95" cy="321.64" r="2.25"/><circle cx="1185.99" cy="319.98" r="2.25"/><circle cx="1190.03" cy="318.40" r="2.25"/><circle cx="1194.07" cy="317.14" r="2.25"/><circle cx="1198.11" cy="315.97" r="2.25"/><circle cx="1202.14" cy="314.90" r="2.25"/><circle cx="1206.18" cy="313.97" r="2.25"/><circle cx="1210.22" cy="313.21" r="2.25"/><circle cx="1214.26" cy="312.63" r="2.25"/><circle cx="1218.30" cy="312.11" r="2.25"/><circle cx="1222.34" cy="311.66" r="2.25"/><circle cx="1226.38" cy="311.28" r="2.25"/><circle cx="1230.42" cy="311.01" r="2.25"/><circle cx="1234.46" cy="310.86" r="2.25"/><circle cx="1238.50" cy="310.73" r="2.25"/><circle cx="1242.53" cy="310.62" r="2.25"/><circle cx="1246.57" cy="310.53" r="2.25"/><circle cx="1250.61" cy="310.47" r="2.25"/><circle cx="1254.65" cy="310.42" r="2.25"/><circle cx="1258.69" cy="310.41" r="2.25"/><circle cx="1262.73" cy="310.41" r="2.25"/><circle cx="1266.77" cy="310.41" r="2.25"/><circle cx="1270.81" cy="310.41" r="2.25"/><circle cx="1274.85" cy="310.41" r="2.25"/><circle cx="1278.89" cy="310.41" r="2.25"/><circle cx="1282.92" cy="310.41" r="2.25"/><circle cx="1286.96" cy="310.41" r="2.25"/><circle cx="1291.00" cy="310.41" r="2.25"/><circle cx="1295.04" cy="310.41" r="2.25"/><circle cx="1299.08" cy="310.41" r="2.25"/><circle cx="1303.12" cy="310.41" r="2.25"/><circle cx="1307.16" cy="310.41" r="2.25"/><circle cx="1311.20" cy="310.41" r="2.25"/><circle cx="1315.24" cy="310.41" r="2.25"/><circle cx="1319.28" cy="310.41" r="2.25"/><circle cx="1323.32" cy="310.41" r="2.25"/><circle cx="1327.35" cy="310.41" r="2.25"/><circle cx="1331.39" cy="310.41" r="2.25"/><circle cx="1335.43" cy="310.41" r="2.25"/><circle cx="1339.47" cy="310.41" r="2.25"/><circle cx="1343.51" cy="310.41" r="2.25"/></g></g><g clip-path="url(#c2)"><g><path d="M1161.76,334.80L1165.46,341.20L1158.06,341.20Z" fill="#ff0000"/><path d="M1165.79,200.79L1169.49,207.19L1162.09,207.19Z" fill="#ff0000"/><path d="M1169.83,165.75L1173.53,172.15L1166.13,172.15Z" fill="#ff0000"/><path d="M1173.87,149.17L1177.57,155.57L1170.17,155.57Z" fill="#ff0000"/><path d="M1177.91,139.13L1181.61,145.53L1174.21,145.53Z" fill="#ff0000"/><path d="M1181.95,133.12L1185.65,139.52L1178.25,139.52Z" fill="#ff0000"/><path d="M1185.99,128.10L1189.69,134.50L1182.29,134.50Z" fill="#ff0000"/><path d="M1190.03,124.08L1193.73,130.48L1186.33,130.48Z" fill="#ff0000"/><path d="M1194.07,121.58L1197.77,127.98L1190.37,127.98Z" fill="#ff0000"/><path d="M1198.11,119.57L1201.81,125.97L1194.41,125.97Z" fill="#ff0000"/><path d="M1202.14,117.56L1205.85,123.96L1198.44,123.96Z" fill="#ff0000"/><path d="M1206.18,116.26L1209.88,122.66L1202.48,122.66Z" fill="#ff0000"/><path d="M1210.22,114.98L1213.92,121.38L1206.52,121.38Z" fill="#ff0000"/><path d="M1214.26,113.71L1217.96,120.11L1210.56,120.11Z" fill="#ff0000"/><path d="M1218.30,112.55L1222.00,118.95L1214.60,118.95Z" fill="#ff0000"/><path d="M1222.34,111.48L1226.04,117.88L1218.64,117.88Z" fill="#ff0000"/><path d="M1226.38,110.50L1230.08,116.90L1222.68,116.90Z" fill="#ff0000"/><path d="M1230.42,109.64L1234.12,116.04L1226.72,116.04Z" fill="#ff0000"/><path d="M1234.46,108.84L1238.16,115.24L1230.76,115.24Z" fill="#ff0000"/><path d="M1238.50,108.06L1242.20,114.46L1234.80,114.46Z" fill="#ff0000"/><path d="M1242.53,107.30L1246.23,113.70L1238.83,113.70Z" fill="#ff0000"/><path d="M1246.57,106.65L1250.27,113.05L1242.87,113.05Z" fill="#ff0000"/><path d="M1250.61,106.12L1254.31,112.52L1246.91,112.52Z" fill="#ff0000"/><path d="M1254.65,105.63L1258.35,112.03L1250.95,112.03Z" fill="#ff0000"/><path d="M1258.69,105.13L1262.39,111.53L1254.99,111.53Z" fill="#ff0000"/><path d="M1262.73,104.62L1266.43,111.02L1259.03,111.02Z" fill="#ff0000"/><path d="M1266.77,104.10L1270.47,110.50L1263.07,110.50Z" fill="#ff0000"/><path d="M1270.81,103.59L1274.51,109.99L1267.11,109.99Z" fill="#ff0000"/><path d="M1274.85,103.09L1278.55,109.49L1271.15,109.49Z" fill="#ff0000"/><path d="M1278.89,102.59L1282.59,108.99L1275.19,108.99Z" fill="#ff0000"/><path d="M1282.92,102.09L1286.62,108.49L1279.22,108.49Z" fill="#ff0000"/><path d="M1286.96,101.61L1290.66,108.01L1283.26,108.01Z" fill="#ff0000"/><path d="M1291.00,101.14L1294.70,107.54L1287.30,107.54Z" fill="#ff0000"/><path d="M1295.04,100.69L1298.74,107.09L1291.34,107.09Z" fill="#ff0000"/><path d="M1299.08,100.25L1302.78,106.65L1295.38,106.65Z" fill="#ff0000"/><path d="M1303.12,99.83L1306.82,106.23L1299.42,106.23Z" fill="#ff0000"/><path d="M1307.16,99.40L1310.86,105.80L1303.46,105.80Z" fill="#ff0000"/><path d="M1311.20,98.99L1314.90,105.39L1307.50,105.39Z" fill="#ff0000"/><path d="M1315.24,98.58L1318.94,104.98L1311.54,104.98Z" fill="#ff0000"/><path d="M1319.28,98.19L1322.98,104.59L1315.58,104.59Z" fill="#ff0000"/><path d="M1323.32,97.80L1327.02,104.20L1319.62,104.20Z" fill="#ff0000"/><path d="M1327.35,97.42L1331.05,103.82L1323.65,103.82Z" fill="#ff0000"/><path d="M1331.39,97.04L1335.09,103.44L1327.69,103.44Z" fill="#ff0000"/><path d="M1335.43,96.68L1339.13,103.08L1331.73,103.08Z" fill="#ff0000"/><path d="M1339.47,96.33L1343.17,102.73L1335.77,102.73Z" fill="#ff0000"/><path d="M1343.51,95.99L1347.21,102.39L1339.81,102.39Z" fill="#ff0000"/></g></g><g clip-path="url(#c2)"><g><path d="M1161.76,335.35L1164.81,340.65L1158.71,340.65Z" fill="#fff" stroke="#0000ff" stroke-width="1.0"/><path d="M1165.79,238.49L1168.84,243.79L1162.74,243.79Z" fill="#fff" stroke="#0000ff" stroke-width="1.0"/><path d="M1169.83,221.47L1172.88,226.77L1166.78,226.77Z" fill="#fff" stroke="#0000ff" stroke-width="1.0"/><path d="M1173.87,213.94L1176.92,219.24L1170.82,219.24Z" fill="#fff" stroke="#0000ff" stroke-width="1.0"/><path d="M1177.91,209.09L1180.96,214.39L1174.86,214.39Z" fill="#fff" stroke="#0000ff" stroke-width="1.0"/><path d="M1181.95,205.48L1185.00,210.78L1178.90,210.78Z" fill="#fff" stroke="#0000ff" stroke-width="1.0"/><path d="M1185.99,202.44L1189.04,207.74L1182.94,207.74Z" fill="#fff" stroke="#0000ff" stroke-width="1.0"/><path d="M1190.03,199.61L1193.08,204.91L1186.98,204.91Z" fill="#fff" stroke="#0000ff" stroke-width="1.0"/><path d="M1194.07,196.86L1197.12,202.16L1191.02,202.16Z" fill="#fff" stroke="#0000ff" stroke-width="1.0"/><path d="M1198.11,194.24L1201.16,199.54L1195.06,199.54Z" fill="#fff" stroke="#0000ff" stroke-width="1.0"/><path d="M1202.14,191.78L1205.19,197.08L1199.10,197.08Z" fill="#fff" stroke="#0000ff" stroke-width="1.0"/><path d="M1206.18,189.48L1209.23,194.78L1203.13,194.78Z" fill="#fff" stroke="#0000ff" stroke-width="1.0"/><path d="M1210.22,187.53L1213.27,192.83L1207.17,192.83Z" fill="#fff" stroke="#0000ff" stroke-width="1.0"/><path d="M1214.26,185.75L1217.31,191.05L1211.21,191.05Z" fill="#fff" stroke="#0000ff" stroke-width="1.0"/><path d="M1218.30,184.09L1221.35,189.39L1215.25,189.39Z" fill="#fff" stroke="#0000ff" stroke-width="1.0"/><path d="M1222.34,182.59L1225.39,187.89L1219.29,187.89Z" fill="#fff" stroke="#0000ff" stroke-width="1.0"/><path d="M1226.38,181.27L1229.43,186.57L1223.33,186.57Z" fill="#fff" stroke="#0000ff" stroke-width="1.0"/><path d="M1230.42,180.15L1233.47,185.45L1227.37,185.45Z" fill="#fff" stroke="#0000ff" stroke-width="1.0"/><path d="M1234.46,179.12L1237.51,184.42L1231.41,184.42Z" fill="#fff" stroke="#0000ff" stroke-width="1.0"/><path d="M1238.50,178.16L1241.55,183.46L1235.45,183.46Z" fill="#fff" stroke="#0000ff" stroke-width="1.0"/><path d="M1242.53,177.28L1245.58,182.58L1239.48,182.58Z" fill="#fff" stroke="#0000ff" stroke-width="1.0"/><path d="M1246.57,176.44L1249.62,181.74L1243.52,181.74Z" fill="#fff" stroke="#0000ff" stroke-width="1.0"/><path d="M1250.61,175.66L1253.66,180.96L1247.56,180.96Z" fill="#fff" stroke="#0000ff" stroke-width="1.0"/><path d="M1254.65,174.91L1257.70,180.21L1251.60,180.21Z" fill="#fff" stroke="#0000ff" stroke-width="1.0"/><path d="M1258.69,174.20L1261.74,179.50L1255.64,179.50Z" fill="#fff" stroke="#0000ff" stroke-width="1.0"/><path d="M1262.73,173.51L1265.78,178.81L1259.68,178.81Z" fill="#fff" stroke="#0000ff" stroke-width="1.0"/><path d="M1266.77,172.83L1269.82,178.13L1263.72,178.13Z" fill="#fff" stroke="#0000ff" stroke-width="1.0"/><path d="M1270.81,172.16L1273.86,177.46L1267.76,177.46Z" fill="#fff" stroke="#0000ff" stroke-width="1.0"/><path d="M1274.85,171.52L1277.90,176.82L1271.80,176.82Z" fill="#fff" stroke="#0000ff" stroke-width="1.0"/><path d="M1278.89,170.91L1281.94,176.21L1275.84,176.21Z" fill="#fff" stroke="#0000ff" stroke-width="1.0"/><path d="M1282.92,170.31L1285.97,175.61L1279.88,175.61Z" fill="#fff" stroke="#0000ff" stroke-width="1.0"/><path d="M1286.96,169.74L1290.01,175.04L1283.91,175.04Z" fill="#fff" stroke="#0000ff" stroke-width="1.0"/><path d="M1291.00,169.19L1294.05,174.49L1287.95,174.49Z" fill="#fff" stroke="#0000ff" stroke-width="1.0"/><path d="M1295.04,168.65L1298.09,173.95L1291.99,173.95Z" fill="#fff" stroke="#0000ff" stroke-width="1.0"/><path d="M1299.08,168.13L1302.13,173.43L1296.03,173.43Z" fill="#fff" stroke="#0000ff" stroke-width="1.0"/><path d="M1303.12,167.63L1306.17,172.93L1300.07,172.93Z" fill="#fff" stroke="#0000ff" stroke-width="1.0"/><path d="M1307.16,167.13L1310.21,172.43L1304.11,172.43Z" fill="#fff" stroke="#0000ff" stroke-width="1.0"/><path d="M1311.20,166.65L1314.25,171.95L1308.15,171.95Z" fill="#fff" stroke="#0000ff" stroke-width="1.0"/><path d="M1315.24,166.18L1318.29,171.48L1312.19,171.48Z" fill="#fff" stroke="#0000ff" stroke-width="1.0"/><path d="M1319.28,165.72L1322.33,171.02L1316.23,171.02Z" fill="#fff" stroke="#0000ff" stroke-width="1.0"/><path d="M1323.32,165.28L1326.37,170.58L1320.27,170.58Z" fill="#fff" stroke="#0000ff" stroke-width="1.0"/><path d="M1327.35,164.85L1330.40,170.15L1324.30,170.15Z" fill="#fff" stroke="#0000ff" stroke-width="1.0"/><path d="M1331.39,164.43L1334.44,169.73L1328.34,169.73Z" fill="#fff" stroke="#0000ff" stroke-width="1.0"/><path d="M1335.43,164.03L1338.48,169.33L1332.38,169.33Z" fill="#fff" stroke="#0000ff" stroke-width="1.0"/><path d="M1339.47,163.64L1342.52,168.94L1336.42,168.94Z" fill="#fff" stroke="#0000ff" stroke-width="1.0"/><path d="M1343.51,163.27L1346.56,168.57L1340.46,168.57Z" fill="#fff" stroke="#0000ff" stroke-width="1.0"/></g></g><g clip-path="url(#c2)"><g><path d="M1161.76,334.00L1165.76,338.00L1161.76,342.00L1157.76,338.00Z" fill="#ff00ff"/><path d="M1165.79,191.48L1169.79,195.48L1165.79,199.48L1161.79,195.48Z" fill="#ff00ff"/><path d="M1169.83,172.96L1173.83,176.96L1169.83,180.96L1165.83,176.96Z" fill="#ff00ff"/><path d="M1173.87,165.93L1177.87,169.93L1173.87,173.93L1169.87,169.93Z" fill="#ff00ff"/><path d="M1177.91,160.41L1181.91,164.41L1177.91,168.41L1173.91,164.41Z" fill="#ff00ff"/><path d="M1181.95,155.77L1185.95,159.77L1181.95,163.77L1177.95,159.77Z" fill="#ff00ff"/><path d="M1185.99,152.62L1189.99,156.62L1185.99,160.62L1181.99,156.62Z" fill="#ff00ff"/><path d="M1190.03,150.36L1194.03,154.36L1190.03,158.36L1186.03,154.36Z" fill="#ff00ff"/><path d="M1194.07,148.52L1198.07,152.52L1194.07,156.52L1190.07,152.52Z" fill="#ff00ff"/><path d="M1198.11,146.97L1202.11,150.97L1198.11,154.97L1194.11,150.97Z" fill="#ff00ff"/><path d="M1202.14,145.67L1206.14,149.67L1202.14,153.67L1198.14,149.67Z" fill="#ff00ff"/><path d="M1206.18,144.50L1210.18,148.50L1206.18,152.50L1202.18,148.50Z" fill="#ff00ff"/><path d="M1210.22,143.40L1214.22,147.40L1210.22,151.40L1206.22,147.40Z" fill="#ff00ff"/><path d="M1214.26,142.38L1218.26,146.38L1214.26,150.38L1210.26,146.38Z" fill="#ff00ff"/><path d="M1218.30,141.45L1222.30,145.45L1218.30,149.45L1214.30,145.45Z" fill="#ff00ff"/><path d="M1222.34,140.58L1226.34,144.58L1222.34,148.58L1218.34,144.58Z" fill="#ff00ff"/><path d="M1226.38,139.81L1230.38,143.81L1226.38,147.81L1222.38,143.81Z" fill="#ff00ff"/><path d="M1230.42,139.14L1234.42,143.14L1230.42,147.14L1226.42,143.14Z" fill="#ff00ff"/><path d="M1234.46,138.54L1238.46,142.54L1234.46,146.54L1230.46,142.54Z" fill="#ff00ff"/><path d="M1238.50,138.05L1242.50,142.05L1238.50,146.05L1234.50,142.05Z" fill="#ff00ff"/><path d="M1242.53,137.65L1246.53,141.65L1242.53,145.65L1238.53,141.65Z" fill="#ff00ff"/><path d="M1246.57,137.25L1250.57,141.25L1246.57,145.25L1242.57,141.25Z" fill="#ff00ff"/><path d="M1250.61,136.82L1254.61,140.82L1250.61,144.82L1246.61,140.82Z" fill="#ff00ff"/><path d="M1254.65,136.42L1258.65,140.42L1254.65,144.42L1250.65,140.42Z" fill="#ff00ff"/><path d="M1258.69,136.04L1262.69,140.04L1258.69,144.04L1254.69,140.04Z" fill="#ff00ff"/><path d="M1262.73,135.68L1266.73,139.68L1262.73,143.68L1258.73,139.68Z" fill="#ff00ff"/><path d="M1266.77,135.33L1270.77,139.33L1266.77,143.33L1262.77,139.33Z" fill="#ff00ff"/><path d="M1270.81,134.99L1274.81,138.99L1270.81,142.99L1266.81,138.99Z" fill="#ff00ff"/><path d="M1274.85,134.66L1278.85,138.66L1274.85,142.66L1270.85,138.66Z" fill="#ff00ff"/><path d="M1278.89,134.33L1282.89,138.33L1278.89,142.33L1274.89,138.33Z" fill="#ff00ff"/><path d="M1282.92,134.00L1286.92,138.00L1282.92,142.00L1278.92,138.00Z" fill="#ff00ff"/><path d="M1286.96,133.66L1290.96,137.66L1286.96,141.66L1282.96,137.66Z" fill="#ff00ff"/><path d="M1291.00,133.32L1295.00,137.32L1291.00,141.32L1287.00,137.32Z" fill="#ff00ff"/><path d="M1295.04,132.97L1299.04,136.97L1295.04,140.97L1291.04,136.97Z" fill="#ff00ff"/><path d="M1299.08,132.61L1303.08,136.61L1299.08,140.61L1295.08,136.61Z" fill="#ff00ff"/><path d="M1303.12,132.24L1307.12,136.24L1303.12,140.24L1299.12,136.24Z" fill="#ff00ff"/><path d="M1307.16,131.86L1311.16,135.86L1307.16,139.86L1303.16,135.86Z" fill="#ff00ff"/><path d="M1311.20,131.48L1315.20,135.48L1311.20,139.48L1307.20,135.48Z" fill="#ff00ff"/><path d="M1315.24,131.10L1319.24,135.10L1315.24,139.10L1311.24,135.10Z" fill="#ff00ff"/><path d="M1319.28,130.71L1323.28,134.71L1319.28,138.71L1315.28,134.71Z" fill="#ff00ff"/><path d="M1323.32,130.32L1327.32,134.32L1323.32,138.32L1319.32,134.32Z" fill="#ff00ff"/><path d="M1327.35,129.93L1331.35,133.93L1327.35,137.93L1323.35,133.93Z" fill="#ff00ff"/><path d="M1331.39,129.53L1335.39,133.53L1331.39,137.53L1327.39,133.53Z" fill="#ff00ff"/><path d="M1335.43,129.12L1339.43,133.12L1335.43,137.12L1331.43,133.12Z" fill="#ff00ff"/><path d="M1339.47,128.72L1343.47,132.72L1339.47,136.72L1335.47,132.72Z" fill="#ff00ff"/><path d="M1343.51,128.30L1347.51,132.30L1343.51,136.30L1339.51,132.30Z" fill="#ff00ff"/></g></g><g clip-path="url(#c2)"><g><path d="M1161.76,335.25L1164.51,338.00L1161.76,340.75L1159.01,338.00Z" fill="#fff" stroke="#008000" stroke-width="1.05"/><path d="M1165.79,226.85L1168.54,229.60L1165.79,232.35L1163.04,229.60Z" fill="#fff" stroke="#008000" stroke-width="1.05"/><path d="M1169.83,204.82L1172.58,207.57L1169.83,210.32L1167.08,207.57Z" fill="#fff" stroke="#008000" stroke-width="1.05"/><path d="M1173.87,194.27L1176.62,197.02L1173.87,199.77L1171.12,197.02Z" fill="#fff" stroke="#008000" stroke-width="1.05"/><path d="M1177.91,189.12L1180.66,191.87L1177.91,194.62L1175.16,191.87Z" fill="#fff" stroke="#008000" stroke-width="1.05"/><path d="M1181.95,184.90L1184.70,187.65L1181.95,190.40L1179.20,187.65Z" fill="#fff" stroke="#008000" stroke-width="1.05"/><path d="M1185.99,180.97L1188.74,183.72L1185.99,186.47L1183.24,183.72Z" fill="#fff" stroke="#008000" stroke-width="1.05"/><path d="M1190.03,178.06L1192.78,180.81L1190.03,183.56L1187.28,180.81Z" fill="#fff" stroke="#008000" stroke-width="1.05"/><path d="M1194.07,175.96L1196.82,178.71L1194.07,181.46L1191.32,178.71Z" fill="#fff" stroke="#008000" stroke-width="1.05"/><path d="M1198.11,174.19L1200.86,176.94L1198.11,179.69L1195.36,176.94Z" fill="#fff" stroke="#008000" stroke-width="1.05"/><path d="M1202.14,172.68L1204.89,175.43L1202.14,178.18L1199.39,175.43Z" fill="#fff" stroke="#008000" stroke-width="1.05"/><path d="M1206.18,171.36L1208.93,174.11L1206.18,176.86L1203.43,174.11Z" fill="#fff" stroke="#008000" stroke-width="1.05"/><path d="M1210.22,170.16L1212.97,172.91L1210.22,175.66L1207.47,172.91Z" fill="#fff" stroke="#008000" stroke-width="1.05"/><path d="M1214.26,169.07L1217.01,171.82L1214.26,174.57L1211.51,171.82Z" fill="#fff" stroke="#008000" stroke-width="1.05"/><path d="M1218.30,168.08L1221.05,170.83L1218.30,173.58L1215.55,170.83Z" fill="#fff" stroke="#008000" stroke-width="1.05"/><path d="M1222.34,167.20L1225.09,169.95L1222.34,172.70L1219.59,169.95Z" fill="#fff" stroke="#008000" stroke-width="1.05"/><path d="M1226.38,166.44L1229.13,169.19L1226.38,171.94L1223.63,169.19Z" fill="#fff" stroke="#008000" stroke-width="1.05"/><path d="M1230.42,165.79L1233.17,168.54L1230.42,171.29L1227.67,168.54Z" fill="#fff" stroke="#008000" stroke-width="1.05"/><path d="M1234.46,165.23L1237.21,167.98L1234.46,170.73L1231.71,167.98Z" fill="#fff" stroke="#008000" stroke-width="1.05"/><path d="M1238.50,164.74L1241.25,167.49L1238.50,170.24L1235.75,167.49Z" fill="#fff" stroke="#008000" stroke-width="1.05"/><path d="M1242.53,164.28L1245.28,167.03L1242.53,169.78L1239.78,167.03Z" fill="#fff" stroke="#008000" stroke-width="1.05"/><path d="M1246.57,163.83L1249.32,166.58L1246.57,169.33L1243.82,166.58Z" fill="#fff" stroke="#008000" stroke-width="1.05"/><path d="M1250.61,163.37L1253.36,166.12L1250.61,168.87L1247.86,166.12Z" fill="#fff" stroke="#008000" stroke-width="1.05"/><path d="M1254.65,162.92L1257.40,165.67L1254.65,168.42L1251.90,165.67Z" fill="#fff" stroke="#008000" stroke-width="1.05"/><path d="M1258.69,162.48L1261.44,165.23L1258.69,167.98L1255.94,165.23Z" fill="#fff" stroke="#008000" stroke-width="1.05"/><path d="M1262.73,162.04L1265.48,164.79L1262.73,167.54L1259.98,164.79Z" fill="#fff" stroke="#008000" stroke-width="1.05"/><path d="M1266.77,161.62L1269.52,164.37L1266.77,167.12L1264.02,164.37Z" fill="#fff" stroke="#008000" stroke-width="1.05"/><path d="M1270.81,161.20L1273.56,163.95L1270.81,166.70L1268.06,163.95Z" fill="#fff" stroke="#008000" stroke-width="1.05"/><path d="M1274.85,160.78L1277.60,163.53L1274.85,166.28L1272.10,163.53Z" fill="#fff" stroke="#008000" stroke-width="1.05"/><path d="M1278.89,160.38L1281.64,163.13L1278.89,165.88L1276.14,163.13Z" fill="#fff" stroke="#008000" stroke-width="1.05"/><path d="M1282.92,159.98L1285.67,162.73L1282.92,165.48L1280.17,162.73Z" fill="#fff" stroke="#008000" stroke-width="1.05"/><path d="M1286.96,159.58L1289.71,162.33L1286.96,165.08L1284.21,162.33Z" fill="#fff" stroke="#008000" stroke-width="1.05"/><path d="M1291.00,159.19L1293.75,161.94L1291.00,164.69L1288.25,161.94Z" fill="#fff" stroke="#008000" stroke-width="1.05"/><path d="M1295.04,158.81L1297.79,161.56L1295.04,164.31L1292.29,161.56Z" fill="#fff" stroke="#008000" stroke-width="1.05"/><path d="M1299.08,158.43L1301.83,161.18L1299.08,163.93L1296.33,161.18Z" fill="#fff" stroke="#008000" stroke-width="1.05"/><path d="M1303.12,158.06L1305.87,160.81L1303.12,163.56L1300.37,160.81Z" fill="#fff" stroke="#008000" stroke-width="1.05"/><path d="M1307.16,157.69L1309.91,160.44L1307.16,163.19L1304.41,160.44Z" fill="#fff" stroke="#008000" stroke-width="1.05"/><path d="M1311.20,157.33L1313.95,160.08L1311.20,162.83L1308.45,160.08Z" fill="#fff" stroke="#008000" stroke-width="1.05"/><path d="M1315.24,156.97L1317.99,159.72L1315.24,162.47L1312.49,159.72Z" fill="#fff" stroke="#008000" stroke-width="1.05"/><path d="M1319.28,156.62L1322.03,159.37L1319.28,162.12L1316.53,159.37Z" fill="#fff" stroke="#008000" stroke-width="1.05"/><path d="M1323.32,156.28L1326.07,159.03L1323.32,161.78L1320.57,159.03Z" fill="#fff" stroke="#008000" stroke-width="1.05"/><path d="M1327.35,155.94L1330.10,158.69L1327.35,161.44L1324.60,158.69Z" fill="#fff" stroke="#008000" stroke-width="1.05"/><path d="M1331.39,155.60L1334.14,158.35L1331.39,161.10L1328.64,158.35Z" fill="#fff" stroke="#008000" stroke-width="1.05"/><path d="M1335.43,155.28L1338.18,158.03L1335.43,160.78L1332.68,158.03Z" fill="#fff" stroke="#008000" stroke-width="1.05"/><path d="M1339.47,154.95L1342.22,157.70L1339.47,160.45L1336.72,157.70Z" fill="#fff" stroke="#008000" stroke-width="1.05"/><path d="M1343.51,154.64L1346.26,157.39L1343.51,160.14L1340.76,157.39Z" fill="#fff" stroke="#008000" stroke-width="1.05"/></g></g><g clip-path="url(#c2)"><g fill="#000"><rect x="977.05" y="335.05" width="5.9" height="5.9"/><rect x="985.13" y="338.06" width="5.9" height="5.9"/><rect x="993.21" y="340.07" width="5.9" height="5.9"/><rect x="1001.28" y="341.57" width="5.9" height="5.9"/><rect x="1009.36" y="343.58" width="5.9" height="5.9"/><rect x="1017.44" y="344.08" width="5.9" height="5.9"/><rect x="1025.52" y="345.08" width="5.9" height="5.9"/><rect x="1033.60" y="345.08" width="5.9" height="5.9"/><rect x="1041.67" y="345.08" width="5.9" height="5.9"/><rect x="1049.75" y="345.08" width="5.9" height="5.9"/><rect x="1057.83" y="345.08" width="5.9" height="5.9"/><rect x="1065.91" y="345.08" width="5.9" height="5.9"/><rect x="1073.99" y="345.08" width="5.9" height="5.9"/><rect x="1082.06" y="346.09" width="5.9" height="5.9"/><rect x="1090.14" y="346.09" width="5.9" height="5.9"/><rect x="1098.22" y="346.09" width="5.9" height="5.9"/><rect x="1106.30" y="346.09" width="5.9" height="5.9"/><rect x="1114.38" y="346.09" width="5.9" height="5.9"/><rect x="1122.45" y="346.09" width="5.9" height="5.9"/><rect x="1130.53" y="346.09" width="5.9" height="5.9"/><rect x="1138.61" y="346.09" width="5.9" height="5.9"/><rect x="1146.69" y="346.09" width="5.9" height="5.9"/><rect x="1154.77" y="346.09" width="5.9" height="5.9"/></g></g><g clip-path="url(#c2)"><g fill="#000"><rect x="1158.81" y="335.05" width="5.9" height="5.9"/><rect x="1166.88" y="335.05" width="5.9" height="5.9"/><rect x="1174.96" y="332.04" width="5.9" height="5.9"/><rect x="1183.04" y="332.04" width="5.9" height="5.9"/><rect x="1191.12" y="332.04" width="5.9" height="5.9"/><rect x="1199.19" y="332.04" width="5.9" height="5.9"/><rect x="1207.27" y="330.03" width="5.9" height="5.9"/><rect x="1215.35" y="330.03" width="5.9" height="5.9"/><rect x="1223.43" y="330.03" width="5.9" height="5.9"/><rect x="1231.51" y="330.03" width="5.9" height="5.9"/><rect x="1239.58" y="330.03" width="5.9" height="5.9"/><rect x="1247.66" y="326.52" width="5.9" height="5.9"/><rect x="1255.74" y="326.52" width="5.9" height="5.9"/><rect x="1263.82" y="326.52" width="5.9" height="5.9"/><rect x="1271.90" y="326.52" width="5.9" height="5.9"/><rect x="1279.97" y="325.02" width="5.9" height="5.9"/><rect x="1288.05" y="325.02" width="5.9" height="5.9"/><rect x="1296.13" y="324.51" width="5.9" height="5.9"/><rect x="1304.21" y="324.51" width="5.9" height="5.9"/><rect x="1312.29" y="321.50" width="5.9" height="5.9"/><rect x="1320.37" y="321.50" width="5.9" height="5.9"/><rect x="1328.44" y="322.01" width="5.9" height="5.9"/><rect x="1336.52" y="322.01" width="5.9" height="5.9"/></g></g><text x="1155.24" y="116.50" font-size="28" fill="#ff0000">Ti</text><text x="1211.10" y="237.00" font-size="28" fill="#000">20</text><text x="1242.76" y="223.40" font-size="16" fill="#000">th</text><text x="1264.18" y="237.00" font-size="28" fill="#000">abs</text><text x="1191.36" y="519.8" font-size="28"><tspan fill="#0000ff">Zr</tspan><tspan fill="#000">, </tspan><tspan fill="#008000">Nb</tspan></text><text x="1195.66" y="550.9" font-size="28"><tspan fill="#ff00ff">V, </tspan><tspan fill="#ff8000">Sc</tspan></text><text x="1184.34" y="587.90" font-size="28" fill="#ff0000">Ti</text><text x="1023.70" y="673.00" font-size="28" fill="#000">20</text><text x="1056.36" y="659.50" font-size="16" fill="#000">th</text><text x="1076.72" y="673.00" font-size="28" fill="#000">(des)</text></svg>
</body></html>
